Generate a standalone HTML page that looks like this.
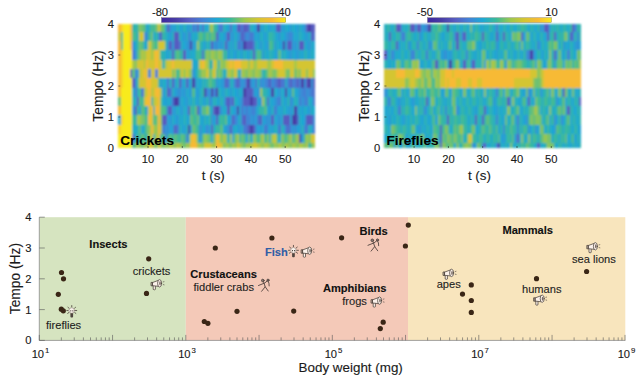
<!DOCTYPE html>
<html><head><meta charset="utf-8"><style>
html,body{margin:0;padding:0;background:#fff;width:640px;height:378px;overflow:hidden;}
svg{display:block;}
text{font-family:"Liberation Sans",sans-serif;}
</style></head><body>
<svg width="640" height="378" viewBox="0 0 640 378">
<defs><filter id="blur" x="-2%" y="-2%" width="104%" height="104%"><feGaussianBlur stdDeviation="0.8"/></filter></defs>
<rect width="640" height="378" fill="#ffffff"/>
<g shape-rendering="crispEdges" filter="url(#blur)">
<rect x="118.30" y="24.00" width="2.82" height="8.25" fill="#f7ba36"/>
<rect x="120.62" y="24.00" width="2.82" height="8.25" fill="#f8d22a"/>
<rect x="122.94" y="24.00" width="2.82" height="8.25" fill="#f8eb1e"/>
<rect x="125.25" y="24.00" width="2.82" height="8.25" fill="#f8eb1e"/>
<rect x="127.57" y="24.00" width="2.82" height="8.25" fill="#f8eb1e"/>
<rect x="129.89" y="24.00" width="2.82" height="8.25" fill="#f7ba36"/>
<rect x="132.21" y="24.00" width="2.82" height="8.25" fill="#36b6a4"/>
<rect x="134.52" y="24.00" width="2.82" height="8.25" fill="#2cb1b7"/>
<rect x="136.84" y="24.00" width="2.82" height="8.25" fill="#4bbc8d"/>
<rect x="139.16" y="24.00" width="2.82" height="8.25" fill="#8bc55c"/>
<rect x="141.48" y="24.00" width="2.82" height="8.25" fill="#6cc174"/>
<rect x="143.79" y="24.00" width="2.82" height="8.25" fill="#4dbc8b"/>
<rect x="146.11" y="24.00" width="2.82" height="8.25" fill="#23a3d4"/>
<rect x="148.43" y="24.00" width="2.82" height="8.25" fill="#2eb2b4"/>
<rect x="150.75" y="24.00" width="2.82" height="8.25" fill="#50bd89"/>
<rect x="153.06" y="24.00" width="2.82" height="8.25" fill="#38b89f"/>
<rect x="155.38" y="24.00" width="2.82" height="8.25" fill="#71c170"/>
<rect x="157.70" y="24.00" width="2.82" height="8.25" fill="#d4c532"/>
<rect x="160.02" y="24.00" width="2.82" height="8.25" fill="#7ec366"/>
<rect x="162.34" y="24.00" width="2.82" height="8.25" fill="#5fbf7e"/>
<rect x="164.65" y="24.00" width="2.82" height="8.25" fill="#1fa9d1"/>
<rect x="166.97" y="24.00" width="2.82" height="8.25" fill="#585cc0"/>
<rect x="169.29" y="24.00" width="2.82" height="8.25" fill="#3491d5"/>
<rect x="171.61" y="24.00" width="2.82" height="8.25" fill="#20a9d0"/>
<rect x="173.92" y="24.00" width="2.82" height="8.25" fill="#279ed5"/>
<rect x="176.24" y="24.00" width="2.82" height="8.25" fill="#2bb0bb"/>
<rect x="178.56" y="24.00" width="2.82" height="8.25" fill="#21aace"/>
<rect x="180.88" y="24.00" width="2.82" height="8.25" fill="#269fd4"/>
<rect x="183.19" y="24.00" width="2.82" height="8.25" fill="#2bb0b9"/>
<rect x="185.51" y="24.00" width="2.82" height="8.25" fill="#21a4d4"/>
<rect x="187.83" y="24.00" width="2.82" height="8.25" fill="#2d98d5"/>
<rect x="190.15" y="24.00" width="2.82" height="8.25" fill="#26adc5"/>
<rect x="192.46" y="24.00" width="2.82" height="8.25" fill="#447fd4"/>
<rect x="194.78" y="24.00" width="2.82" height="8.25" fill="#2c99d5"/>
<rect x="197.10" y="24.00" width="2.82" height="8.25" fill="#585cc0"/>
<rect x="199.42" y="24.00" width="2.82" height="8.25" fill="#20a6d4"/>
<rect x="201.74" y="24.00" width="2.82" height="8.25" fill="#4a74ce"/>
<rect x="204.05" y="24.00" width="2.82" height="8.25" fill="#27aec2"/>
<rect x="206.37" y="24.00" width="2.82" height="8.25" fill="#1fa7d4"/>
<rect x="208.69" y="24.00" width="2.82" height="8.25" fill="#7ac369"/>
<rect x="211.01" y="24.00" width="2.82" height="8.25" fill="#aec646"/>
<rect x="213.32" y="24.00" width="2.82" height="8.25" fill="#3dba97"/>
<rect x="215.64" y="24.00" width="2.82" height="8.25" fill="#2cb0b8"/>
<rect x="217.96" y="24.00" width="2.82" height="8.25" fill="#3d87d6"/>
<rect x="220.28" y="24.00" width="2.82" height="8.25" fill="#467bd2"/>
<rect x="222.59" y="24.00" width="2.82" height="8.25" fill="#2db1b6"/>
<rect x="224.91" y="24.00" width="2.82" height="8.25" fill="#23abca"/>
<rect x="227.23" y="24.00" width="2.82" height="8.25" fill="#24a2d4"/>
<rect x="229.55" y="24.00" width="2.82" height="8.25" fill="#4d70cb"/>
<rect x="231.86" y="24.00" width="2.82" height="8.25" fill="#24abc8"/>
<rect x="234.18" y="24.00" width="2.82" height="8.25" fill="#23a3d4"/>
<rect x="236.50" y="24.00" width="2.82" height="8.25" fill="#585cc0"/>
<rect x="238.82" y="24.00" width="2.82" height="8.25" fill="#585cc0"/>
<rect x="241.14" y="24.00" width="2.82" height="8.25" fill="#447ed4"/>
<rect x="243.45" y="24.00" width="2.82" height="8.25" fill="#585cc0"/>
<rect x="245.77" y="24.00" width="2.82" height="8.25" fill="#585cc0"/>
<rect x="248.09" y="24.00" width="2.82" height="8.25" fill="#4977cf"/>
<rect x="250.41" y="24.00" width="2.82" height="8.25" fill="#29afbd"/>
<rect x="252.72" y="24.00" width="2.82" height="8.25" fill="#20a9d1"/>
<rect x="255.04" y="24.00" width="2.82" height="8.25" fill="#289ed5"/>
<rect x="257.36" y="24.00" width="2.82" height="8.25" fill="#483ca5"/>
<rect x="259.68" y="24.00" width="2.82" height="8.25" fill="#20a9cf"/>
<rect x="261.99" y="24.00" width="2.82" height="8.25" fill="#279fd4"/>
<rect x="264.31" y="24.00" width="2.82" height="8.25" fill="#2bb0ba"/>
<rect x="266.63" y="24.00" width="2.82" height="8.25" fill="#21aace"/>
<rect x="268.95" y="24.00" width="2.82" height="8.25" fill="#26a0d4"/>
<rect x="271.26" y="24.00" width="2.82" height="8.25" fill="#25acc6"/>
<rect x="273.58" y="24.00" width="2.82" height="8.25" fill="#21a5d4"/>
<rect x="275.90" y="24.00" width="2.82" height="8.25" fill="#585cc0"/>
<rect x="278.22" y="24.00" width="2.82" height="8.25" fill="#585cc0"/>
<rect x="280.54" y="24.00" width="2.82" height="8.25" fill="#20a6d4"/>
<rect x="282.85" y="24.00" width="2.82" height="8.25" fill="#2c99d5"/>
<rect x="285.17" y="24.00" width="2.82" height="8.25" fill="#27adc2"/>
<rect x="287.49" y="24.00" width="2.82" height="8.25" fill="#1fa7d4"/>
<rect x="289.81" y="24.00" width="2.82" height="8.25" fill="#2b9ad5"/>
<rect x="292.12" y="24.00" width="2.82" height="8.25" fill="#28aec1"/>
<rect x="294.44" y="24.00" width="2.82" height="8.25" fill="#1ea8d4"/>
<rect x="296.76" y="24.00" width="2.82" height="8.25" fill="#2a9bd5"/>
<rect x="299.08" y="24.00" width="2.82" height="8.25" fill="#28aebf"/>
<rect x="301.39" y="24.00" width="2.82" height="8.25" fill="#25a1d4"/>
<rect x="303.71" y="24.00" width="2.82" height="8.25" fill="#3194d5"/>
<rect x="306.03" y="24.00" width="2.82" height="8.25" fill="#585cc0"/>
<rect x="308.35" y="24.00" width="2.82" height="8.25" fill="#483ca5"/>
<rect x="310.66" y="24.00" width="2.82" height="8.25" fill="#585cc0"/>
<rect x="312.98" y="24.00" width="2.32" height="8.25" fill="#585cc0"/>
<rect x="118.30" y="31.75" width="2.82" height="9.80" fill="#d4c532"/>
<rect x="120.62" y="31.75" width="2.82" height="9.80" fill="#3dba98"/>
<rect x="122.94" y="31.75" width="2.82" height="9.80" fill="#f8eb1e"/>
<rect x="125.25" y="31.75" width="2.82" height="9.80" fill="#f8eb1e"/>
<rect x="127.57" y="31.75" width="2.82" height="9.80" fill="#f8eb1e"/>
<rect x="129.89" y="31.75" width="2.82" height="9.80" fill="#f7ba36"/>
<rect x="132.21" y="31.75" width="2.82" height="9.80" fill="#4cbc8c"/>
<rect x="134.52" y="31.75" width="2.82" height="9.80" fill="#37b7a1"/>
<rect x="136.84" y="31.75" width="2.82" height="9.80" fill="#2eb1b5"/>
<rect x="139.16" y="31.75" width="2.82" height="9.80" fill="#d4c532"/>
<rect x="141.48" y="31.75" width="2.82" height="9.80" fill="#d4c532"/>
<rect x="143.79" y="31.75" width="2.82" height="9.80" fill="#2e97d5"/>
<rect x="146.11" y="31.75" width="2.82" height="9.80" fill="#3a8ad6"/>
<rect x="148.43" y="31.75" width="2.82" height="9.80" fill="#39b89e"/>
<rect x="150.75" y="31.75" width="2.82" height="9.80" fill="#72c16f"/>
<rect x="153.06" y="31.75" width="2.82" height="9.80" fill="#1fa9d2"/>
<rect x="155.38" y="31.75" width="2.82" height="9.80" fill="#33b5aa"/>
<rect x="157.70" y="31.75" width="2.82" height="9.80" fill="#3490d5"/>
<rect x="160.02" y="31.75" width="2.82" height="9.80" fill="#585cc0"/>
<rect x="162.34" y="31.75" width="2.82" height="9.80" fill="#34b5a8"/>
<rect x="164.65" y="31.75" width="2.82" height="9.80" fill="#2aafbc"/>
<rect x="166.97" y="31.75" width="2.82" height="9.80" fill="#20a9cf"/>
<rect x="169.29" y="31.75" width="2.82" height="9.80" fill="#279fd4"/>
<rect x="171.61" y="31.75" width="2.82" height="9.80" fill="#2bb0ba"/>
<rect x="173.92" y="31.75" width="2.82" height="9.80" fill="#585cc0"/>
<rect x="176.24" y="31.75" width="2.82" height="9.80" fill="#585cc0"/>
<rect x="178.56" y="31.75" width="2.82" height="9.80" fill="#2cb0b9"/>
<rect x="180.88" y="31.75" width="2.82" height="9.80" fill="#21a5d4"/>
<rect x="183.19" y="31.75" width="2.82" height="9.80" fill="#2d98d5"/>
<rect x="185.51" y="31.75" width="2.82" height="9.80" fill="#26adc4"/>
<rect x="187.83" y="31.75" width="2.82" height="9.80" fill="#4380d5"/>
<rect x="190.15" y="31.75" width="2.82" height="9.80" fill="#2c99d5"/>
<rect x="192.46" y="31.75" width="2.82" height="9.80" fill="#27adc2"/>
<rect x="194.78" y="31.75" width="2.82" height="9.80" fill="#1fa7d4"/>
<rect x="197.10" y="31.75" width="2.82" height="9.80" fill="#31b4ad"/>
<rect x="199.42" y="31.75" width="2.82" height="9.80" fill="#5abe81"/>
<rect x="201.74" y="31.75" width="2.82" height="9.80" fill="#3cba98"/>
<rect x="204.05" y="31.75" width="2.82" height="9.80" fill="#32b4ac"/>
<rect x="206.37" y="31.75" width="2.82" height="9.80" fill="#5dbe7f"/>
<rect x="208.69" y="31.75" width="2.82" height="9.80" fill="#36b6a4"/>
<rect x="211.01" y="31.75" width="2.82" height="9.80" fill="#69c076"/>
<rect x="213.32" y="31.75" width="2.82" height="9.80" fill="#4bbc8d"/>
<rect x="215.64" y="31.75" width="2.82" height="9.80" fill="#585cc0"/>
<rect x="217.96" y="31.75" width="2.82" height="9.80" fill="#3095d5"/>
<rect x="220.28" y="31.75" width="2.82" height="9.80" fill="#23abc9"/>
<rect x="222.59" y="31.75" width="2.82" height="9.80" fill="#23a2d4"/>
<rect x="224.91" y="31.75" width="2.82" height="9.80" fill="#2f96d5"/>
<rect x="227.23" y="31.75" width="2.82" height="9.80" fill="#585cc0"/>
<rect x="229.55" y="31.75" width="2.82" height="9.80" fill="#22a3d4"/>
<rect x="231.86" y="31.75" width="2.82" height="9.80" fill="#2e97d5"/>
<rect x="234.18" y="31.75" width="2.82" height="9.80" fill="#25acc6"/>
<rect x="236.50" y="31.75" width="2.82" height="9.80" fill="#299cd5"/>
<rect x="238.82" y="31.75" width="2.82" height="9.80" fill="#3590d5"/>
<rect x="241.14" y="31.75" width="2.82" height="9.80" fill="#585cc0"/>
<rect x="243.45" y="31.75" width="2.82" height="9.80" fill="#4877d0"/>
<rect x="245.77" y="31.75" width="2.82" height="9.80" fill="#3491d5"/>
<rect x="248.09" y="31.75" width="2.82" height="9.80" fill="#4085d6"/>
<rect x="250.41" y="31.75" width="2.82" height="9.80" fill="#4878d0"/>
<rect x="252.72" y="31.75" width="2.82" height="9.80" fill="#3392d5"/>
<rect x="255.04" y="31.75" width="2.82" height="9.80" fill="#21aace"/>
<rect x="257.36" y="31.75" width="2.82" height="9.80" fill="#269fd4"/>
<rect x="259.68" y="31.75" width="2.82" height="9.80" fill="#2bb0b9"/>
<rect x="261.99" y="31.75" width="2.82" height="9.80" fill="#22aacd"/>
<rect x="264.31" y="31.75" width="2.82" height="9.80" fill="#25a0d4"/>
<rect x="266.63" y="31.75" width="2.82" height="9.80" fill="#26adc5"/>
<rect x="268.95" y="31.75" width="2.82" height="9.80" fill="#3ab99c"/>
<rect x="271.26" y="31.75" width="2.82" height="9.80" fill="#30b3b0"/>
<rect x="273.58" y="31.75" width="2.82" height="9.80" fill="#26adc3"/>
<rect x="275.90" y="31.75" width="2.82" height="9.80" fill="#20a6d4"/>
<rect x="278.22" y="31.75" width="2.82" height="9.80" fill="#2b9ad5"/>
<rect x="280.54" y="31.75" width="2.82" height="9.80" fill="#27adc2"/>
<rect x="282.85" y="31.75" width="2.82" height="9.80" fill="#1fa7d4"/>
<rect x="285.17" y="31.75" width="2.82" height="9.80" fill="#2a9bd5"/>
<rect x="287.49" y="31.75" width="2.82" height="9.80" fill="#368fd5"/>
<rect x="289.81" y="31.75" width="2.82" height="9.80" fill="#4282d6"/>
<rect x="292.12" y="31.75" width="2.82" height="9.80" fill="#299cd5"/>
<rect x="294.44" y="31.75" width="2.82" height="9.80" fill="#22abcc"/>
<rect x="296.76" y="31.75" width="2.82" height="9.80" fill="#25a1d4"/>
<rect x="299.08" y="31.75" width="2.82" height="9.80" fill="#2db1b7"/>
<rect x="301.39" y="31.75" width="2.82" height="9.80" fill="#23abca"/>
<rect x="303.71" y="31.75" width="2.82" height="9.80" fill="#24a2d4"/>
<rect x="306.03" y="31.75" width="2.82" height="9.80" fill="#2f96d5"/>
<rect x="308.35" y="31.75" width="2.82" height="9.80" fill="#24abc8"/>
<rect x="310.66" y="31.75" width="2.82" height="9.80" fill="#585cc0"/>
<rect x="312.98" y="31.75" width="2.32" height="9.80" fill="#4c71cc"/>
<rect x="118.30" y="41.05" width="2.82" height="9.80" fill="#f7ba36"/>
<rect x="120.62" y="41.05" width="2.82" height="9.80" fill="#4abc8d"/>
<rect x="122.94" y="41.05" width="2.82" height="9.80" fill="#f8eb1e"/>
<rect x="125.25" y="41.05" width="2.82" height="9.80" fill="#f8eb1e"/>
<rect x="127.57" y="41.05" width="2.82" height="9.80" fill="#f8eb1e"/>
<rect x="129.89" y="41.05" width="2.82" height="9.80" fill="#f7ba36"/>
<rect x="132.21" y="41.05" width="2.82" height="9.80" fill="#2f96d5"/>
<rect x="134.52" y="41.05" width="2.82" height="9.80" fill="#24acc8"/>
<rect x="136.84" y="41.05" width="2.82" height="9.80" fill="#38b89f"/>
<rect x="139.16" y="41.05" width="2.82" height="9.80" fill="#71c170"/>
<rect x="141.48" y="41.05" width="2.82" height="9.80" fill="#52bd87"/>
<rect x="143.79" y="41.05" width="2.82" height="9.80" fill="#21a4d4"/>
<rect x="146.11" y="41.05" width="2.82" height="9.80" fill="#29afbe"/>
<rect x="148.43" y="41.05" width="2.82" height="9.80" fill="#d4c532"/>
<rect x="150.75" y="41.05" width="2.82" height="9.80" fill="#80c365"/>
<rect x="153.06" y="41.05" width="2.82" height="9.80" fill="#61bf7c"/>
<rect x="155.38" y="41.05" width="2.82" height="9.80" fill="#42bb93"/>
<rect x="157.70" y="41.05" width="2.82" height="9.80" fill="#d4c532"/>
<rect x="160.02" y="41.05" width="2.82" height="9.80" fill="#d4c532"/>
<rect x="162.34" y="41.05" width="2.82" height="9.80" fill="#d4c532"/>
<rect x="164.65" y="41.05" width="2.82" height="9.80" fill="#35b6a6"/>
<rect x="166.97" y="41.05" width="2.82" height="9.80" fill="#3293d5"/>
<rect x="169.29" y="41.05" width="2.82" height="9.80" fill="#585cc0"/>
<rect x="171.61" y="41.05" width="2.82" height="9.80" fill="#25a0d4"/>
<rect x="173.92" y="41.05" width="2.82" height="9.80" fill="#585cc0"/>
<rect x="176.24" y="41.05" width="2.82" height="9.80" fill="#585cc0"/>
<rect x="178.56" y="41.05" width="2.82" height="9.80" fill="#4b73cd"/>
<rect x="180.88" y="41.05" width="2.82" height="9.80" fill="#26adc3"/>
<rect x="183.19" y="41.05" width="2.82" height="9.80" fill="#20a6d4"/>
<rect x="185.51" y="41.05" width="2.82" height="9.80" fill="#2b9ad5"/>
<rect x="187.83" y="41.05" width="2.82" height="9.80" fill="#378ed5"/>
<rect x="190.15" y="41.05" width="2.82" height="9.80" fill="#483ca5"/>
<rect x="192.46" y="41.05" width="2.82" height="9.80" fill="#2a9bd5"/>
<rect x="194.78" y="41.05" width="2.82" height="9.80" fill="#28aec0"/>
<rect x="197.10" y="41.05" width="2.82" height="9.80" fill="#9bc750"/>
<rect x="199.42" y="41.05" width="2.82" height="9.80" fill="#32b4ab"/>
<rect x="201.74" y="41.05" width="2.82" height="9.80" fill="#22abcc"/>
<rect x="204.05" y="41.05" width="2.82" height="9.80" fill="#25a1d4"/>
<rect x="206.37" y="41.05" width="2.82" height="9.80" fill="#2db1b7"/>
<rect x="208.69" y="41.05" width="2.82" height="9.80" fill="#23abca"/>
<rect x="211.01" y="41.05" width="2.82" height="9.80" fill="#585cc0"/>
<rect x="213.32" y="41.05" width="2.82" height="9.80" fill="#2f96d5"/>
<rect x="215.64" y="41.05" width="2.82" height="9.80" fill="#3b89d6"/>
<rect x="217.96" y="41.05" width="2.82" height="9.80" fill="#23a3d4"/>
<rect x="220.28" y="41.05" width="2.82" height="9.80" fill="#2f97d5"/>
<rect x="222.59" y="41.05" width="2.82" height="9.80" fill="#25acc7"/>
<rect x="224.91" y="41.05" width="2.82" height="9.80" fill="#585cc0"/>
<rect x="227.23" y="41.05" width="2.82" height="9.80" fill="#2e98d5"/>
<rect x="229.55" y="41.05" width="2.82" height="9.80" fill="#25acc5"/>
<rect x="231.86" y="41.05" width="2.82" height="9.80" fill="#299dd5"/>
<rect x="234.18" y="41.05" width="2.82" height="9.80" fill="#29afbd"/>
<rect x="236.50" y="41.05" width="2.82" height="9.80" fill="#4084d6"/>
<rect x="238.82" y="41.05" width="2.82" height="9.80" fill="#4878d0"/>
<rect x="241.14" y="41.05" width="2.82" height="9.80" fill="#3391d5"/>
<rect x="243.45" y="41.05" width="2.82" height="9.80" fill="#483ca5"/>
<rect x="245.77" y="41.05" width="2.82" height="9.80" fill="#585cc0"/>
<rect x="248.09" y="41.05" width="2.82" height="9.80" fill="#585cc0"/>
<rect x="250.41" y="41.05" width="2.82" height="9.80" fill="#585cc0"/>
<rect x="252.72" y="41.05" width="2.82" height="9.80" fill="#477ad1"/>
<rect x="255.04" y="41.05" width="2.82" height="9.80" fill="#2cb0b9"/>
<rect x="257.36" y="41.05" width="2.82" height="9.80" fill="#22aacc"/>
<rect x="259.68" y="41.05" width="2.82" height="9.80" fill="#2d98d5"/>
<rect x="261.99" y="41.05" width="2.82" height="9.80" fill="#26adc4"/>
<rect x="264.31" y="41.05" width="2.82" height="9.80" fill="#20a6d4"/>
<rect x="266.63" y="41.05" width="2.82" height="9.80" fill="#2c99d5"/>
<rect x="268.95" y="41.05" width="2.82" height="9.80" fill="#58be83"/>
<rect x="271.26" y="41.05" width="2.82" height="9.80" fill="#3bb99a"/>
<rect x="273.58" y="41.05" width="2.82" height="9.80" fill="#2b9ad5"/>
<rect x="275.90" y="41.05" width="2.82" height="9.80" fill="#27aec1"/>
<rect x="278.22" y="41.05" width="2.82" height="9.80" fill="#1ea8d4"/>
<rect x="280.54" y="41.05" width="2.82" height="9.80" fill="#2a9bd5"/>
<rect x="282.85" y="41.05" width="2.82" height="9.80" fill="#483ca5"/>
<rect x="285.17" y="41.05" width="2.82" height="9.80" fill="#1fa8d3"/>
<rect x="287.49" y="41.05" width="2.82" height="9.80" fill="#585cc0"/>
<rect x="289.81" y="41.05" width="2.82" height="9.80" fill="#585cc0"/>
<rect x="292.12" y="41.05" width="2.82" height="9.80" fill="#24a1d4"/>
<rect x="294.44" y="41.05" width="2.82" height="9.80" fill="#3095d5"/>
<rect x="296.76" y="41.05" width="2.82" height="9.80" fill="#23abc9"/>
<rect x="299.08" y="41.05" width="2.82" height="9.80" fill="#585cc0"/>
<rect x="301.39" y="41.05" width="2.82" height="9.80" fill="#585cc0"/>
<rect x="303.71" y="41.05" width="2.82" height="9.80" fill="#24acc8"/>
<rect x="306.03" y="41.05" width="2.82" height="9.80" fill="#22a3d4"/>
<rect x="308.35" y="41.05" width="2.82" height="9.80" fill="#2e97d5"/>
<rect x="310.66" y="41.05" width="2.82" height="9.80" fill="#25acc6"/>
<rect x="312.98" y="41.05" width="2.32" height="9.80" fill="#21a4d4"/>
<rect x="118.30" y="50.35" width="2.82" height="9.80" fill="#f7ba36"/>
<rect x="120.62" y="50.35" width="2.82" height="9.80" fill="#f8d22a"/>
<rect x="122.94" y="50.35" width="2.82" height="9.80" fill="#f8eb1e"/>
<rect x="125.25" y="50.35" width="2.82" height="9.80" fill="#f8eb1e"/>
<rect x="127.57" y="50.35" width="2.82" height="9.80" fill="#f8eb1e"/>
<rect x="129.89" y="50.35" width="2.82" height="9.80" fill="#f8eb1e"/>
<rect x="132.21" y="50.35" width="2.82" height="9.80" fill="#447ed4"/>
<rect x="134.52" y="50.35" width="2.82" height="9.80" fill="#2e98d5"/>
<rect x="136.84" y="50.35" width="2.82" height="9.80" fill="#53bd87"/>
<rect x="139.16" y="50.35" width="2.82" height="9.80" fill="#7fc366"/>
<rect x="141.48" y="50.35" width="2.82" height="9.80" fill="#b0c645"/>
<rect x="143.79" y="50.35" width="2.82" height="9.80" fill="#9ec74e"/>
<rect x="146.11" y="50.35" width="2.82" height="9.80" fill="#d4c532"/>
<rect x="148.43" y="50.35" width="2.82" height="9.80" fill="#d4c532"/>
<rect x="150.75" y="50.35" width="2.82" height="9.80" fill="#9fc74e"/>
<rect x="153.06" y="50.35" width="2.82" height="9.80" fill="#d4c532"/>
<rect x="155.38" y="50.35" width="2.82" height="9.80" fill="#f7ba36"/>
<rect x="157.70" y="50.35" width="2.82" height="9.80" fill="#d4c532"/>
<rect x="160.02" y="50.35" width="2.82" height="9.80" fill="#35b6a5"/>
<rect x="162.34" y="50.35" width="2.82" height="9.80" fill="#2cb0b9"/>
<rect x="164.65" y="50.35" width="2.82" height="9.80" fill="#22aacc"/>
<rect x="166.97" y="50.35" width="2.82" height="9.80" fill="#25a1d4"/>
<rect x="169.29" y="50.35" width="2.82" height="9.80" fill="#26adc4"/>
<rect x="171.61" y="50.35" width="2.82" height="9.80" fill="#585cc0"/>
<rect x="173.92" y="50.35" width="2.82" height="9.80" fill="#30b3af"/>
<rect x="176.24" y="50.35" width="2.82" height="9.80" fill="#57be83"/>
<rect x="178.56" y="50.35" width="2.82" height="9.80" fill="#3bb99a"/>
<rect x="180.88" y="50.35" width="2.82" height="9.80" fill="#31b4ae"/>
<rect x="183.19" y="50.35" width="2.82" height="9.80" fill="#585cc0"/>
<rect x="185.51" y="50.35" width="2.82" height="9.80" fill="#1ea8d4"/>
<rect x="187.83" y="50.35" width="2.82" height="9.80" fill="#2a9bd5"/>
<rect x="190.15" y="50.35" width="2.82" height="9.80" fill="#28aec0"/>
<rect x="192.46" y="50.35" width="2.82" height="9.80" fill="#1ea8d3"/>
<rect x="194.78" y="50.35" width="2.82" height="9.80" fill="#33b4ab"/>
<rect x="197.10" y="50.35" width="2.82" height="9.80" fill="#4abc8d"/>
<rect x="199.42" y="50.35" width="2.82" height="9.80" fill="#37b7a2"/>
<rect x="201.74" y="50.35" width="2.82" height="9.80" fill="#4d6fcb"/>
<rect x="204.05" y="50.35" width="2.82" height="9.80" fill="#4dbc8b"/>
<rect x="206.37" y="50.35" width="2.82" height="9.80" fill="#8dc55b"/>
<rect x="208.69" y="50.35" width="2.82" height="9.80" fill="#6ec172"/>
<rect x="211.01" y="50.35" width="2.82" height="9.80" fill="#a7c74a"/>
<rect x="213.32" y="50.35" width="2.82" height="9.80" fill="#8fc559"/>
<rect x="215.64" y="50.35" width="2.82" height="9.80" fill="#71c170"/>
<rect x="217.96" y="50.35" width="2.82" height="9.80" fill="#a8c749"/>
<rect x="220.28" y="50.35" width="2.82" height="9.80" fill="#92c657"/>
<rect x="222.59" y="50.35" width="2.82" height="9.80" fill="#2fb2b1"/>
<rect x="224.91" y="50.35" width="2.82" height="9.80" fill="#40ba95"/>
<rect x="227.23" y="50.35" width="2.82" height="9.80" fill="#289dd5"/>
<rect x="229.55" y="50.35" width="2.82" height="9.80" fill="#2aafbd"/>
<rect x="231.86" y="50.35" width="2.82" height="9.80" fill="#20a9d0"/>
<rect x="234.18" y="50.35" width="2.82" height="9.80" fill="#279ed5"/>
<rect x="236.50" y="50.35" width="2.82" height="9.80" fill="#2aafbb"/>
<rect x="238.82" y="50.35" width="2.82" height="9.80" fill="#21aacf"/>
<rect x="241.14" y="50.35" width="2.82" height="9.80" fill="#269fd4"/>
<rect x="243.45" y="50.35" width="2.82" height="9.80" fill="#2bb0ba"/>
<rect x="245.77" y="50.35" width="2.82" height="9.80" fill="#21aacd"/>
<rect x="248.09" y="50.35" width="2.82" height="9.80" fill="#26a0d4"/>
<rect x="250.41" y="50.35" width="2.82" height="9.80" fill="#2cb0b8"/>
<rect x="252.72" y="50.35" width="2.82" height="9.80" fill="#585cc0"/>
<rect x="255.04" y="50.35" width="2.82" height="9.80" fill="#30b3b0"/>
<rect x="257.36" y="50.35" width="2.82" height="9.80" fill="#56be84"/>
<rect x="259.68" y="50.35" width="2.82" height="9.80" fill="#3bb99b"/>
<rect x="261.99" y="50.35" width="2.82" height="9.80" fill="#2b9ad5"/>
<rect x="264.31" y="50.35" width="2.82" height="9.80" fill="#27adc2"/>
<rect x="266.63" y="50.35" width="2.82" height="9.80" fill="#1fa7d4"/>
<rect x="268.95" y="50.35" width="2.82" height="9.80" fill="#32b4ad"/>
<rect x="271.26" y="50.35" width="2.82" height="9.80" fill="#28aec0"/>
<rect x="273.58" y="50.35" width="2.82" height="9.80" fill="#1ea8d4"/>
<rect x="275.90" y="50.35" width="2.82" height="9.80" fill="#2a9cd5"/>
<rect x="278.22" y="50.35" width="2.82" height="9.80" fill="#5ebf7f"/>
<rect x="280.54" y="50.35" width="2.82" height="9.80" fill="#1fa9d2"/>
<rect x="282.85" y="50.35" width="2.82" height="9.80" fill="#2db1b7"/>
<rect x="285.17" y="50.35" width="2.82" height="9.80" fill="#23abca"/>
<rect x="287.49" y="50.35" width="2.82" height="9.80" fill="#24a2d4"/>
<rect x="289.81" y="50.35" width="2.82" height="9.80" fill="#2f96d5"/>
<rect x="292.12" y="50.35" width="2.82" height="9.80" fill="#24abc9"/>
<rect x="294.44" y="50.35" width="2.82" height="9.80" fill="#23a3d4"/>
<rect x="296.76" y="50.35" width="2.82" height="9.80" fill="#2f97d5"/>
<rect x="299.08" y="50.35" width="2.82" height="9.80" fill="#24acc7"/>
<rect x="301.39" y="50.35" width="2.82" height="9.80" fill="#22a4d4"/>
<rect x="303.71" y="50.35" width="2.82" height="9.80" fill="#2fb2b2"/>
<rect x="306.03" y="50.35" width="2.82" height="9.80" fill="#25acc6"/>
<rect x="308.35" y="50.35" width="2.82" height="9.80" fill="#21a5d4"/>
<rect x="310.66" y="50.35" width="2.82" height="9.80" fill="#29afbd"/>
<rect x="312.98" y="50.35" width="2.32" height="9.80" fill="#20a9d1"/>
<rect x="118.30" y="59.65" width="2.82" height="9.80" fill="#f7ba36"/>
<rect x="120.62" y="59.65" width="2.82" height="9.80" fill="#f8d22a"/>
<rect x="122.94" y="59.65" width="2.82" height="9.80" fill="#f8eb1e"/>
<rect x="125.25" y="59.65" width="2.82" height="9.80" fill="#f8eb1e"/>
<rect x="127.57" y="59.65" width="2.82" height="9.80" fill="#f8eb1e"/>
<rect x="129.89" y="59.65" width="2.82" height="9.80" fill="#f8eb1e"/>
<rect x="132.21" y="59.65" width="2.82" height="9.80" fill="#a9c648"/>
<rect x="134.52" y="59.65" width="2.82" height="9.80" fill="#80c365"/>
<rect x="136.84" y="59.65" width="2.82" height="9.80" fill="#d4c532"/>
<rect x="139.16" y="59.65" width="2.82" height="9.80" fill="#d4c532"/>
<rect x="141.48" y="59.65" width="2.82" height="9.80" fill="#d4c532"/>
<rect x="143.79" y="59.65" width="2.82" height="9.80" fill="#b3c644"/>
<rect x="146.11" y="59.65" width="2.82" height="9.80" fill="#f7ba36"/>
<rect x="148.43" y="59.65" width="2.82" height="9.80" fill="#d4c532"/>
<rect x="150.75" y="59.65" width="2.82" height="9.80" fill="#d4c532"/>
<rect x="153.06" y="59.65" width="2.82" height="9.80" fill="#d4c532"/>
<rect x="155.38" y="59.65" width="2.82" height="9.80" fill="#f7ba36"/>
<rect x="157.70" y="59.65" width="2.82" height="9.80" fill="#d4c532"/>
<rect x="160.02" y="59.65" width="2.82" height="9.80" fill="#d4c532"/>
<rect x="162.34" y="59.65" width="2.82" height="9.80" fill="#30b3b0"/>
<rect x="164.65" y="59.65" width="2.82" height="9.80" fill="#abc648"/>
<rect x="166.97" y="59.65" width="2.82" height="9.80" fill="#d4c532"/>
<rect x="169.29" y="59.65" width="2.82" height="9.80" fill="#d4c532"/>
<rect x="171.61" y="59.65" width="2.82" height="9.80" fill="#f7ba36"/>
<rect x="173.92" y="59.65" width="2.82" height="9.80" fill="#d4c532"/>
<rect x="176.24" y="59.65" width="2.82" height="9.80" fill="#d4c532"/>
<rect x="178.56" y="59.65" width="2.82" height="9.80" fill="#d4c532"/>
<rect x="180.88" y="59.65" width="2.82" height="9.80" fill="#d4c532"/>
<rect x="183.19" y="59.65" width="2.82" height="9.80" fill="#d4c532"/>
<rect x="185.51" y="59.65" width="2.82" height="9.80" fill="#d4c532"/>
<rect x="187.83" y="59.65" width="2.82" height="9.80" fill="#d4c532"/>
<rect x="190.15" y="59.65" width="2.82" height="9.80" fill="#d4c532"/>
<rect x="192.46" y="59.65" width="2.82" height="9.80" fill="#23abca"/>
<rect x="194.78" y="59.65" width="2.82" height="9.80" fill="#24a2d4"/>
<rect x="197.10" y="59.65" width="2.82" height="9.80" fill="#2db1b5"/>
<rect x="199.42" y="59.65" width="2.82" height="9.80" fill="#d4c532"/>
<rect x="201.74" y="59.65" width="2.82" height="9.80" fill="#f7ba36"/>
<rect x="204.05" y="59.65" width="2.82" height="9.80" fill="#d4c532"/>
<rect x="206.37" y="59.65" width="2.82" height="9.80" fill="#a7c74a"/>
<rect x="208.69" y="59.65" width="2.82" height="9.80" fill="#39b89f"/>
<rect x="211.01" y="59.65" width="2.82" height="9.80" fill="#2fb2b2"/>
<rect x="213.32" y="59.65" width="2.82" height="9.80" fill="#d4c532"/>
<rect x="215.64" y="59.65" width="2.82" height="9.80" fill="#93c656"/>
<rect x="217.96" y="59.65" width="2.82" height="9.80" fill="#30b3b1"/>
<rect x="220.28" y="59.65" width="2.82" height="9.80" fill="#9ec74e"/>
<rect x="222.59" y="59.65" width="2.82" height="9.80" fill="#81c364"/>
<rect x="224.91" y="59.65" width="2.82" height="9.80" fill="#b2c644"/>
<rect x="227.23" y="59.65" width="2.82" height="9.80" fill="#d4c532"/>
<rect x="229.55" y="59.65" width="2.82" height="9.80" fill="#f7ba36"/>
<rect x="231.86" y="59.65" width="2.82" height="9.80" fill="#d4c532"/>
<rect x="234.18" y="59.65" width="2.82" height="9.80" fill="#f7ba36"/>
<rect x="236.50" y="59.65" width="2.82" height="9.80" fill="#f7ba36"/>
<rect x="238.82" y="59.65" width="2.82" height="9.80" fill="#f7ba36"/>
<rect x="241.14" y="59.65" width="2.82" height="9.80" fill="#d4c532"/>
<rect x="243.45" y="59.65" width="2.82" height="9.80" fill="#d4c532"/>
<rect x="245.77" y="59.65" width="2.82" height="9.80" fill="#d4c532"/>
<rect x="248.09" y="59.65" width="2.82" height="9.80" fill="#95c655"/>
<rect x="250.41" y="59.65" width="2.82" height="9.80" fill="#d4c532"/>
<rect x="252.72" y="59.65" width="2.82" height="9.80" fill="#abc647"/>
<rect x="255.04" y="59.65" width="2.82" height="9.80" fill="#97c753"/>
<rect x="257.36" y="59.65" width="2.82" height="9.80" fill="#d4c532"/>
<rect x="259.68" y="59.65" width="2.82" height="9.80" fill="#d4c532"/>
<rect x="261.99" y="59.65" width="2.82" height="9.80" fill="#d4c532"/>
<rect x="264.31" y="59.65" width="2.82" height="9.80" fill="#d4c532"/>
<rect x="266.63" y="59.65" width="2.82" height="9.80" fill="#aec646"/>
<rect x="268.95" y="59.65" width="2.82" height="9.80" fill="#9cc750"/>
<rect x="271.26" y="59.65" width="2.82" height="9.80" fill="#d4c532"/>
<rect x="273.58" y="59.65" width="2.82" height="9.80" fill="#f7ba36"/>
<rect x="275.90" y="59.65" width="2.82" height="9.80" fill="#f7ba36"/>
<rect x="278.22" y="59.65" width="2.82" height="9.80" fill="#f7ba36"/>
<rect x="280.54" y="59.65" width="2.82" height="9.80" fill="#f7ba36"/>
<rect x="282.85" y="59.65" width="2.82" height="9.80" fill="#d4c532"/>
<rect x="285.17" y="59.65" width="2.82" height="9.80" fill="#d4c532"/>
<rect x="287.49" y="59.65" width="2.82" height="9.80" fill="#d4c532"/>
<rect x="289.81" y="59.65" width="2.82" height="9.80" fill="#d4c532"/>
<rect x="292.12" y="59.65" width="2.82" height="9.80" fill="#d4c532"/>
<rect x="294.44" y="59.65" width="2.82" height="9.80" fill="#a8c749"/>
<rect x="296.76" y="59.65" width="2.82" height="9.80" fill="#d4c532"/>
<rect x="299.08" y="59.65" width="2.82" height="9.80" fill="#d4c532"/>
<rect x="301.39" y="59.65" width="2.82" height="9.80" fill="#d4c532"/>
<rect x="303.71" y="59.65" width="2.82" height="9.80" fill="#d4c532"/>
<rect x="306.03" y="59.65" width="2.82" height="9.80" fill="#d4c532"/>
<rect x="308.35" y="59.65" width="2.82" height="9.80" fill="#d4c532"/>
<rect x="310.66" y="59.65" width="2.82" height="9.80" fill="#d4c532"/>
<rect x="312.98" y="59.65" width="2.32" height="9.80" fill="#d4c532"/>
<rect x="118.30" y="68.95" width="2.82" height="9.80" fill="#f7ba36"/>
<rect x="120.62" y="68.95" width="2.82" height="9.80" fill="#f8d22a"/>
<rect x="122.94" y="68.95" width="2.82" height="9.80" fill="#f8eb1e"/>
<rect x="125.25" y="68.95" width="2.82" height="9.80" fill="#f8eb1e"/>
<rect x="127.57" y="68.95" width="2.82" height="9.80" fill="#f8eb1e"/>
<rect x="129.89" y="68.95" width="2.82" height="9.80" fill="#585cc0"/>
<rect x="132.21" y="68.95" width="2.82" height="9.80" fill="#62bf7b"/>
<rect x="134.52" y="68.95" width="2.82" height="9.80" fill="#3f85d6"/>
<rect x="136.84" y="68.95" width="2.82" height="9.80" fill="#279ed4"/>
<rect x="139.16" y="68.95" width="2.82" height="9.80" fill="#b3c643"/>
<rect x="141.48" y="68.95" width="2.82" height="9.80" fill="#d4c532"/>
<rect x="143.79" y="68.95" width="2.82" height="9.80" fill="#f7ba36"/>
<rect x="146.11" y="68.95" width="2.82" height="9.80" fill="#d4c532"/>
<rect x="148.43" y="68.95" width="2.82" height="9.80" fill="#3d87d6"/>
<rect x="150.75" y="68.95" width="2.82" height="9.80" fill="#d4c532"/>
<rect x="153.06" y="68.95" width="2.82" height="9.80" fill="#d4c532"/>
<rect x="155.38" y="68.95" width="2.82" height="9.80" fill="#4380d5"/>
<rect x="157.70" y="68.95" width="2.82" height="9.80" fill="#d4c532"/>
<rect x="160.02" y="68.95" width="2.82" height="9.80" fill="#d4c532"/>
<rect x="162.34" y="68.95" width="2.82" height="9.80" fill="#d4c532"/>
<rect x="164.65" y="68.95" width="2.82" height="9.80" fill="#d4c532"/>
<rect x="166.97" y="68.95" width="2.82" height="9.80" fill="#d4c532"/>
<rect x="169.29" y="68.95" width="2.82" height="9.80" fill="#d4c532"/>
<rect x="171.61" y="68.95" width="2.82" height="9.80" fill="#7bc368"/>
<rect x="173.92" y="68.95" width="2.82" height="9.80" fill="#aec646"/>
<rect x="176.24" y="68.95" width="2.82" height="9.80" fill="#3dba97"/>
<rect x="178.56" y="68.95" width="2.82" height="9.80" fill="#7dc366"/>
<rect x="180.88" y="68.95" width="2.82" height="9.80" fill="#d4c532"/>
<rect x="183.19" y="68.95" width="2.82" height="9.80" fill="#9dc74f"/>
<rect x="185.51" y="68.95" width="2.82" height="9.80" fill="#d4c532"/>
<rect x="187.83" y="68.95" width="2.82" height="9.80" fill="#a5c74b"/>
<rect x="190.15" y="68.95" width="2.82" height="9.80" fill="#8dc55b"/>
<rect x="192.46" y="68.95" width="2.82" height="9.80" fill="#2f96d5"/>
<rect x="194.78" y="68.95" width="2.82" height="9.80" fill="#24acc8"/>
<rect x="197.10" y="68.95" width="2.82" height="9.80" fill="#38b8a0"/>
<rect x="199.42" y="68.95" width="2.82" height="9.80" fill="#70c170"/>
<rect x="201.74" y="68.95" width="2.82" height="9.80" fill="#a8c749"/>
<rect x="204.05" y="68.95" width="2.82" height="9.80" fill="#92c657"/>
<rect x="206.37" y="68.95" width="2.82" height="9.80" fill="#d4c532"/>
<rect x="208.69" y="68.95" width="2.82" height="9.80" fill="#54bd86"/>
<rect x="211.01" y="68.95" width="2.82" height="9.80" fill="#94c655"/>
<rect x="213.32" y="68.95" width="2.82" height="9.80" fill="#d4c532"/>
<rect x="215.64" y="68.95" width="2.82" height="9.80" fill="#42bb94"/>
<rect x="217.96" y="68.95" width="2.82" height="9.80" fill="#82c463"/>
<rect x="220.28" y="68.95" width="2.82" height="9.80" fill="#63bf7a"/>
<rect x="222.59" y="68.95" width="2.82" height="9.80" fill="#21aacf"/>
<rect x="224.91" y="68.95" width="2.82" height="9.80" fill="#35b6a6"/>
<rect x="227.23" y="68.95" width="2.82" height="9.80" fill="#b4c643"/>
<rect x="229.55" y="68.95" width="2.82" height="9.80" fill="#a1c74d"/>
<rect x="231.86" y="68.95" width="2.82" height="9.80" fill="#87c45f"/>
<rect x="234.18" y="68.95" width="2.82" height="9.80" fill="#d4c532"/>
<rect x="236.50" y="68.95" width="2.82" height="9.80" fill="#49bc8e"/>
<rect x="238.82" y="68.95" width="2.82" height="9.80" fill="#25a1d4"/>
<rect x="241.14" y="68.95" width="2.82" height="9.80" fill="#abc648"/>
<rect x="243.45" y="68.95" width="2.82" height="9.80" fill="#96c654"/>
<rect x="245.77" y="68.95" width="2.82" height="9.80" fill="#77c26b"/>
<rect x="248.09" y="68.95" width="2.82" height="9.80" fill="#acc647"/>
<rect x="250.41" y="68.95" width="2.82" height="9.80" fill="#99c752"/>
<rect x="252.72" y="68.95" width="2.82" height="9.80" fill="#7ac269"/>
<rect x="255.04" y="68.95" width="2.82" height="9.80" fill="#aec646"/>
<rect x="257.36" y="68.95" width="2.82" height="9.80" fill="#9bc750"/>
<rect x="259.68" y="68.95" width="2.82" height="9.80" fill="#7cc367"/>
<rect x="261.99" y="68.95" width="2.82" height="9.80" fill="#29aebf"/>
<rect x="264.31" y="68.95" width="2.82" height="9.80" fill="#3eba96"/>
<rect x="266.63" y="68.95" width="2.82" height="9.80" fill="#7fc365"/>
<rect x="268.95" y="68.95" width="2.82" height="9.80" fill="#b0c645"/>
<rect x="271.26" y="68.95" width="2.82" height="9.80" fill="#8bc55c"/>
<rect x="273.58" y="68.95" width="2.82" height="9.80" fill="#6dc173"/>
<rect x="275.90" y="68.95" width="2.82" height="9.80" fill="#a6c74a"/>
<rect x="278.22" y="68.95" width="2.82" height="9.80" fill="#d4c532"/>
<rect x="280.54" y="68.95" width="2.82" height="9.80" fill="#d4c532"/>
<rect x="282.85" y="68.95" width="2.82" height="9.80" fill="#d4c532"/>
<rect x="285.17" y="68.95" width="2.82" height="9.80" fill="#90c658"/>
<rect x="287.49" y="68.95" width="2.82" height="9.80" fill="#71c16f"/>
<rect x="289.81" y="68.95" width="2.82" height="9.80" fill="#d4c532"/>
<rect x="292.12" y="68.95" width="2.82" height="9.80" fill="#d4c532"/>
<rect x="294.44" y="68.95" width="2.82" height="9.80" fill="#74c26e"/>
<rect x="296.76" y="68.95" width="2.82" height="9.80" fill="#aac648"/>
<rect x="299.08" y="68.95" width="2.82" height="9.80" fill="#81c364"/>
<rect x="301.39" y="68.95" width="2.82" height="9.80" fill="#d4c532"/>
<rect x="303.71" y="68.95" width="2.82" height="9.80" fill="#d4c532"/>
<rect x="306.03" y="68.95" width="2.82" height="9.80" fill="#83c462"/>
<rect x="308.35" y="68.95" width="2.82" height="9.80" fill="#d4c532"/>
<rect x="310.66" y="68.95" width="2.82" height="9.80" fill="#d4c532"/>
<rect x="312.98" y="68.95" width="2.32" height="9.80" fill="#86c460"/>
<rect x="118.30" y="78.25" width="2.82" height="9.80" fill="#f7ba36"/>
<rect x="120.62" y="78.25" width="2.82" height="9.80" fill="#f8d22a"/>
<rect x="122.94" y="78.25" width="2.82" height="9.80" fill="#f8eb1e"/>
<rect x="125.25" y="78.25" width="2.82" height="9.80" fill="#f8eb1e"/>
<rect x="127.57" y="78.25" width="2.82" height="9.80" fill="#f8eb1e"/>
<rect x="129.89" y="78.25" width="2.82" height="9.80" fill="#f8eb1e"/>
<rect x="132.21" y="78.25" width="2.82" height="9.80" fill="#585cc0"/>
<rect x="134.52" y="78.25" width="2.82" height="9.80" fill="#3293d5"/>
<rect x="136.84" y="78.25" width="2.82" height="9.80" fill="#47bb90"/>
<rect x="139.16" y="78.25" width="2.82" height="9.80" fill="#d4c532"/>
<rect x="141.48" y="78.25" width="2.82" height="9.80" fill="#d4c532"/>
<rect x="143.79" y="78.25" width="2.82" height="9.80" fill="#d4c532"/>
<rect x="146.11" y="78.25" width="2.82" height="9.80" fill="#f7ba36"/>
<rect x="148.43" y="78.25" width="2.82" height="9.80" fill="#f7ba36"/>
<rect x="150.75" y="78.25" width="2.82" height="9.80" fill="#d4c532"/>
<rect x="153.06" y="78.25" width="2.82" height="9.80" fill="#d4c532"/>
<rect x="155.38" y="78.25" width="2.82" height="9.80" fill="#d4c532"/>
<rect x="157.70" y="78.25" width="2.82" height="9.80" fill="#3bba9a"/>
<rect x="160.02" y="78.25" width="2.82" height="9.80" fill="#2b9bd5"/>
<rect x="162.34" y="78.25" width="2.82" height="9.80" fill="#28aec1"/>
<rect x="164.65" y="78.25" width="2.82" height="9.80" fill="#1ea8d4"/>
<rect x="166.97" y="78.25" width="2.82" height="9.80" fill="#4976cf"/>
<rect x="169.29" y="78.25" width="2.82" height="9.80" fill="#28aebf"/>
<rect x="171.61" y="78.25" width="2.82" height="9.80" fill="#585cc0"/>
<rect x="173.92" y="78.25" width="2.82" height="9.80" fill="#299dd5"/>
<rect x="176.24" y="78.25" width="2.82" height="9.80" fill="#29afbd"/>
<rect x="178.56" y="78.25" width="2.82" height="9.80" fill="#585cc0"/>
<rect x="180.88" y="78.25" width="2.82" height="9.80" fill="#3095d5"/>
<rect x="183.19" y="78.25" width="2.82" height="9.80" fill="#24abc9"/>
<rect x="185.51" y="78.25" width="2.82" height="9.80" fill="#585cc0"/>
<rect x="187.83" y="78.25" width="2.82" height="9.80" fill="#2f96d5"/>
<rect x="190.15" y="78.25" width="2.82" height="9.80" fill="#24acc7"/>
<rect x="192.46" y="78.25" width="2.82" height="9.80" fill="#483ca5"/>
<rect x="194.78" y="78.25" width="2.82" height="9.80" fill="#2e97d5"/>
<rect x="197.10" y="78.25" width="2.82" height="9.80" fill="#25acc6"/>
<rect x="199.42" y="78.25" width="2.82" height="9.80" fill="#21a5d4"/>
<rect x="201.74" y="78.25" width="2.82" height="9.80" fill="#30b3b1"/>
<rect x="204.05" y="78.25" width="2.82" height="9.80" fill="#26adc4"/>
<rect x="206.37" y="78.25" width="2.82" height="9.80" fill="#34b5a9"/>
<rect x="208.69" y="78.25" width="2.82" height="9.80" fill="#62bf7b"/>
<rect x="211.01" y="78.25" width="2.82" height="9.80" fill="#43bb93"/>
<rect x="213.32" y="78.25" width="2.82" height="9.80" fill="#34b5a7"/>
<rect x="215.64" y="78.25" width="2.82" height="9.80" fill="#3392d5"/>
<rect x="217.96" y="78.25" width="2.82" height="9.80" fill="#21aace"/>
<rect x="220.28" y="78.25" width="2.82" height="9.80" fill="#269fd4"/>
<rect x="222.59" y="78.25" width="2.82" height="9.80" fill="#3293d5"/>
<rect x="224.91" y="78.25" width="2.82" height="9.80" fill="#585cc0"/>
<rect x="227.23" y="78.25" width="2.82" height="9.80" fill="#467ad2"/>
<rect x="229.55" y="78.25" width="2.82" height="9.80" fill="#2cb1b8"/>
<rect x="231.86" y="78.25" width="2.82" height="9.80" fill="#23abcb"/>
<rect x="234.18" y="78.25" width="2.82" height="9.80" fill="#467bd2"/>
<rect x="236.50" y="78.25" width="2.82" height="9.80" fill="#585cc0"/>
<rect x="238.82" y="78.25" width="2.82" height="9.80" fill="#4381d5"/>
<rect x="241.14" y="78.25" width="2.82" height="9.80" fill="#2b9ad5"/>
<rect x="243.45" y="78.25" width="2.82" height="9.80" fill="#378ed5"/>
<rect x="245.77" y="78.25" width="2.82" height="9.80" fill="#585cc0"/>
<rect x="248.09" y="78.25" width="2.82" height="9.80" fill="#483ca5"/>
<rect x="250.41" y="78.25" width="2.82" height="9.80" fill="#368fd5"/>
<rect x="252.72" y="78.25" width="2.82" height="9.80" fill="#1ea8d3"/>
<rect x="255.04" y="78.25" width="2.82" height="9.80" fill="#4976cf"/>
<rect x="257.36" y="78.25" width="2.82" height="9.80" fill="#29afbe"/>
<rect x="259.68" y="78.25" width="2.82" height="9.80" fill="#4183d6"/>
<rect x="261.99" y="78.25" width="2.82" height="9.80" fill="#289dd5"/>
<rect x="264.31" y="78.25" width="2.82" height="9.80" fill="#3c89d6"/>
<rect x="266.63" y="78.25" width="2.82" height="9.80" fill="#457cd3"/>
<rect x="268.95" y="78.25" width="2.82" height="9.80" fill="#585cc0"/>
<rect x="271.26" y="78.25" width="2.82" height="9.80" fill="#3b8ad6"/>
<rect x="273.58" y="78.25" width="2.82" height="9.80" fill="#457dd3"/>
<rect x="275.90" y="78.25" width="2.82" height="9.80" fill="#4c71cc"/>
<rect x="278.22" y="78.25" width="2.82" height="9.80" fill="#585cc0"/>
<rect x="280.54" y="78.25" width="2.82" height="9.80" fill="#447ed4"/>
<rect x="282.85" y="78.25" width="2.82" height="9.80" fill="#4b72cd"/>
<rect x="285.17" y="78.25" width="2.82" height="9.80" fill="#26acc5"/>
<rect x="287.49" y="78.25" width="2.82" height="9.80" fill="#447fd4"/>
<rect x="289.81" y="78.25" width="2.82" height="9.80" fill="#585cc0"/>
<rect x="292.12" y="78.25" width="2.82" height="9.80" fill="#4084d6"/>
<rect x="294.44" y="78.25" width="2.82" height="9.80" fill="#4878d0"/>
<rect x="296.76" y="78.25" width="2.82" height="9.80" fill="#585cc0"/>
<rect x="299.08" y="78.25" width="2.82" height="9.80" fill="#3f85d6"/>
<rect x="301.39" y="78.25" width="2.82" height="9.80" fill="#483ca5"/>
<rect x="303.71" y="78.25" width="2.82" height="9.80" fill="#3293d5"/>
<rect x="306.03" y="78.25" width="2.82" height="9.80" fill="#585cc0"/>
<rect x="308.35" y="78.25" width="2.82" height="9.80" fill="#483ca5"/>
<rect x="310.66" y="78.25" width="2.82" height="9.80" fill="#3194d5"/>
<rect x="312.98" y="78.25" width="2.32" height="9.80" fill="#585cc0"/>
<rect x="118.30" y="87.55" width="2.82" height="9.80" fill="#f7ba36"/>
<rect x="120.62" y="87.55" width="2.82" height="9.80" fill="#f8eb1e"/>
<rect x="122.94" y="87.55" width="2.82" height="9.80" fill="#f8eb1e"/>
<rect x="125.25" y="87.55" width="2.82" height="9.80" fill="#f8eb1e"/>
<rect x="127.57" y="87.55" width="2.82" height="9.80" fill="#f8eb1e"/>
<rect x="129.89" y="87.55" width="2.82" height="9.80" fill="#f8eb1e"/>
<rect x="132.21" y="87.55" width="2.82" height="9.80" fill="#22aacd"/>
<rect x="134.52" y="87.55" width="2.82" height="9.80" fill="#467ad2"/>
<rect x="136.84" y="87.55" width="2.82" height="9.80" fill="#2cb1b8"/>
<rect x="139.16" y="87.55" width="2.82" height="9.80" fill="#4abc8d"/>
<rect x="141.48" y="87.55" width="2.82" height="9.80" fill="#467bd2"/>
<rect x="143.79" y="87.55" width="2.82" height="9.80" fill="#abc647"/>
<rect x="146.11" y="87.55" width="2.82" height="9.80" fill="#d4c532"/>
<rect x="148.43" y="87.55" width="2.82" height="9.80" fill="#f7ba36"/>
<rect x="150.75" y="87.55" width="2.82" height="9.80" fill="#adc647"/>
<rect x="153.06" y="87.55" width="2.82" height="9.80" fill="#d4c532"/>
<rect x="155.38" y="87.55" width="2.82" height="9.80" fill="#f7ba36"/>
<rect x="157.70" y="87.55" width="2.82" height="9.80" fill="#f7ba36"/>
<rect x="160.02" y="87.55" width="2.82" height="9.80" fill="#9cc750"/>
<rect x="162.34" y="87.55" width="2.82" height="9.80" fill="#299cd5"/>
<rect x="164.65" y="87.55" width="2.82" height="9.80" fill="#29afbe"/>
<rect x="166.97" y="87.55" width="2.82" height="9.80" fill="#585cc0"/>
<rect x="169.29" y="87.55" width="2.82" height="9.80" fill="#4877d0"/>
<rect x="171.61" y="87.55" width="2.82" height="9.80" fill="#2aafbd"/>
<rect x="173.92" y="87.55" width="2.82" height="9.80" fill="#24a2d4"/>
<rect x="176.24" y="87.55" width="2.82" height="9.80" fill="#2f96d5"/>
<rect x="178.56" y="87.55" width="2.82" height="9.80" fill="#3b89d6"/>
<rect x="180.88" y="87.55" width="2.82" height="9.80" fill="#23a3d4"/>
<rect x="183.19" y="87.55" width="2.82" height="9.80" fill="#2e97d5"/>
<rect x="185.51" y="87.55" width="2.82" height="9.80" fill="#25acc7"/>
<rect x="187.83" y="87.55" width="2.82" height="9.80" fill="#22a4d4"/>
<rect x="190.15" y="87.55" width="2.82" height="9.80" fill="#2d98d5"/>
<rect x="192.46" y="87.55" width="2.82" height="9.80" fill="#54bd86"/>
<rect x="194.78" y="87.55" width="2.82" height="9.80" fill="#21a5d4"/>
<rect x="197.10" y="87.55" width="2.82" height="9.80" fill="#2c99d5"/>
<rect x="199.42" y="87.55" width="2.82" height="9.80" fill="#26adc4"/>
<rect x="201.74" y="87.55" width="2.82" height="9.80" fill="#34b5a8"/>
<rect x="204.05" y="87.55" width="2.82" height="9.80" fill="#483ca5"/>
<rect x="206.37" y="87.55" width="2.82" height="9.80" fill="#3f85d6"/>
<rect x="208.69" y="87.55" width="2.82" height="9.80" fill="#279fd4"/>
<rect x="211.01" y="87.55" width="2.82" height="9.80" fill="#483ca5"/>
<rect x="213.32" y="87.55" width="2.82" height="9.80" fill="#3e86d6"/>
<rect x="215.64" y="87.55" width="2.82" height="9.80" fill="#483ca5"/>
<rect x="217.96" y="87.55" width="2.82" height="9.80" fill="#2cb0b8"/>
<rect x="220.28" y="87.55" width="2.82" height="9.80" fill="#22aacc"/>
<rect x="222.59" y="87.55" width="2.82" height="9.80" fill="#25a1d4"/>
<rect x="224.91" y="87.55" width="2.82" height="9.80" fill="#2db1b7"/>
<rect x="227.23" y="87.55" width="2.82" height="9.80" fill="#23abca"/>
<rect x="229.55" y="87.55" width="2.82" height="9.80" fill="#2c9ad5"/>
<rect x="231.86" y="87.55" width="2.82" height="9.80" fill="#27adc2"/>
<rect x="234.18" y="87.55" width="2.82" height="9.80" fill="#1fa7d4"/>
<rect x="236.50" y="87.55" width="2.82" height="9.80" fill="#2b9bd5"/>
<rect x="238.82" y="87.55" width="2.82" height="9.80" fill="#28aec1"/>
<rect x="241.14" y="87.55" width="2.82" height="9.80" fill="#1ea8d4"/>
<rect x="243.45" y="87.55" width="2.82" height="9.80" fill="#483ca5"/>
<rect x="245.77" y="87.55" width="2.82" height="9.80" fill="#585cc0"/>
<rect x="248.09" y="87.55" width="2.82" height="9.80" fill="#585cc0"/>
<rect x="250.41" y="87.55" width="2.82" height="9.80" fill="#585cc0"/>
<rect x="252.72" y="87.55" width="2.82" height="9.80" fill="#3490d5"/>
<rect x="255.04" y="87.55" width="2.82" height="9.80" fill="#1fa9d1"/>
<rect x="257.36" y="87.55" width="2.82" height="9.80" fill="#3095d5"/>
<rect x="259.68" y="87.55" width="2.82" height="9.80" fill="#a5c74a"/>
<rect x="261.99" y="87.55" width="2.82" height="9.80" fill="#38b7a0"/>
<rect x="264.31" y="87.55" width="2.82" height="9.80" fill="#2eb2b4"/>
<rect x="266.63" y="87.55" width="2.82" height="9.80" fill="#24acc7"/>
<rect x="268.95" y="87.55" width="2.82" height="9.80" fill="#22a4d4"/>
<rect x="271.26" y="87.55" width="2.82" height="9.80" fill="#483ca5"/>
<rect x="273.58" y="87.55" width="2.82" height="9.80" fill="#25acc6"/>
<rect x="275.90" y="87.55" width="2.82" height="9.80" fill="#21a5d4"/>
<rect x="278.22" y="87.55" width="2.82" height="9.80" fill="#2d98d5"/>
<rect x="280.54" y="87.55" width="2.82" height="9.80" fill="#26adc4"/>
<rect x="282.85" y="87.55" width="2.82" height="9.80" fill="#20a6d4"/>
<rect x="285.17" y="87.55" width="2.82" height="9.80" fill="#483ca5"/>
<rect x="287.49" y="87.55" width="2.82" height="9.80" fill="#20a9d0"/>
<rect x="289.81" y="87.55" width="2.82" height="9.80" fill="#279ed5"/>
<rect x="292.12" y="87.55" width="2.82" height="9.80" fill="#64bf7a"/>
<rect x="294.44" y="87.55" width="2.82" height="9.80" fill="#21aace"/>
<rect x="296.76" y="87.55" width="2.82" height="9.80" fill="#269fd4"/>
<rect x="299.08" y="87.55" width="2.82" height="9.80" fill="#3293d5"/>
<rect x="301.39" y="87.55" width="2.82" height="9.80" fill="#3e87d6"/>
<rect x="303.71" y="87.55" width="2.82" height="9.80" fill="#467ad2"/>
<rect x="306.03" y="87.55" width="2.82" height="9.80" fill="#3194d5"/>
<rect x="308.35" y="87.55" width="2.82" height="9.80" fill="#3d88d6"/>
<rect x="310.66" y="87.55" width="2.82" height="9.80" fill="#467bd2"/>
<rect x="312.98" y="87.55" width="2.32" height="9.80" fill="#4d6fcb"/>
<rect x="118.30" y="96.85" width="2.82" height="9.80" fill="#65c079"/>
<rect x="120.62" y="96.85" width="2.82" height="9.80" fill="#f8eb1e"/>
<rect x="122.94" y="96.85" width="2.82" height="9.80" fill="#f8eb1e"/>
<rect x="125.25" y="96.85" width="2.82" height="9.80" fill="#f8eb1e"/>
<rect x="127.57" y="96.85" width="2.82" height="9.80" fill="#f8eb1e"/>
<rect x="129.89" y="96.85" width="2.82" height="9.80" fill="#f8eb1e"/>
<rect x="132.21" y="96.85" width="2.82" height="9.80" fill="#2db1b7"/>
<rect x="134.52" y="96.85" width="2.82" height="9.80" fill="#23abca"/>
<rect x="136.84" y="96.85" width="2.82" height="9.80" fill="#585cc0"/>
<rect x="139.16" y="96.85" width="2.82" height="9.80" fill="#58be83"/>
<rect x="141.48" y="96.85" width="2.82" height="9.80" fill="#3bb99a"/>
<rect x="143.79" y="96.85" width="2.82" height="9.80" fill="#d4c532"/>
<rect x="146.11" y="96.85" width="2.82" height="9.80" fill="#f7ba36"/>
<rect x="148.43" y="96.85" width="2.82" height="9.80" fill="#f7ba36"/>
<rect x="150.75" y="96.85" width="2.82" height="9.80" fill="#32b4ac"/>
<rect x="153.06" y="96.85" width="2.82" height="9.80" fill="#afc646"/>
<rect x="155.38" y="96.85" width="2.82" height="9.80" fill="#d4c532"/>
<rect x="157.70" y="96.85" width="2.82" height="9.80" fill="#f7ba36"/>
<rect x="160.02" y="96.85" width="2.82" height="9.80" fill="#5fbf7d"/>
<rect x="162.34" y="96.85" width="2.82" height="9.80" fill="#1fa9d1"/>
<rect x="164.65" y="96.85" width="2.82" height="9.80" fill="#289ed5"/>
<rect x="166.97" y="96.85" width="2.82" height="9.80" fill="#23abc9"/>
<rect x="169.29" y="96.85" width="2.82" height="9.80" fill="#23a3d4"/>
<rect x="171.61" y="96.85" width="2.82" height="9.80" fill="#4c70cc"/>
<rect x="173.92" y="96.85" width="2.82" height="9.80" fill="#483ca5"/>
<rect x="176.24" y="96.85" width="2.82" height="9.80" fill="#483ca5"/>
<rect x="178.56" y="96.85" width="2.82" height="9.80" fill="#2e97d5"/>
<rect x="180.88" y="96.85" width="2.82" height="9.80" fill="#25acc6"/>
<rect x="183.19" y="96.85" width="2.82" height="9.80" fill="#21a5d4"/>
<rect x="185.51" y="96.85" width="2.82" height="9.80" fill="#2d98d5"/>
<rect x="187.83" y="96.85" width="2.82" height="9.80" fill="#26adc4"/>
<rect x="190.15" y="96.85" width="2.82" height="9.80" fill="#20a6d4"/>
<rect x="192.46" y="96.85" width="2.82" height="9.80" fill="#30b3af"/>
<rect x="194.78" y="96.85" width="2.82" height="9.80" fill="#20a9d0"/>
<rect x="197.10" y="96.85" width="2.82" height="9.80" fill="#279ed5"/>
<rect x="199.42" y="96.85" width="2.82" height="9.80" fill="#2bb0bb"/>
<rect x="201.74" y="96.85" width="2.82" height="9.80" fill="#21aace"/>
<rect x="204.05" y="96.85" width="2.82" height="9.80" fill="#269fd4"/>
<rect x="206.37" y="96.85" width="2.82" height="9.80" fill="#2bb0b9"/>
<rect x="208.69" y="96.85" width="2.82" height="9.80" fill="#3e87d6"/>
<rect x="211.01" y="96.85" width="2.82" height="9.80" fill="#25a0d4"/>
<rect x="213.32" y="96.85" width="2.82" height="9.80" fill="#2cb1b8"/>
<rect x="215.64" y="96.85" width="2.82" height="9.80" fill="#22abcb"/>
<rect x="217.96" y="96.85" width="2.82" height="9.80" fill="#24a1d4"/>
<rect x="220.28" y="96.85" width="2.82" height="9.80" fill="#2db1b6"/>
<rect x="222.59" y="96.85" width="2.82" height="9.80" fill="#20a6d4"/>
<rect x="224.91" y="96.85" width="2.82" height="9.80" fill="#4a74ce"/>
<rect x="227.23" y="96.85" width="2.82" height="9.80" fill="#585cc0"/>
<rect x="229.55" y="96.85" width="2.82" height="9.80" fill="#4281d6"/>
<rect x="231.86" y="96.85" width="2.82" height="9.80" fill="#585cc0"/>
<rect x="234.18" y="96.85" width="2.82" height="9.80" fill="#28aec0"/>
<rect x="236.50" y="96.85" width="2.82" height="9.80" fill="#1ea8d3"/>
<rect x="238.82" y="96.85" width="2.82" height="9.80" fill="#299cd5"/>
<rect x="241.14" y="96.85" width="2.82" height="9.80" fill="#3590d5"/>
<rect x="243.45" y="96.85" width="2.82" height="9.80" fill="#585cc0"/>
<rect x="245.77" y="96.85" width="2.82" height="9.80" fill="#585cc0"/>
<rect x="248.09" y="96.85" width="2.82" height="9.80" fill="#585cc0"/>
<rect x="250.41" y="96.85" width="2.82" height="9.80" fill="#483ca5"/>
<rect x="252.72" y="96.85" width="2.82" height="9.80" fill="#585cc0"/>
<rect x="255.04" y="96.85" width="2.82" height="9.80" fill="#585cc0"/>
<rect x="257.36" y="96.85" width="2.82" height="9.80" fill="#23a3d4"/>
<rect x="259.68" y="96.85" width="2.82" height="9.80" fill="#2e97d5"/>
<rect x="261.99" y="96.85" width="2.82" height="9.80" fill="#a8c749"/>
<rect x="264.31" y="96.85" width="2.82" height="9.80" fill="#39b89e"/>
<rect x="266.63" y="96.85" width="2.82" height="9.80" fill="#4b72cd"/>
<rect x="268.95" y="96.85" width="2.82" height="9.80" fill="#25acc5"/>
<rect x="271.26" y="96.85" width="2.82" height="9.80" fill="#21a5d4"/>
<rect x="273.58" y="96.85" width="2.82" height="9.80" fill="#2c99d5"/>
<rect x="275.90" y="96.85" width="2.82" height="9.80" fill="#388cd5"/>
<rect x="278.22" y="96.85" width="2.82" height="9.80" fill="#4380d5"/>
<rect x="280.54" y="96.85" width="2.82" height="9.80" fill="#2aafbc"/>
<rect x="282.85" y="96.85" width="2.82" height="9.80" fill="#20a9cf"/>
<rect x="285.17" y="96.85" width="2.82" height="9.80" fill="#279fd4"/>
<rect x="287.49" y="96.85" width="2.82" height="9.80" fill="#2bb0ba"/>
<rect x="289.81" y="96.85" width="2.82" height="9.80" fill="#3e86d6"/>
<rect x="292.12" y="96.85" width="2.82" height="9.80" fill="#26a0d4"/>
<rect x="294.44" y="96.85" width="2.82" height="9.80" fill="#2cb0b8"/>
<rect x="296.76" y="96.85" width="2.82" height="9.80" fill="#22aacc"/>
<rect x="299.08" y="96.85" width="2.82" height="9.80" fill="#467bd2"/>
<rect x="301.39" y="96.85" width="2.82" height="9.80" fill="#3194d5"/>
<rect x="303.71" y="96.85" width="2.82" height="9.80" fill="#3c88d6"/>
<rect x="306.03" y="96.85" width="2.82" height="9.80" fill="#467cd2"/>
<rect x="308.35" y="96.85" width="2.82" height="9.80" fill="#27adc2"/>
<rect x="310.66" y="96.85" width="2.82" height="9.80" fill="#1fa7d4"/>
<rect x="312.98" y="96.85" width="2.32" height="9.80" fill="#4a75ce"/>
<rect x="118.30" y="106.15" width="2.82" height="9.80" fill="#f7ba36"/>
<rect x="120.62" y="106.15" width="2.82" height="9.80" fill="#f8eb1e"/>
<rect x="122.94" y="106.15" width="2.82" height="9.80" fill="#f8eb1e"/>
<rect x="125.25" y="106.15" width="2.82" height="9.80" fill="#f8eb1e"/>
<rect x="127.57" y="106.15" width="2.82" height="9.80" fill="#f8eb1e"/>
<rect x="129.89" y="106.15" width="2.82" height="9.80" fill="#f8eb1e"/>
<rect x="132.21" y="106.15" width="2.82" height="9.80" fill="#2b9ad5"/>
<rect x="134.52" y="106.15" width="2.82" height="9.80" fill="#585cc0"/>
<rect x="136.84" y="106.15" width="2.82" height="9.80" fill="#3bba99"/>
<rect x="139.16" y="106.15" width="2.82" height="9.80" fill="#2a9bd5"/>
<rect x="141.48" y="106.15" width="2.82" height="9.80" fill="#5cbe80"/>
<rect x="143.79" y="106.15" width="2.82" height="9.80" fill="#3dba97"/>
<rect x="146.11" y="106.15" width="2.82" height="9.80" fill="#299cd5"/>
<rect x="148.43" y="106.15" width="2.82" height="9.80" fill="#d4c532"/>
<rect x="150.75" y="106.15" width="2.82" height="9.80" fill="#f7ba36"/>
<rect x="153.06" y="106.15" width="2.82" height="9.80" fill="#33b5a9"/>
<rect x="155.38" y="106.15" width="2.82" height="9.80" fill="#f7ba36"/>
<rect x="157.70" y="106.15" width="2.82" height="9.80" fill="#f7ba36"/>
<rect x="160.02" y="106.15" width="2.82" height="9.80" fill="#6dc173"/>
<rect x="162.34" y="106.15" width="2.82" height="9.80" fill="#4fbd8a"/>
<rect x="164.65" y="106.15" width="2.82" height="9.80" fill="#38b8a0"/>
<rect x="166.97" y="106.15" width="2.82" height="9.80" fill="#4c71cc"/>
<rect x="169.29" y="106.15" width="2.82" height="9.80" fill="#585cc0"/>
<rect x="171.61" y="106.15" width="2.82" height="9.80" fill="#22a4d4"/>
<rect x="173.92" y="106.15" width="2.82" height="9.80" fill="#2d98d5"/>
<rect x="176.24" y="106.15" width="2.82" height="9.80" fill="#25acc5"/>
<rect x="178.56" y="106.15" width="2.82" height="9.80" fill="#21a5d4"/>
<rect x="180.88" y="106.15" width="2.82" height="9.80" fill="#2d99d5"/>
<rect x="183.19" y="106.15" width="2.82" height="9.80" fill="#26adc4"/>
<rect x="185.51" y="106.15" width="2.82" height="9.80" fill="#20a6d4"/>
<rect x="187.83" y="106.15" width="2.82" height="9.80" fill="#585cc0"/>
<rect x="190.15" y="106.15" width="2.82" height="9.80" fill="#44bb92"/>
<rect x="192.46" y="106.15" width="2.82" height="9.80" fill="#35b6a7"/>
<rect x="194.78" y="106.15" width="2.82" height="9.80" fill="#65c079"/>
<rect x="197.10" y="106.15" width="2.82" height="9.80" fill="#585cc0"/>
<rect x="199.42" y="106.15" width="2.82" height="9.80" fill="#26a0d4"/>
<rect x="201.74" y="106.15" width="2.82" height="9.80" fill="#68c077"/>
<rect x="204.05" y="106.15" width="2.82" height="9.80" fill="#49bc8e"/>
<rect x="206.37" y="106.15" width="2.82" height="9.80" fill="#89c55e"/>
<rect x="208.69" y="106.15" width="2.82" height="9.80" fill="#2db1b7"/>
<rect x="211.01" y="106.15" width="2.82" height="9.80" fill="#23abca"/>
<rect x="213.32" y="106.15" width="2.82" height="9.80" fill="#585cc0"/>
<rect x="215.64" y="106.15" width="2.82" height="9.80" fill="#483ca5"/>
<rect x="217.96" y="106.15" width="2.82" height="9.80" fill="#585cc0"/>
<rect x="220.28" y="106.15" width="2.82" height="9.80" fill="#2b9bd5"/>
<rect x="222.59" y="106.15" width="2.82" height="9.80" fill="#28aec1"/>
<rect x="224.91" y="106.15" width="2.82" height="9.80" fill="#1ea8d4"/>
<rect x="227.23" y="106.15" width="2.82" height="9.80" fill="#585cc0"/>
<rect x="229.55" y="106.15" width="2.82" height="9.80" fill="#28aebf"/>
<rect x="231.86" y="106.15" width="2.82" height="9.80" fill="#1fa8d3"/>
<rect x="234.18" y="106.15" width="2.82" height="9.80" fill="#299cd5"/>
<rect x="236.50" y="106.15" width="2.82" height="9.80" fill="#483ca5"/>
<rect x="238.82" y="106.15" width="2.82" height="9.80" fill="#1fa9d1"/>
<rect x="241.14" y="106.15" width="2.82" height="9.80" fill="#4877d0"/>
<rect x="243.45" y="106.15" width="2.82" height="9.80" fill="#3491d5"/>
<rect x="245.77" y="106.15" width="2.82" height="9.80" fill="#457dd3"/>
<rect x="248.09" y="106.15" width="2.82" height="9.80" fill="#2f96d5"/>
<rect x="250.41" y="106.15" width="2.82" height="9.80" fill="#3b8ad6"/>
<rect x="252.72" y="106.15" width="2.82" height="9.80" fill="#457ed3"/>
<rect x="255.04" y="106.15" width="2.82" height="9.80" fill="#2e97d5"/>
<rect x="257.36" y="106.15" width="2.82" height="9.80" fill="#25acc6"/>
<rect x="259.68" y="106.15" width="2.82" height="9.80" fill="#39b89d"/>
<rect x="261.99" y="106.15" width="2.82" height="9.80" fill="#30b3b1"/>
<rect x="264.31" y="106.15" width="2.82" height="9.80" fill="#55bd85"/>
<rect x="266.63" y="106.15" width="2.82" height="9.80" fill="#20a6d4"/>
<rect x="268.95" y="106.15" width="2.82" height="9.80" fill="#2c99d5"/>
<rect x="271.26" y="106.15" width="2.82" height="9.80" fill="#27adc3"/>
<rect x="273.58" y="106.15" width="2.82" height="9.80" fill="#4878d0"/>
<rect x="275.90" y="106.15" width="2.82" height="9.80" fill="#3392d5"/>
<rect x="278.22" y="106.15" width="2.82" height="9.80" fill="#21aace"/>
<rect x="280.54" y="106.15" width="2.82" height="9.80" fill="#269fd4"/>
<rect x="282.85" y="106.15" width="2.82" height="9.80" fill="#2bb0b9"/>
<rect x="285.17" y="106.15" width="2.82" height="9.80" fill="#22aacd"/>
<rect x="287.49" y="106.15" width="2.82" height="9.80" fill="#25a0d4"/>
<rect x="289.81" y="106.15" width="2.82" height="9.80" fill="#3194d5"/>
<rect x="292.12" y="106.15" width="2.82" height="9.80" fill="#22abcb"/>
<rect x="294.44" y="106.15" width="2.82" height="9.80" fill="#483ca5"/>
<rect x="296.76" y="106.15" width="2.82" height="9.80" fill="#3095d5"/>
<rect x="299.08" y="106.15" width="2.82" height="9.80" fill="#23abca"/>
<rect x="301.39" y="106.15" width="2.82" height="9.80" fill="#23a2d4"/>
<rect x="303.71" y="106.15" width="2.82" height="9.80" fill="#27aec2"/>
<rect x="306.03" y="106.15" width="2.82" height="9.80" fill="#1fa7d4"/>
<rect x="308.35" y="106.15" width="2.82" height="9.80" fill="#2a9bd5"/>
<rect x="310.66" y="106.15" width="2.82" height="9.80" fill="#28aec0"/>
<rect x="312.98" y="106.15" width="2.32" height="9.80" fill="#1ea8d4"/>
<rect x="118.30" y="115.45" width="2.82" height="9.80" fill="#23abca"/>
<rect x="120.62" y="115.45" width="2.82" height="9.80" fill="#f8d22a"/>
<rect x="122.94" y="115.45" width="2.82" height="9.80" fill="#f8eb1e"/>
<rect x="125.25" y="115.45" width="2.82" height="9.80" fill="#f8eb1e"/>
<rect x="127.57" y="115.45" width="2.82" height="9.80" fill="#f8eb1e"/>
<rect x="129.89" y="115.45" width="2.82" height="9.80" fill="#f8eb1e"/>
<rect x="132.21" y="115.45" width="2.82" height="9.80" fill="#3cba98"/>
<rect x="134.52" y="115.45" width="2.82" height="9.80" fill="#32b4ac"/>
<rect x="136.84" y="115.45" width="2.82" height="9.80" fill="#afc646"/>
<rect x="139.16" y="115.45" width="2.82" height="9.80" fill="#9cc74f"/>
<rect x="141.48" y="115.45" width="2.82" height="9.80" fill="#7ec366"/>
<rect x="143.79" y="115.45" width="2.82" height="9.80" fill="#5fbf7d"/>
<rect x="146.11" y="115.45" width="2.82" height="9.80" fill="#40bb95"/>
<rect x="148.43" y="115.45" width="2.82" height="9.80" fill="#f7ba36"/>
<rect x="150.75" y="115.45" width="2.82" height="9.80" fill="#d4c532"/>
<rect x="153.06" y="115.45" width="2.82" height="9.80" fill="#43bb93"/>
<rect x="155.38" y="115.45" width="2.82" height="9.80" fill="#6ec172"/>
<rect x="157.70" y="115.45" width="2.82" height="9.80" fill="#f7ba36"/>
<rect x="160.02" y="115.45" width="2.82" height="9.80" fill="#90c558"/>
<rect x="162.34" y="115.45" width="2.82" height="9.80" fill="#585cc0"/>
<rect x="164.65" y="115.45" width="2.82" height="9.80" fill="#585cc0"/>
<rect x="166.97" y="115.45" width="2.82" height="9.80" fill="#21a5d4"/>
<rect x="169.29" y="115.45" width="2.82" height="9.80" fill="#2d98d5"/>
<rect x="171.61" y="115.45" width="2.82" height="9.80" fill="#26adc5"/>
<rect x="173.92" y="115.45" width="2.82" height="9.80" fill="#20a5d4"/>
<rect x="176.24" y="115.45" width="2.82" height="9.80" fill="#2c99d5"/>
<rect x="178.56" y="115.45" width="2.82" height="9.80" fill="#27adc3"/>
<rect x="180.88" y="115.45" width="2.82" height="9.80" fill="#1fa6d4"/>
<rect x="183.19" y="115.45" width="2.82" height="9.80" fill="#2bb0bb"/>
<rect x="185.51" y="115.45" width="2.82" height="9.80" fill="#21aace"/>
<rect x="187.83" y="115.45" width="2.82" height="9.80" fill="#269fd4"/>
<rect x="190.15" y="115.45" width="2.82" height="9.80" fill="#66c078"/>
<rect x="192.46" y="115.45" width="2.82" height="9.80" fill="#47bc8f"/>
<rect x="194.78" y="115.45" width="2.82" height="9.80" fill="#36b6a4"/>
<rect x="197.10" y="115.45" width="2.82" height="9.80" fill="#69c076"/>
<rect x="199.42" y="115.45" width="2.82" height="9.80" fill="#22abcb"/>
<rect x="201.74" y="115.45" width="2.82" height="9.80" fill="#24a1d4"/>
<rect x="204.05" y="115.45" width="2.82" height="9.80" fill="#2db1b6"/>
<rect x="206.37" y="115.45" width="2.82" height="9.80" fill="#23abca"/>
<rect x="208.69" y="115.45" width="2.82" height="9.80" fill="#37b7a1"/>
<rect x="211.01" y="115.45" width="2.82" height="9.80" fill="#378ed5"/>
<rect x="213.32" y="115.45" width="2.82" height="9.80" fill="#1fa7d4"/>
<rect x="215.64" y="115.45" width="2.82" height="9.80" fill="#585cc0"/>
<rect x="217.96" y="115.45" width="2.82" height="9.80" fill="#28aec0"/>
<rect x="220.28" y="115.45" width="2.82" height="9.80" fill="#3dba97"/>
<rect x="222.59" y="115.45" width="2.82" height="9.80" fill="#32b4ab"/>
<rect x="224.91" y="115.45" width="2.82" height="9.80" fill="#5ebf7e"/>
<rect x="227.23" y="115.45" width="2.82" height="9.80" fill="#1fa9d2"/>
<rect x="229.55" y="115.45" width="2.82" height="9.80" fill="#299dd5"/>
<rect x="231.86" y="115.45" width="2.82" height="9.80" fill="#585cc0"/>
<rect x="234.18" y="115.45" width="2.82" height="9.80" fill="#4084d6"/>
<rect x="236.50" y="115.45" width="2.82" height="9.80" fill="#289ed5"/>
<rect x="238.82" y="115.45" width="2.82" height="9.80" fill="#2aafbb"/>
<rect x="241.14" y="115.45" width="2.82" height="9.80" fill="#457dd3"/>
<rect x="243.45" y="115.45" width="2.82" height="9.80" fill="#585cc0"/>
<rect x="245.77" y="115.45" width="2.82" height="9.80" fill="#3a8ad6"/>
<rect x="248.09" y="115.45" width="2.82" height="9.80" fill="#447ed4"/>
<rect x="250.41" y="115.45" width="2.82" height="9.80" fill="#2d98d5"/>
<rect x="252.72" y="115.45" width="2.82" height="9.80" fill="#398bd6"/>
<rect x="255.04" y="115.45" width="2.82" height="9.80" fill="#21a5d4"/>
<rect x="257.36" y="115.45" width="2.82" height="9.80" fill="#4b73cd"/>
<rect x="259.68" y="115.45" width="2.82" height="9.80" fill="#585cc0"/>
<rect x="261.99" y="115.45" width="2.82" height="9.80" fill="#20a6d4"/>
<rect x="264.31" y="115.45" width="2.82" height="9.80" fill="#2c9ad5"/>
<rect x="266.63" y="115.45" width="2.82" height="9.80" fill="#378dd5"/>
<rect x="268.95" y="115.45" width="2.82" height="9.80" fill="#279fd4"/>
<rect x="271.26" y="115.45" width="2.82" height="9.80" fill="#585cc0"/>
<rect x="273.58" y="115.45" width="2.82" height="9.80" fill="#21aace"/>
<rect x="275.90" y="115.45" width="2.82" height="9.80" fill="#26a0d4"/>
<rect x="278.22" y="115.45" width="2.82" height="9.80" fill="#3293d5"/>
<rect x="280.54" y="115.45" width="2.82" height="9.80" fill="#22aacc"/>
<rect x="282.85" y="115.45" width="2.82" height="9.80" fill="#585cc0"/>
<rect x="285.17" y="115.45" width="2.82" height="9.80" fill="#585cc0"/>
<rect x="287.49" y="115.45" width="2.82" height="9.80" fill="#585cc0"/>
<rect x="289.81" y="115.45" width="2.82" height="9.80" fill="#24a2d4"/>
<rect x="292.12" y="115.45" width="2.82" height="9.80" fill="#483ca5"/>
<rect x="294.44" y="115.45" width="2.82" height="9.80" fill="#483ca5"/>
<rect x="296.76" y="115.45" width="2.82" height="9.80" fill="#4a74ce"/>
<rect x="299.08" y="115.45" width="2.82" height="9.80" fill="#28aec1"/>
<rect x="301.39" y="115.45" width="2.82" height="9.80" fill="#1ea8d4"/>
<rect x="303.71" y="115.45" width="2.82" height="9.80" fill="#2a9bd5"/>
<rect x="306.03" y="115.45" width="2.82" height="9.80" fill="#585cc0"/>
<rect x="308.35" y="115.45" width="2.82" height="9.80" fill="#585cc0"/>
<rect x="310.66" y="115.45" width="2.82" height="9.80" fill="#585cc0"/>
<rect x="312.98" y="115.45" width="2.32" height="9.80" fill="#3590d5"/>
<rect x="118.30" y="124.75" width="2.82" height="9.80" fill="#f8d22a"/>
<rect x="120.62" y="124.75" width="2.82" height="9.80" fill="#f8eb1e"/>
<rect x="122.94" y="124.75" width="2.82" height="9.80" fill="#f8eb1e"/>
<rect x="125.25" y="124.75" width="2.82" height="9.80" fill="#f8eb1e"/>
<rect x="127.57" y="124.75" width="2.82" height="9.80" fill="#f8eb1e"/>
<rect x="129.89" y="124.75" width="2.82" height="9.80" fill="#f8eb1e"/>
<rect x="132.21" y="124.75" width="2.82" height="9.80" fill="#29aebf"/>
<rect x="134.52" y="124.75" width="2.82" height="9.80" fill="#1fa9d2"/>
<rect x="136.84" y="124.75" width="2.82" height="9.80" fill="#33b5aa"/>
<rect x="139.16" y="124.75" width="2.82" height="9.80" fill="#60bf7c"/>
<rect x="141.48" y="124.75" width="2.82" height="9.80" fill="#20a9d1"/>
<rect x="143.79" y="124.75" width="2.82" height="9.80" fill="#34b5a8"/>
<rect x="146.11" y="124.75" width="2.82" height="9.80" fill="#63bf7b"/>
<rect x="148.43" y="124.75" width="2.82" height="9.80" fill="#8ec55a"/>
<rect x="150.75" y="124.75" width="2.82" height="9.80" fill="#f7ba36"/>
<rect x="153.06" y="124.75" width="2.82" height="9.80" fill="#a7c749"/>
<rect x="155.38" y="124.75" width="2.82" height="9.80" fill="#91c658"/>
<rect x="157.70" y="124.75" width="2.82" height="9.80" fill="#f7ba36"/>
<rect x="160.02" y="124.75" width="2.82" height="9.80" fill="#a9c749"/>
<rect x="162.34" y="124.75" width="2.82" height="9.80" fill="#447fd4"/>
<rect x="164.65" y="124.75" width="2.82" height="9.80" fill="#2d99d5"/>
<rect x="166.97" y="124.75" width="2.82" height="9.80" fill="#388cd5"/>
<rect x="169.29" y="124.75" width="2.82" height="9.80" fill="#20a6d4"/>
<rect x="171.61" y="124.75" width="2.82" height="9.80" fill="#2c9ad5"/>
<rect x="173.92" y="124.75" width="2.82" height="9.80" fill="#585cc0"/>
<rect x="176.24" y="124.75" width="2.82" height="9.80" fill="#4779d1"/>
<rect x="178.56" y="124.75" width="2.82" height="9.80" fill="#2bb0ba"/>
<rect x="180.88" y="124.75" width="2.82" height="9.80" fill="#21aace"/>
<rect x="183.19" y="124.75" width="2.82" height="9.80" fill="#26a0d4"/>
<rect x="185.51" y="124.75" width="2.82" height="9.80" fill="#2cb0b9"/>
<rect x="187.83" y="124.75" width="2.82" height="9.80" fill="#483ca5"/>
<rect x="190.15" y="124.75" width="2.82" height="9.80" fill="#25a1d4"/>
<rect x="192.46" y="124.75" width="2.82" height="9.80" fill="#6ac075"/>
<rect x="194.78" y="124.75" width="2.82" height="9.80" fill="#4bbc8d"/>
<rect x="197.10" y="124.75" width="2.82" height="9.80" fill="#37b7a2"/>
<rect x="199.42" y="124.75" width="2.82" height="9.80" fill="#3095d5"/>
<rect x="201.74" y="124.75" width="2.82" height="9.80" fill="#23abc9"/>
<rect x="204.05" y="124.75" width="2.82" height="9.80" fill="#23a3d4"/>
<rect x="206.37" y="124.75" width="2.82" height="9.80" fill="#378ed5"/>
<rect x="208.69" y="124.75" width="2.82" height="9.80" fill="#1ea8d4"/>
<rect x="211.01" y="124.75" width="2.82" height="9.80" fill="#585cc0"/>
<rect x="213.32" y="124.75" width="2.82" height="9.80" fill="#28aebf"/>
<rect x="215.64" y="124.75" width="2.82" height="9.80" fill="#3eba97"/>
<rect x="217.96" y="124.75" width="2.82" height="9.80" fill="#33b4aa"/>
<rect x="220.28" y="124.75" width="2.82" height="9.80" fill="#5fbf7d"/>
<rect x="222.59" y="124.75" width="2.82" height="9.80" fill="#1fa9d1"/>
<rect x="224.91" y="124.75" width="2.82" height="9.80" fill="#289dd5"/>
<rect x="227.23" y="124.75" width="2.82" height="9.80" fill="#3491d5"/>
<rect x="229.55" y="124.75" width="2.82" height="9.80" fill="#585cc0"/>
<rect x="231.86" y="124.75" width="2.82" height="9.80" fill="#279ed5"/>
<rect x="234.18" y="124.75" width="2.82" height="9.80" fill="#24acc8"/>
<rect x="236.50" y="124.75" width="2.82" height="9.80" fill="#22a3d4"/>
<rect x="238.82" y="124.75" width="2.82" height="9.80" fill="#2e97d5"/>
<rect x="241.14" y="124.75" width="2.82" height="9.80" fill="#25acc6"/>
<rect x="243.45" y="124.75" width="2.82" height="9.80" fill="#447ed4"/>
<rect x="245.77" y="124.75" width="2.82" height="9.80" fill="#4b72cd"/>
<rect x="248.09" y="124.75" width="2.82" height="9.80" fill="#585cc0"/>
<rect x="250.41" y="124.75" width="2.82" height="9.80" fill="#483ca5"/>
<rect x="252.72" y="124.75" width="2.82" height="9.80" fill="#585cc0"/>
<rect x="255.04" y="124.75" width="2.82" height="9.80" fill="#388dd5"/>
<rect x="257.36" y="124.75" width="2.82" height="9.80" fill="#20a6d4"/>
<rect x="259.68" y="124.75" width="2.82" height="9.80" fill="#2b9ad5"/>
<rect x="261.99" y="124.75" width="2.82" height="9.80" fill="#21aace"/>
<rect x="264.31" y="124.75" width="2.82" height="9.80" fill="#4779d1"/>
<rect x="266.63" y="124.75" width="2.82" height="9.80" fill="#3293d5"/>
<rect x="268.95" y="124.75" width="2.82" height="9.80" fill="#22aacd"/>
<rect x="271.26" y="124.75" width="2.82" height="9.80" fill="#25a0d4"/>
<rect x="273.58" y="124.75" width="2.82" height="9.80" fill="#2cb0b8"/>
<rect x="275.90" y="124.75" width="2.82" height="9.80" fill="#22abcb"/>
<rect x="278.22" y="124.75" width="2.82" height="9.80" fill="#467bd2"/>
<rect x="280.54" y="124.75" width="2.82" height="9.80" fill="#2db1b6"/>
<rect x="282.85" y="124.75" width="2.82" height="9.80" fill="#23abca"/>
<rect x="285.17" y="124.75" width="2.82" height="9.80" fill="#457cd3"/>
<rect x="287.49" y="124.75" width="2.82" height="9.80" fill="#4d70cb"/>
<rect x="289.81" y="124.75" width="2.82" height="9.80" fill="#3b89d6"/>
<rect x="292.12" y="124.75" width="2.82" height="9.80" fill="#2a9bd5"/>
<rect x="294.44" y="124.75" width="2.82" height="9.80" fill="#368fd5"/>
<rect x="296.76" y="124.75" width="2.82" height="9.80" fill="#1ea8d4"/>
<rect x="299.08" y="124.75" width="2.82" height="9.80" fill="#299cd5"/>
<rect x="301.39" y="124.75" width="2.82" height="9.80" fill="#29aebf"/>
<rect x="303.71" y="124.75" width="2.82" height="9.80" fill="#4183d6"/>
<rect x="306.03" y="124.75" width="2.82" height="9.80" fill="#4877d0"/>
<rect x="308.35" y="124.75" width="2.82" height="9.80" fill="#29afbd"/>
<rect x="310.66" y="124.75" width="2.82" height="9.80" fill="#20a9d1"/>
<rect x="312.98" y="124.75" width="2.32" height="9.80" fill="#4878d0"/>
<rect x="118.30" y="134.05" width="2.82" height="9.80" fill="#f8eb1e"/>
<rect x="120.62" y="134.05" width="2.82" height="9.80" fill="#f8eb1e"/>
<rect x="122.94" y="134.05" width="2.82" height="9.80" fill="#f8eb1e"/>
<rect x="125.25" y="134.05" width="2.82" height="9.80" fill="#f8eb1e"/>
<rect x="127.57" y="134.05" width="2.82" height="9.80" fill="#f8eb1e"/>
<rect x="129.89" y="134.05" width="2.82" height="9.80" fill="#f8eb1e"/>
<rect x="132.21" y="134.05" width="2.82" height="9.80" fill="#4877d0"/>
<rect x="134.52" y="134.05" width="2.82" height="9.80" fill="#2aafbc"/>
<rect x="136.84" y="134.05" width="2.82" height="9.80" fill="#43bb93"/>
<rect x="139.16" y="134.05" width="2.82" height="9.80" fill="#34b5a7"/>
<rect x="141.48" y="134.05" width="2.82" height="9.80" fill="#64bf7a"/>
<rect x="143.79" y="134.05" width="2.82" height="9.80" fill="#38b89f"/>
<rect x="146.11" y="134.05" width="2.82" height="9.80" fill="#2fb2b3"/>
<rect x="148.43" y="134.05" width="2.82" height="9.80" fill="#a8c749"/>
<rect x="150.75" y="134.05" width="2.82" height="9.80" fill="#d4c532"/>
<rect x="153.06" y="134.05" width="2.82" height="9.80" fill="#2fb2b1"/>
<rect x="155.38" y="134.05" width="2.82" height="9.80" fill="#aac648"/>
<rect x="157.70" y="134.05" width="2.82" height="9.80" fill="#d4c532"/>
<rect x="160.02" y="134.05" width="2.82" height="9.80" fill="#30b3b0"/>
<rect x="162.34" y="134.05" width="2.82" height="9.80" fill="#57be84"/>
<rect x="164.65" y="134.05" width="2.82" height="9.80" fill="#4380d5"/>
<rect x="166.97" y="134.05" width="2.82" height="9.80" fill="#31b3ae"/>
<rect x="169.29" y="134.05" width="2.82" height="9.80" fill="#59be82"/>
<rect x="171.61" y="134.05" width="2.82" height="9.80" fill="#35b6a6"/>
<rect x="173.92" y="134.05" width="2.82" height="9.80" fill="#66c078"/>
<rect x="176.24" y="134.05" width="2.82" height="9.80" fill="#47bc90"/>
<rect x="178.56" y="134.05" width="2.82" height="9.80" fill="#36b6a4"/>
<rect x="180.88" y="134.05" width="2.82" height="9.80" fill="#68c076"/>
<rect x="183.19" y="134.05" width="2.82" height="9.80" fill="#4abc8e"/>
<rect x="185.51" y="134.05" width="2.82" height="9.80" fill="#467bd2"/>
<rect x="187.83" y="134.05" width="2.82" height="9.80" fill="#2db1b6"/>
<rect x="190.15" y="134.05" width="2.82" height="9.80" fill="#d4c532"/>
<rect x="192.46" y="134.05" width="2.82" height="9.80" fill="#f7ba36"/>
<rect x="194.78" y="134.05" width="2.82" height="9.80" fill="#d4c532"/>
<rect x="197.10" y="134.05" width="2.82" height="9.80" fill="#4fbd8a"/>
<rect x="199.42" y="134.05" width="2.82" height="9.80" fill="#2a9bd5"/>
<rect x="201.74" y="134.05" width="2.82" height="9.80" fill="#5bbe80"/>
<rect x="204.05" y="134.05" width="2.82" height="9.80" fill="#9bc750"/>
<rect x="206.37" y="134.05" width="2.82" height="9.80" fill="#7dc367"/>
<rect x="208.69" y="134.05" width="2.82" height="9.80" fill="#5ebf7e"/>
<rect x="211.01" y="134.05" width="2.82" height="9.80" fill="#1fa9d2"/>
<rect x="213.32" y="134.05" width="2.82" height="9.80" fill="#7fc365"/>
<rect x="215.64" y="134.05" width="2.82" height="9.80" fill="#f7ba36"/>
<rect x="217.96" y="134.05" width="2.82" height="9.80" fill="#d4c532"/>
<rect x="220.28" y="134.05" width="2.82" height="9.80" fill="#82c463"/>
<rect x="222.59" y="134.05" width="2.82" height="9.80" fill="#b2c644"/>
<rect x="224.91" y="134.05" width="2.82" height="9.80" fill="#a0c74e"/>
<rect x="227.23" y="134.05" width="2.82" height="9.80" fill="#2eb2b3"/>
<rect x="229.55" y="134.05" width="2.82" height="9.80" fill="#a7c749"/>
<rect x="231.86" y="134.05" width="2.82" height="9.80" fill="#22a4d4"/>
<rect x="234.18" y="134.05" width="2.82" height="9.80" fill="#72c16f"/>
<rect x="236.50" y="134.05" width="2.82" height="9.80" fill="#a9c749"/>
<rect x="238.82" y="134.05" width="2.82" height="9.80" fill="#3ab99d"/>
<rect x="241.14" y="134.05" width="2.82" height="9.80" fill="#74c26d"/>
<rect x="243.45" y="134.05" width="2.82" height="9.80" fill="#56bd85"/>
<rect x="245.77" y="134.05" width="2.82" height="9.80" fill="#20a6d4"/>
<rect x="248.09" y="134.05" width="2.82" height="9.80" fill="#77c26b"/>
<rect x="250.41" y="134.05" width="2.82" height="9.80" fill="#27adc2"/>
<rect x="252.72" y="134.05" width="2.82" height="9.80" fill="#98c752"/>
<rect x="255.04" y="134.05" width="2.82" height="9.80" fill="#79c26a"/>
<rect x="257.36" y="134.05" width="2.82" height="9.80" fill="#46bb91"/>
<rect x="259.68" y="134.05" width="2.82" height="9.80" fill="#86c460"/>
<rect x="261.99" y="134.05" width="2.82" height="9.80" fill="#b5c642"/>
<rect x="264.31" y="134.05" width="2.82" height="9.80" fill="#48bc8f"/>
<rect x="266.63" y="134.05" width="2.82" height="9.80" fill="#88c45e"/>
<rect x="268.95" y="134.05" width="2.82" height="9.80" fill="#2cb1b7"/>
<rect x="271.26" y="134.05" width="2.82" height="9.80" fill="#a4c74b"/>
<rect x="273.58" y="134.05" width="2.82" height="9.80" fill="#d4c532"/>
<rect x="275.90" y="134.05" width="2.82" height="9.80" fill="#6cc173"/>
<rect x="278.22" y="134.05" width="2.82" height="9.80" fill="#23abc9"/>
<rect x="280.54" y="134.05" width="2.82" height="9.80" fill="#8dc55a"/>
<rect x="282.85" y="134.05" width="2.82" height="9.80" fill="#6fc172"/>
<rect x="285.17" y="134.05" width="2.82" height="9.80" fill="#3cba98"/>
<rect x="287.49" y="134.05" width="2.82" height="9.80" fill="#7bc368"/>
<rect x="289.81" y="134.05" width="2.82" height="9.80" fill="#aec646"/>
<rect x="292.12" y="134.05" width="2.82" height="9.80" fill="#3eba97"/>
<rect x="294.44" y="134.05" width="2.82" height="9.80" fill="#7ec366"/>
<rect x="296.76" y="134.05" width="2.82" height="9.80" fill="#b0c645"/>
<rect x="299.08" y="134.05" width="2.82" height="9.80" fill="#483ca5"/>
<rect x="301.39" y="134.05" width="2.82" height="9.80" fill="#289dd5"/>
<rect x="303.71" y="134.05" width="2.82" height="9.80" fill="#61bf7c"/>
<rect x="306.03" y="134.05" width="2.82" height="9.80" fill="#9fc74e"/>
<rect x="308.35" y="134.05" width="2.82" height="9.80" fill="#83c462"/>
<rect x="310.66" y="134.05" width="2.82" height="9.80" fill="#d4c532"/>
<rect x="312.98" y="134.05" width="2.32" height="9.80" fill="#d4c532"/>
<rect x="118.30" y="143.35" width="2.82" height="4.65" fill="#f8eb1e"/>
<rect x="120.62" y="143.35" width="2.82" height="4.65" fill="#f8eb1e"/>
<rect x="122.94" y="143.35" width="2.82" height="4.65" fill="#f8eb1e"/>
<rect x="125.25" y="143.35" width="2.82" height="4.65" fill="#f8eb1e"/>
<rect x="127.57" y="143.35" width="2.82" height="4.65" fill="#f8eb1e"/>
<rect x="129.89" y="143.35" width="2.82" height="4.65" fill="#f8eb1e"/>
<rect x="132.21" y="143.35" width="2.82" height="4.65" fill="#44bb92"/>
<rect x="134.52" y="143.35" width="2.82" height="4.65" fill="#84c462"/>
<rect x="136.84" y="143.35" width="2.82" height="4.65" fill="#a7c74a"/>
<rect x="139.16" y="143.35" width="2.82" height="4.65" fill="#91c658"/>
<rect x="141.48" y="143.35" width="2.82" height="4.65" fill="#72c16f"/>
<rect x="143.79" y="143.35" width="2.82" height="4.65" fill="#a9c749"/>
<rect x="146.11" y="143.35" width="2.82" height="4.65" fill="#93c656"/>
<rect x="148.43" y="143.35" width="2.82" height="4.65" fill="#d4c532"/>
<rect x="150.75" y="143.35" width="2.82" height="4.65" fill="#d4c532"/>
<rect x="153.06" y="143.35" width="2.82" height="4.65" fill="#96c654"/>
<rect x="155.38" y="143.35" width="2.82" height="4.65" fill="#77c26c"/>
<rect x="157.70" y="143.35" width="2.82" height="4.65" fill="#d4c532"/>
<rect x="160.02" y="143.35" width="2.82" height="4.65" fill="#98c752"/>
<rect x="162.34" y="143.35" width="2.82" height="4.65" fill="#79c26a"/>
<rect x="164.65" y="143.35" width="2.82" height="4.65" fill="#a1c74d"/>
<rect x="166.97" y="143.35" width="2.82" height="4.65" fill="#86c460"/>
<rect x="169.29" y="143.35" width="2.82" height="4.65" fill="#b5c642"/>
<rect x="171.61" y="143.35" width="2.82" height="4.65" fill="#a2c74c"/>
<rect x="173.92" y="143.35" width="2.82" height="4.65" fill="#88c45e"/>
<rect x="176.24" y="143.35" width="2.82" height="4.65" fill="#b6c642"/>
<rect x="178.56" y="143.35" width="2.82" height="4.65" fill="#a4c74b"/>
<rect x="180.88" y="143.35" width="2.82" height="4.65" fill="#8bc55c"/>
<rect x="183.19" y="143.35" width="2.82" height="4.65" fill="#6cc174"/>
<rect x="185.51" y="143.35" width="2.82" height="4.65" fill="#a5c74b"/>
<rect x="187.83" y="143.35" width="2.82" height="4.65" fill="#8dc55a"/>
<rect x="190.15" y="143.35" width="2.82" height="4.65" fill="#f7ba36"/>
<rect x="192.46" y="143.35" width="2.82" height="4.65" fill="#f7ba36"/>
<rect x="194.78" y="143.35" width="2.82" height="4.65" fill="#f7ba36"/>
<rect x="197.10" y="143.35" width="2.82" height="4.65" fill="#aec646"/>
<rect x="199.42" y="143.35" width="2.82" height="4.65" fill="#9cc750"/>
<rect x="201.74" y="143.35" width="2.82" height="4.65" fill="#7ec366"/>
<rect x="204.05" y="143.35" width="2.82" height="4.65" fill="#d4c532"/>
<rect x="206.37" y="143.35" width="2.82" height="4.65" fill="#d4c532"/>
<rect x="208.69" y="143.35" width="2.82" height="4.65" fill="#d4c532"/>
<rect x="211.01" y="143.35" width="2.82" height="4.65" fill="#b1c644"/>
<rect x="213.32" y="143.35" width="2.82" height="4.65" fill="#9fc74e"/>
<rect x="215.64" y="143.35" width="2.82" height="4.65" fill="#f7ba36"/>
<rect x="217.96" y="143.35" width="2.82" height="4.65" fill="#f7ba36"/>
<rect x="220.28" y="143.35" width="2.82" height="4.65" fill="#d4c532"/>
<rect x="222.59" y="143.35" width="2.82" height="4.65" fill="#71c170"/>
<rect x="224.91" y="143.35" width="2.82" height="4.65" fill="#a8c749"/>
<rect x="227.23" y="143.35" width="2.82" height="4.65" fill="#92c657"/>
<rect x="229.55" y="143.35" width="2.82" height="4.65" fill="#73c26e"/>
<rect x="231.86" y="143.35" width="2.82" height="4.65" fill="#a9c648"/>
<rect x="234.18" y="143.35" width="2.82" height="4.65" fill="#94c655"/>
<rect x="236.50" y="143.35" width="2.82" height="4.65" fill="#d4c532"/>
<rect x="238.82" y="143.35" width="2.82" height="4.65" fill="#abc648"/>
<rect x="241.14" y="143.35" width="2.82" height="4.65" fill="#97c653"/>
<rect x="243.45" y="143.35" width="2.82" height="4.65" fill="#78c26b"/>
<rect x="245.77" y="143.35" width="2.82" height="4.65" fill="#acc647"/>
<rect x="248.09" y="143.35" width="2.82" height="4.65" fill="#99c751"/>
<rect x="250.41" y="143.35" width="2.82" height="4.65" fill="#b4c643"/>
<rect x="252.72" y="143.35" width="2.82" height="4.65" fill="#d4c532"/>
<rect x="255.04" y="143.35" width="2.82" height="4.65" fill="#d4c532"/>
<rect x="257.36" y="143.35" width="2.82" height="4.65" fill="#b6c642"/>
<rect x="259.68" y="143.35" width="2.82" height="4.65" fill="#a3c74c"/>
<rect x="261.99" y="143.35" width="2.82" height="4.65" fill="#8ac55d"/>
<rect x="264.31" y="143.35" width="2.82" height="4.65" fill="#b7c641"/>
<rect x="266.63" y="143.35" width="2.82" height="4.65" fill="#a5c74b"/>
<rect x="268.95" y="143.35" width="2.82" height="4.65" fill="#8cc55b"/>
<rect x="271.26" y="143.35" width="2.82" height="4.65" fill="#6dc173"/>
<rect x="273.58" y="143.35" width="2.82" height="4.65" fill="#a6c74a"/>
<rect x="275.90" y="143.35" width="2.82" height="4.65" fill="#8fc559"/>
<rect x="278.22" y="143.35" width="2.82" height="4.65" fill="#aec646"/>
<rect x="280.54" y="143.35" width="2.82" height="4.65" fill="#9bc750"/>
<rect x="282.85" y="143.35" width="2.82" height="4.65" fill="#7dc367"/>
<rect x="285.17" y="143.35" width="2.82" height="4.65" fill="#afc645"/>
<rect x="287.49" y="143.35" width="2.82" height="4.65" fill="#9dc74f"/>
<rect x="289.81" y="143.35" width="2.82" height="4.65" fill="#7fc365"/>
<rect x="292.12" y="143.35" width="2.82" height="4.65" fill="#b1c645"/>
<rect x="294.44" y="143.35" width="2.82" height="4.65" fill="#9ec74e"/>
<rect x="296.76" y="143.35" width="2.82" height="4.65" fill="#81c363"/>
<rect x="299.08" y="143.35" width="2.82" height="4.65" fill="#b2c644"/>
<rect x="301.39" y="143.35" width="2.82" height="4.65" fill="#a0c74e"/>
<rect x="303.71" y="143.35" width="2.82" height="4.65" fill="#84c462"/>
<rect x="306.03" y="143.35" width="2.82" height="4.65" fill="#b4c643"/>
<rect x="308.35" y="143.35" width="2.82" height="4.65" fill="#39b89f"/>
<rect x="310.66" y="143.35" width="2.82" height="4.65" fill="#72c16f"/>
<rect x="312.98" y="143.35" width="2.32" height="4.65" fill="#a9c749"/>
</g>
<text x="114.10" y="151.80" font-family="Liberation Sans, sans-serif" font-size="11.2" fill="#1a1a1a" stroke="#1a1a1a" stroke-width="0.12" text-anchor="end">0</text>
<line x1="118.30" y1="117.00" x2="120.30" y2="117.00" stroke="#333" stroke-width="0.6"/>
<text x="114.10" y="120.80" font-family="Liberation Sans, sans-serif" font-size="11.2" fill="#1a1a1a" stroke="#1a1a1a" stroke-width="0.12" text-anchor="end">1</text>
<line x1="118.30" y1="86.00" x2="120.30" y2="86.00" stroke="#333" stroke-width="0.6"/>
<text x="114.10" y="89.80" font-family="Liberation Sans, sans-serif" font-size="11.2" fill="#1a1a1a" stroke="#1a1a1a" stroke-width="0.12" text-anchor="end">2</text>
<line x1="118.30" y1="55.00" x2="120.30" y2="55.00" stroke="#333" stroke-width="0.6"/>
<text x="114.10" y="58.80" font-family="Liberation Sans, sans-serif" font-size="11.2" fill="#1a1a1a" stroke="#1a1a1a" stroke-width="0.12" text-anchor="end">3</text>
<text x="114.10" y="27.80" font-family="Liberation Sans, sans-serif" font-size="11.2" fill="#1a1a1a" stroke="#1a1a1a" stroke-width="0.12" text-anchor="end">4</text>
<line x1="148.00" y1="148.00" x2="148.00" y2="146.00" stroke="#222" stroke-width="0.6"/>
<text x="148.00" y="163.00" font-family="Liberation Sans, sans-serif" font-size="11.2" fill="#1a1a1a" stroke="#1a1a1a" stroke-width="0.12" text-anchor="middle">10</text>
<line x1="182.30" y1="148.00" x2="182.30" y2="146.00" stroke="#222" stroke-width="0.6"/>
<text x="182.30" y="163.00" font-family="Liberation Sans, sans-serif" font-size="11.2" fill="#1a1a1a" stroke="#1a1a1a" stroke-width="0.12" text-anchor="middle">20</text>
<line x1="216.60" y1="148.00" x2="216.60" y2="146.00" stroke="#222" stroke-width="0.6"/>
<text x="216.60" y="163.00" font-family="Liberation Sans, sans-serif" font-size="11.2" fill="#1a1a1a" stroke="#1a1a1a" stroke-width="0.12" text-anchor="middle">30</text>
<line x1="250.90" y1="148.00" x2="250.90" y2="146.00" stroke="#222" stroke-width="0.6"/>
<text x="250.90" y="163.00" font-family="Liberation Sans, sans-serif" font-size="11.2" fill="#1a1a1a" stroke="#1a1a1a" stroke-width="0.12" text-anchor="middle">40</text>
<line x1="285.20" y1="148.00" x2="285.20" y2="146.00" stroke="#222" stroke-width="0.6"/>
<text x="285.20" y="163.00" font-family="Liberation Sans, sans-serif" font-size="11.2" fill="#1a1a1a" stroke="#1a1a1a" stroke-width="0.12" text-anchor="middle">50</text>
<text x="213.30" y="179.50" font-family="Liberation Sans, sans-serif" font-size="13.3" fill="#1a1a1a" stroke="#1a1a1a" stroke-width="0.12" text-anchor="middle">t (s)</text>
<text transform="translate(102.70,86.00) rotate(-90)" font-family="Liberation Sans, sans-serif" font-size="13.8" fill="#1a1a1a" stroke="#1a1a1a" stroke-width="0.12" text-anchor="middle">Tempo (Hz)</text>
<text x="120.30" y="145.00" font-family="Liberation Sans, sans-serif" font-size="13.6" font-weight="bold" fill="#000" stroke="#000" stroke-width="0.12">Crickets</text>
<defs><linearGradient id="cbCrickets" x1="0" x2="1" y1="0" y2="0"><stop offset="0.000" stop-color="#3e26a0"/><stop offset="0.111" stop-color="#483ca5"/><stop offset="0.222" stop-color="#585cc0"/><stop offset="0.333" stop-color="#4282d6"/><stop offset="0.444" stop-color="#1ea8d4"/><stop offset="0.556" stop-color="#3cba98"/><stop offset="0.667" stop-color="#9bc750"/><stop offset="0.778" stop-color="#d4c532"/><stop offset="0.889" stop-color="#f7ba36"/><stop offset="1.000" stop-color="#f8eb1e"/></linearGradient></defs><rect x="161.50" y="17.70" width="124.30" height="4.80" fill="url(#cbCrickets)" stroke="#555" stroke-width="0.3"/>
<text x="160.00" y="15.50" font-family="Liberation Sans, sans-serif" font-size="11.2" fill="#1a1a1a" stroke="#1a1a1a" stroke-width="0.12" text-anchor="middle">-80</text>
<text x="282.70" y="15.50" font-family="Liberation Sans, sans-serif" font-size="11.2" fill="#1a1a1a" stroke="#1a1a1a" stroke-width="0.12" text-anchor="middle">-40</text>
<g shape-rendering="crispEdges" filter="url(#blur)">
<rect x="384.40" y="24.00" width="2.82" height="8.25" fill="#27aec2"/>
<rect x="386.72" y="24.00" width="2.82" height="8.25" fill="#35b6a6"/>
<rect x="389.04" y="24.00" width="2.82" height="8.25" fill="#2bb0ba"/>
<rect x="391.35" y="24.00" width="2.82" height="8.25" fill="#21aacd"/>
<rect x="393.67" y="24.00" width="2.82" height="8.25" fill="#36b6a5"/>
<rect x="395.99" y="24.00" width="2.82" height="8.25" fill="#585cc0"/>
<rect x="398.31" y="24.00" width="2.82" height="8.25" fill="#585cc0"/>
<rect x="400.62" y="24.00" width="2.82" height="8.25" fill="#25a1d4"/>
<rect x="402.94" y="24.00" width="2.82" height="8.25" fill="#2db1b6"/>
<rect x="405.26" y="24.00" width="2.82" height="8.25" fill="#23abca"/>
<rect x="407.58" y="24.00" width="2.82" height="8.25" fill="#37b7a1"/>
<rect x="409.89" y="24.00" width="2.82" height="8.25" fill="#585cc0"/>
<rect x="412.21" y="24.00" width="2.82" height="8.25" fill="#585cc0"/>
<rect x="414.53" y="24.00" width="2.82" height="8.25" fill="#2a9bd5"/>
<rect x="416.85" y="24.00" width="2.82" height="8.25" fill="#585cc0"/>
<rect x="419.16" y="24.00" width="2.82" height="8.25" fill="#585cc0"/>
<rect x="421.48" y="24.00" width="2.82" height="8.25" fill="#2a9cd5"/>
<rect x="423.80" y="24.00" width="2.82" height="8.25" fill="#358fd5"/>
<rect x="426.12" y="24.00" width="2.82" height="8.25" fill="#4183d6"/>
<rect x="428.44" y="24.00" width="2.82" height="8.25" fill="#483ca5"/>
<rect x="430.75" y="24.00" width="2.82" height="8.25" fill="#29afbd"/>
<rect x="433.07" y="24.00" width="2.82" height="8.25" fill="#41bb94"/>
<rect x="435.39" y="24.00" width="2.82" height="8.25" fill="#34b5a8"/>
<rect x="437.71" y="24.00" width="2.82" height="8.25" fill="#62bf7b"/>
<rect x="440.02" y="24.00" width="2.82" height="8.25" fill="#44bb92"/>
<rect x="442.34" y="24.00" width="2.82" height="8.25" fill="#2eb2b4"/>
<rect x="444.66" y="24.00" width="2.82" height="8.25" fill="#24acc7"/>
<rect x="446.98" y="24.00" width="2.82" height="8.25" fill="#483ca5"/>
<rect x="449.29" y="24.00" width="2.82" height="8.25" fill="#2fb2b2"/>
<rect x="451.61" y="24.00" width="2.82" height="8.25" fill="#25acc6"/>
<rect x="453.93" y="24.00" width="2.82" height="8.25" fill="#21a5d4"/>
<rect x="456.25" y="24.00" width="2.82" height="8.25" fill="#30b3b0"/>
<rect x="458.56" y="24.00" width="2.82" height="8.25" fill="#26adc4"/>
<rect x="460.88" y="24.00" width="2.82" height="8.25" fill="#20a6d4"/>
<rect x="463.20" y="24.00" width="2.82" height="8.25" fill="#31b3af"/>
<rect x="465.52" y="24.00" width="2.82" height="8.25" fill="#27adc2"/>
<rect x="467.84" y="24.00" width="2.82" height="8.25" fill="#1fa7d4"/>
<rect x="470.15" y="24.00" width="2.82" height="8.25" fill="#79c26a"/>
<rect x="472.47" y="24.00" width="2.82" height="8.25" fill="#21aace"/>
<rect x="474.79" y="24.00" width="2.82" height="8.25" fill="#35b6a5"/>
<rect x="477.11" y="24.00" width="2.82" height="8.25" fill="#2cb0b9"/>
<rect x="479.42" y="24.00" width="2.82" height="8.25" fill="#22aacc"/>
<rect x="481.74" y="24.00" width="2.82" height="8.25" fill="#25a1d4"/>
<rect x="484.06" y="24.00" width="2.82" height="8.25" fill="#2cb1b7"/>
<rect x="486.38" y="24.00" width="2.82" height="8.25" fill="#23abcb"/>
<rect x="488.69" y="24.00" width="2.82" height="8.25" fill="#37b7a2"/>
<rect x="491.01" y="24.00" width="2.82" height="8.25" fill="#2db1b6"/>
<rect x="493.33" y="24.00" width="2.82" height="8.25" fill="#23abc9"/>
<rect x="495.65" y="24.00" width="2.82" height="8.25" fill="#457dd3"/>
<rect x="497.96" y="24.00" width="2.82" height="8.25" fill="#2eb2b4"/>
<rect x="500.28" y="24.00" width="2.82" height="8.25" fill="#1ea8d4"/>
<rect x="502.60" y="24.00" width="2.82" height="8.25" fill="#32b4ac"/>
<rect x="504.92" y="24.00" width="2.82" height="8.25" fill="#28aec0"/>
<rect x="507.24" y="24.00" width="2.82" height="8.25" fill="#1ea8d3"/>
<rect x="509.55" y="24.00" width="2.82" height="8.25" fill="#33b4ab"/>
<rect x="511.87" y="24.00" width="2.82" height="8.25" fill="#29afbe"/>
<rect x="514.19" y="24.00" width="2.82" height="8.25" fill="#1fa9d1"/>
<rect x="516.51" y="24.00" width="2.82" height="8.25" fill="#34b5a9"/>
<rect x="518.82" y="24.00" width="2.82" height="8.25" fill="#2aafbc"/>
<rect x="521.14" y="24.00" width="2.82" height="8.25" fill="#42bb93"/>
<rect x="523.46" y="24.00" width="2.82" height="8.25" fill="#34b5a7"/>
<rect x="525.78" y="24.00" width="2.82" height="8.25" fill="#2bb0bb"/>
<rect x="528.09" y="24.00" width="2.82" height="8.25" fill="#22a3d4"/>
<rect x="530.41" y="24.00" width="2.82" height="8.25" fill="#2fb2b3"/>
<rect x="532.73" y="24.00" width="2.82" height="8.25" fill="#25acc6"/>
<rect x="535.05" y="24.00" width="2.82" height="8.25" fill="#21a4d4"/>
<rect x="537.36" y="24.00" width="2.82" height="8.25" fill="#2fb2b1"/>
<rect x="539.68" y="24.00" width="2.82" height="8.25" fill="#398cd5"/>
<rect x="542.00" y="24.00" width="2.82" height="8.25" fill="#21a5d4"/>
<rect x="544.32" y="24.00" width="2.82" height="8.25" fill="#585cc0"/>
<rect x="546.64" y="24.00" width="2.82" height="8.25" fill="#585cc0"/>
<rect x="548.95" y="24.00" width="2.82" height="8.25" fill="#20a6d4"/>
<rect x="551.27" y="24.00" width="2.82" height="8.25" fill="#31b3ae"/>
<rect x="553.59" y="24.00" width="2.82" height="8.25" fill="#27aec2"/>
<rect x="555.91" y="24.00" width="2.82" height="8.25" fill="#35b6a6"/>
<rect x="558.22" y="24.00" width="2.82" height="8.25" fill="#2bb0ba"/>
<rect x="560.54" y="24.00" width="2.82" height="8.25" fill="#21aacd"/>
<rect x="562.86" y="24.00" width="2.82" height="8.25" fill="#36b6a5"/>
<rect x="565.18" y="24.00" width="2.82" height="8.25" fill="#2cb0b8"/>
<rect x="567.49" y="24.00" width="2.82" height="8.25" fill="#22abcc"/>
<rect x="569.81" y="24.00" width="2.82" height="8.25" fill="#37b7a3"/>
<rect x="572.13" y="24.00" width="2.82" height="8.25" fill="#585cc0"/>
<rect x="574.45" y="24.00" width="2.82" height="8.25" fill="#3c88d6"/>
<rect x="576.76" y="24.00" width="2.82" height="8.25" fill="#37b7a1"/>
<rect x="579.08" y="24.00" width="2.32" height="8.25" fill="#2eb1b5"/>
<rect x="384.40" y="31.75" width="2.82" height="9.80" fill="#2cb0b9"/>
<rect x="386.72" y="31.75" width="2.82" height="9.80" fill="#22aacc"/>
<rect x="389.04" y="31.75" width="2.82" height="9.80" fill="#585cc0"/>
<rect x="391.35" y="31.75" width="2.82" height="9.80" fill="#2cb1b7"/>
<rect x="393.67" y="31.75" width="2.82" height="9.80" fill="#23abcb"/>
<rect x="395.99" y="31.75" width="2.82" height="9.80" fill="#37b7a2"/>
<rect x="398.31" y="31.75" width="2.82" height="9.80" fill="#2db1b6"/>
<rect x="400.62" y="31.75" width="2.82" height="9.80" fill="#3c89d6"/>
<rect x="402.94" y="31.75" width="2.82" height="9.80" fill="#457cd3"/>
<rect x="405.26" y="31.75" width="2.82" height="9.80" fill="#2eb2b4"/>
<rect x="407.58" y="31.75" width="2.82" height="9.80" fill="#3cba99"/>
<rect x="409.89" y="31.75" width="2.82" height="9.80" fill="#32b4ac"/>
<rect x="412.21" y="31.75" width="2.82" height="9.80" fill="#28aec0"/>
<rect x="414.53" y="31.75" width="2.82" height="9.80" fill="#1ea8d3"/>
<rect x="416.85" y="31.75" width="2.82" height="9.80" fill="#33b4ab"/>
<rect x="419.16" y="31.75" width="2.82" height="9.80" fill="#3590d5"/>
<rect x="421.48" y="31.75" width="2.82" height="9.80" fill="#1fa9d2"/>
<rect x="423.80" y="31.75" width="2.82" height="9.80" fill="#33b5a9"/>
<rect x="426.12" y="31.75" width="2.82" height="9.80" fill="#2aafbd"/>
<rect x="428.44" y="31.75" width="2.82" height="9.80" fill="#20a9d0"/>
<rect x="430.75" y="31.75" width="2.82" height="9.80" fill="#34b5a7"/>
<rect x="433.07" y="31.75" width="2.82" height="9.80" fill="#2bb0bb"/>
<rect x="435.39" y="31.75" width="2.82" height="9.80" fill="#45bb91"/>
<rect x="437.71" y="31.75" width="2.82" height="9.80" fill="#2fb2b3"/>
<rect x="440.02" y="31.75" width="2.82" height="9.80" fill="#25acc6"/>
<rect x="442.34" y="31.75" width="2.82" height="9.80" fill="#22a4d4"/>
<rect x="444.66" y="31.75" width="2.82" height="9.80" fill="#2fb2b1"/>
<rect x="446.98" y="31.75" width="2.82" height="9.80" fill="#26adc5"/>
<rect x="449.29" y="31.75" width="2.82" height="9.80" fill="#3ab99c"/>
<rect x="451.61" y="31.75" width="2.82" height="9.80" fill="#30b3b0"/>
<rect x="453.93" y="31.75" width="2.82" height="9.80" fill="#388dd5"/>
<rect x="456.25" y="31.75" width="2.82" height="9.80" fill="#585cc0"/>
<rect x="458.56" y="31.75" width="2.82" height="9.80" fill="#31b3ae"/>
<rect x="460.88" y="31.75" width="2.82" height="9.80" fill="#378ed5"/>
<rect x="463.20" y="31.75" width="2.82" height="9.80" fill="#585cc0"/>
<rect x="465.52" y="31.75" width="2.82" height="9.80" fill="#2bb0ba"/>
<rect x="467.84" y="31.75" width="2.82" height="9.80" fill="#21aacd"/>
<rect x="470.15" y="31.75" width="2.82" height="9.80" fill="#36b6a5"/>
<rect x="472.47" y="31.75" width="2.82" height="9.80" fill="#2cb0b8"/>
<rect x="474.79" y="31.75" width="2.82" height="9.80" fill="#49bc8e"/>
<rect x="477.11" y="31.75" width="2.82" height="9.80" fill="#36b7a3"/>
<rect x="479.42" y="31.75" width="2.82" height="9.80" fill="#2db1b7"/>
<rect x="481.74" y="31.75" width="2.82" height="9.80" fill="#585cc0"/>
<rect x="484.06" y="31.75" width="2.82" height="9.80" fill="#37b7a2"/>
<rect x="486.38" y="31.75" width="2.82" height="9.80" fill="#2eb1b5"/>
<rect x="488.69" y="31.75" width="2.82" height="9.80" fill="#24abc8"/>
<rect x="491.01" y="31.75" width="2.82" height="9.80" fill="#23a3d4"/>
<rect x="493.33" y="31.75" width="2.82" height="9.80" fill="#28aec0"/>
<rect x="495.65" y="31.75" width="2.82" height="9.80" fill="#585cc0"/>
<rect x="497.96" y="31.75" width="2.82" height="9.80" fill="#2a9cd5"/>
<rect x="500.28" y="31.75" width="2.82" height="9.80" fill="#29aebf"/>
<rect x="502.60" y="31.75" width="2.82" height="9.80" fill="#585cc0"/>
<rect x="504.92" y="31.75" width="2.82" height="9.80" fill="#33b5aa"/>
<rect x="507.24" y="31.75" width="2.82" height="9.80" fill="#29afbd"/>
<rect x="509.55" y="31.75" width="2.82" height="9.80" fill="#20a9d1"/>
<rect x="511.87" y="31.75" width="2.82" height="9.80" fill="#81c364"/>
<rect x="514.19" y="31.75" width="2.82" height="9.80" fill="#62bf7b"/>
<rect x="516.51" y="31.75" width="2.82" height="9.80" fill="#81c364"/>
<rect x="518.82" y="31.75" width="2.82" height="9.80" fill="#84c462"/>
<rect x="521.14" y="31.75" width="2.82" height="9.80" fill="#585cc0"/>
<rect x="523.46" y="31.75" width="2.82" height="9.80" fill="#22a4d4"/>
<rect x="525.78" y="31.75" width="2.82" height="9.80" fill="#72c16f"/>
<rect x="528.09" y="31.75" width="2.82" height="9.80" fill="#53bd87"/>
<rect x="530.41" y="31.75" width="2.82" height="9.80" fill="#21a5d4"/>
<rect x="532.73" y="31.75" width="2.82" height="9.80" fill="#30b3b1"/>
<rect x="535.05" y="31.75" width="2.82" height="9.80" fill="#26adc4"/>
<rect x="537.36" y="31.75" width="2.82" height="9.80" fill="#20a6d4"/>
<rect x="539.68" y="31.75" width="2.82" height="9.80" fill="#30b3af"/>
<rect x="542.00" y="31.75" width="2.82" height="9.80" fill="#27adc2"/>
<rect x="544.32" y="31.75" width="2.82" height="9.80" fill="#1fa7d4"/>
<rect x="546.64" y="31.75" width="2.82" height="9.80" fill="#585cc0"/>
<rect x="548.95" y="31.75" width="2.82" height="9.80" fill="#28aec1"/>
<rect x="551.27" y="31.75" width="2.82" height="9.80" fill="#35b6a5"/>
<rect x="553.59" y="31.75" width="2.82" height="9.80" fill="#585cc0"/>
<rect x="555.91" y="31.75" width="2.82" height="9.80" fill="#22aacc"/>
<rect x="558.22" y="31.75" width="2.82" height="9.80" fill="#36b6a4"/>
<rect x="560.54" y="31.75" width="2.82" height="9.80" fill="#2cb1b7"/>
<rect x="562.86" y="31.75" width="2.82" height="9.80" fill="#4bbc8d"/>
<rect x="565.18" y="31.75" width="2.82" height="9.80" fill="#8bc55c"/>
<rect x="567.49" y="31.75" width="2.82" height="9.80" fill="#2db1b6"/>
<rect x="569.81" y="31.75" width="2.82" height="9.80" fill="#585cc0"/>
<rect x="572.13" y="31.75" width="2.82" height="9.80" fill="#457cd3"/>
<rect x="574.45" y="31.75" width="2.82" height="9.80" fill="#2eb2b4"/>
<rect x="576.76" y="31.75" width="2.82" height="9.80" fill="#3b8ad6"/>
<rect x="579.08" y="31.75" width="2.32" height="9.80" fill="#32b4ac"/>
<rect x="384.40" y="41.05" width="2.82" height="9.80" fill="#36b7a3"/>
<rect x="386.72" y="41.05" width="2.82" height="9.80" fill="#2db1b7"/>
<rect x="389.04" y="41.05" width="2.82" height="9.80" fill="#23abca"/>
<rect x="391.35" y="41.05" width="2.82" height="9.80" fill="#37b7a2"/>
<rect x="393.67" y="41.05" width="2.82" height="9.80" fill="#2db1b5"/>
<rect x="395.99" y="41.05" width="2.82" height="9.80" fill="#585cc0"/>
<rect x="398.31" y="41.05" width="2.82" height="9.80" fill="#23a3d4"/>
<rect x="400.62" y="41.05" width="2.82" height="9.80" fill="#2eb2b4"/>
<rect x="402.94" y="41.05" width="2.82" height="9.80" fill="#1ea8d4"/>
<rect x="405.26" y="41.05" width="2.82" height="9.80" fill="#32b4ab"/>
<rect x="407.58" y="41.05" width="2.82" height="9.80" fill="#358fd5"/>
<rect x="409.89" y="41.05" width="2.82" height="9.80" fill="#1fa8d2"/>
<rect x="412.21" y="41.05" width="2.82" height="9.80" fill="#33b5aa"/>
<rect x="414.53" y="41.05" width="2.82" height="9.80" fill="#29afbd"/>
<rect x="416.85" y="41.05" width="2.82" height="9.80" fill="#4084d6"/>
<rect x="419.16" y="41.05" width="2.82" height="9.80" fill="#34b5a8"/>
<rect x="421.48" y="41.05" width="2.82" height="9.80" fill="#2aafbc"/>
<rect x="423.80" y="41.05" width="2.82" height="9.80" fill="#20a9cf"/>
<rect x="426.12" y="41.05" width="2.82" height="9.80" fill="#35b6a7"/>
<rect x="428.44" y="41.05" width="2.82" height="9.80" fill="#3392d5"/>
<rect x="430.75" y="41.05" width="2.82" height="9.80" fill="#22a4d4"/>
<rect x="433.07" y="41.05" width="2.82" height="9.80" fill="#71c16f"/>
<rect x="435.39" y="41.05" width="2.82" height="9.80" fill="#53bd87"/>
<rect x="437.71" y="41.05" width="2.82" height="9.80" fill="#21a5d4"/>
<rect x="440.02" y="41.05" width="2.82" height="9.80" fill="#30b3b1"/>
<rect x="442.34" y="41.05" width="2.82" height="9.80" fill="#26adc4"/>
<rect x="444.66" y="41.05" width="2.82" height="9.80" fill="#20a6d4"/>
<rect x="446.98" y="41.05" width="2.82" height="9.80" fill="#30b3af"/>
<rect x="449.29" y="41.05" width="2.82" height="9.80" fill="#58be83"/>
<rect x="451.61" y="41.05" width="2.82" height="9.80" fill="#1fa7d4"/>
<rect x="453.93" y="41.05" width="2.82" height="9.80" fill="#31b4ae"/>
<rect x="456.25" y="41.05" width="2.82" height="9.80" fill="#585cc0"/>
<rect x="458.56" y="41.05" width="2.82" height="9.80" fill="#35b6a6"/>
<rect x="460.88" y="41.05" width="2.82" height="9.80" fill="#2cb0b9"/>
<rect x="463.20" y="41.05" width="2.82" height="9.80" fill="#22aacc"/>
<rect x="465.52" y="41.05" width="2.82" height="9.80" fill="#36b6a4"/>
<rect x="467.84" y="41.05" width="2.82" height="9.80" fill="#69c076"/>
<rect x="470.15" y="41.05" width="2.82" height="9.80" fill="#4abc8d"/>
<rect x="472.47" y="41.05" width="2.82" height="9.80" fill="#8bc55c"/>
<rect x="474.79" y="41.05" width="2.82" height="9.80" fill="#2db1b6"/>
<rect x="477.11" y="41.05" width="2.82" height="9.80" fill="#23abc9"/>
<rect x="479.42" y="41.05" width="2.82" height="9.80" fill="#23a2d4"/>
<rect x="481.74" y="41.05" width="2.82" height="9.80" fill="#2eb2b4"/>
<rect x="484.06" y="41.05" width="2.82" height="9.80" fill="#24acc8"/>
<rect x="486.38" y="41.05" width="2.82" height="9.80" fill="#38b89f"/>
<rect x="488.69" y="41.05" width="2.82" height="9.80" fill="#28aec0"/>
<rect x="491.01" y="41.05" width="2.82" height="9.80" fill="#3dba97"/>
<rect x="493.33" y="41.05" width="2.82" height="9.80" fill="#33b4ab"/>
<rect x="495.65" y="41.05" width="2.82" height="9.80" fill="#3590d5"/>
<rect x="497.96" y="41.05" width="2.82" height="9.80" fill="#1fa9d2"/>
<rect x="500.28" y="41.05" width="2.82" height="9.80" fill="#33b5a9"/>
<rect x="502.60" y="41.05" width="2.82" height="9.80" fill="#2aafbd"/>
<rect x="504.92" y="41.05" width="2.82" height="9.80" fill="#20a9d0"/>
<rect x="507.24" y="41.05" width="2.82" height="9.80" fill="#34b5a8"/>
<rect x="509.55" y="41.05" width="2.82" height="9.80" fill="#2aafbb"/>
<rect x="511.87" y="41.05" width="2.82" height="9.80" fill="#21aacf"/>
<rect x="514.19" y="41.05" width="2.82" height="9.80" fill="#35b6a6"/>
<rect x="516.51" y="41.05" width="2.82" height="9.80" fill="#51bd88"/>
<rect x="518.82" y="41.05" width="2.82" height="9.80" fill="#22a4d4"/>
<rect x="521.14" y="41.05" width="2.82" height="9.80" fill="#73c16f"/>
<rect x="523.46" y="41.05" width="2.82" height="9.80" fill="#26adc5"/>
<rect x="525.78" y="41.05" width="2.82" height="9.80" fill="#3ab99c"/>
<rect x="528.09" y="41.05" width="2.82" height="9.80" fill="#30b3b0"/>
<rect x="530.41" y="41.05" width="2.82" height="9.80" fill="#26adc3"/>
<rect x="532.73" y="41.05" width="2.82" height="9.80" fill="#20a6d4"/>
<rect x="535.05" y="41.05" width="2.82" height="9.80" fill="#31b3ae"/>
<rect x="537.36" y="41.05" width="2.82" height="9.80" fill="#378ed5"/>
<rect x="539.68" y="41.05" width="2.82" height="9.80" fill="#1fa7d4"/>
<rect x="542.00" y="41.05" width="2.82" height="9.80" fill="#32b4ad"/>
<rect x="544.32" y="41.05" width="2.82" height="9.80" fill="#21aacd"/>
<rect x="546.64" y="41.05" width="2.82" height="9.80" fill="#36b6a5"/>
<rect x="548.95" y="41.05" width="2.82" height="9.80" fill="#68c077"/>
<rect x="551.27" y="41.05" width="2.82" height="9.80" fill="#49bc8e"/>
<rect x="553.59" y="41.05" width="2.82" height="9.80" fill="#89c55d"/>
<rect x="555.91" y="41.05" width="2.82" height="9.80" fill="#6ac075"/>
<rect x="558.22" y="41.05" width="2.82" height="9.80" fill="#23abca"/>
<rect x="560.54" y="41.05" width="2.82" height="9.80" fill="#37b7a2"/>
<rect x="562.86" y="41.05" width="2.82" height="9.80" fill="#2f96d5"/>
<rect x="565.18" y="41.05" width="2.82" height="9.80" fill="#24abc9"/>
<rect x="567.49" y="41.05" width="2.82" height="9.80" fill="#23a3d4"/>
<rect x="569.81" y="41.05" width="2.82" height="9.80" fill="#2eb2b4"/>
<rect x="572.13" y="41.05" width="2.82" height="9.80" fill="#24acc7"/>
<rect x="574.45" y="41.05" width="2.82" height="9.80" fill="#2a9cd5"/>
<rect x="576.76" y="41.05" width="2.82" height="9.80" fill="#358fd5"/>
<rect x="579.08" y="41.05" width="2.32" height="9.80" fill="#1fa8d2"/>
<rect x="384.40" y="50.35" width="2.82" height="9.80" fill="#585cc0"/>
<rect x="386.72" y="50.35" width="2.82" height="9.80" fill="#23a2d4"/>
<rect x="389.04" y="50.35" width="2.82" height="9.80" fill="#2eb1b4"/>
<rect x="391.35" y="50.35" width="2.82" height="9.80" fill="#3b8ad6"/>
<rect x="393.67" y="50.35" width="2.82" height="9.80" fill="#22a3d4"/>
<rect x="395.99" y="50.35" width="2.82" height="9.80" fill="#28aec0"/>
<rect x="398.31" y="50.35" width="2.82" height="9.80" fill="#1ea8d3"/>
<rect x="400.62" y="50.35" width="2.82" height="9.80" fill="#33b4ab"/>
<rect x="402.94" y="50.35" width="2.82" height="9.80" fill="#29afbe"/>
<rect x="405.26" y="50.35" width="2.82" height="9.80" fill="#1fa9d2"/>
<rect x="407.58" y="50.35" width="2.82" height="9.80" fill="#33b5a9"/>
<rect x="409.89" y="50.35" width="2.82" height="9.80" fill="#3491d5"/>
<rect x="412.21" y="50.35" width="2.82" height="9.80" fill="#4084d6"/>
<rect x="414.53" y="50.35" width="2.82" height="9.80" fill="#34b5a8"/>
<rect x="416.85" y="50.35" width="2.82" height="9.80" fill="#2aafbb"/>
<rect x="419.16" y="50.35" width="2.82" height="9.80" fill="#21aacf"/>
<rect x="421.48" y="50.35" width="2.82" height="9.80" fill="#35b6a6"/>
<rect x="423.80" y="50.35" width="2.82" height="9.80" fill="#2bb0ba"/>
<rect x="426.12" y="50.35" width="2.82" height="9.80" fill="#447ed4"/>
<rect x="428.44" y="50.35" width="2.82" height="9.80" fill="#2fb2b2"/>
<rect x="430.75" y="50.35" width="2.82" height="9.80" fill="#26acc5"/>
<rect x="433.07" y="50.35" width="2.82" height="9.80" fill="#21a5d4"/>
<rect x="435.39" y="50.35" width="2.82" height="9.80" fill="#30b3b0"/>
<rect x="437.71" y="50.35" width="2.82" height="9.80" fill="#56be84"/>
<rect x="440.02" y="50.35" width="2.82" height="9.80" fill="#20a6d4"/>
<rect x="442.34" y="50.35" width="2.82" height="9.80" fill="#2b9ad5"/>
<rect x="444.66" y="50.35" width="2.82" height="9.80" fill="#378dd5"/>
<rect x="446.98" y="50.35" width="2.82" height="9.80" fill="#1fa7d4"/>
<rect x="449.29" y="50.35" width="2.82" height="9.80" fill="#2a9bd5"/>
<rect x="451.61" y="50.35" width="2.82" height="9.80" fill="#28aec0"/>
<rect x="453.93" y="50.35" width="2.82" height="9.80" fill="#36b6a5"/>
<rect x="456.25" y="50.35" width="2.82" height="9.80" fill="#2cb0b8"/>
<rect x="458.56" y="50.35" width="2.82" height="9.80" fill="#22aacc"/>
<rect x="460.88" y="50.35" width="2.82" height="9.80" fill="#36b7a3"/>
<rect x="463.20" y="50.35" width="2.82" height="9.80" fill="#2db1b7"/>
<rect x="465.52" y="50.35" width="2.82" height="9.80" fill="#3c88d6"/>
<rect x="467.84" y="50.35" width="2.82" height="9.80" fill="#37b7a2"/>
<rect x="470.15" y="50.35" width="2.82" height="9.80" fill="#2db1b5"/>
<rect x="472.47" y="50.35" width="2.82" height="9.80" fill="#24abc9"/>
<rect x="474.79" y="50.35" width="2.82" height="9.80" fill="#23a3d4"/>
<rect x="477.11" y="50.35" width="2.82" height="9.80" fill="#2eb2b4"/>
<rect x="479.42" y="50.35" width="2.82" height="9.80" fill="#24acc7"/>
<rect x="481.74" y="50.35" width="2.82" height="9.80" fill="#7cc367"/>
<rect x="484.06" y="50.35" width="2.82" height="9.80" fill="#5dbf7f"/>
<rect x="486.38" y="50.35" width="2.82" height="9.80" fill="#1fa8d3"/>
<rect x="488.69" y="50.35" width="2.82" height="9.80" fill="#33b5aa"/>
<rect x="491.01" y="50.35" width="2.82" height="9.80" fill="#29afbd"/>
<rect x="493.33" y="50.35" width="2.82" height="9.80" fill="#20a9d1"/>
<rect x="495.65" y="50.35" width="2.82" height="9.80" fill="#289ed5"/>
<rect x="497.96" y="50.35" width="2.82" height="9.80" fill="#2aafbc"/>
<rect x="500.28" y="50.35" width="2.82" height="9.80" fill="#20a9cf"/>
<rect x="502.60" y="50.35" width="2.82" height="9.80" fill="#35b6a7"/>
<rect x="504.92" y="50.35" width="2.82" height="9.80" fill="#65c079"/>
<rect x="507.24" y="50.35" width="2.82" height="9.80" fill="#21aace"/>
<rect x="509.55" y="50.35" width="2.82" height="9.80" fill="#2fb2b2"/>
<rect x="511.87" y="50.35" width="2.82" height="9.80" fill="#25acc6"/>
<rect x="514.19" y="50.35" width="2.82" height="9.80" fill="#21a5d4"/>
<rect x="516.51" y="50.35" width="2.82" height="9.80" fill="#30b3b1"/>
<rect x="518.82" y="50.35" width="2.82" height="9.80" fill="#26adc4"/>
<rect x="521.14" y="50.35" width="2.82" height="9.80" fill="#20a6d4"/>
<rect x="523.46" y="50.35" width="2.82" height="9.80" fill="#30b3af"/>
<rect x="525.78" y="50.35" width="2.82" height="9.80" fill="#388dd5"/>
<rect x="528.09" y="50.35" width="2.82" height="9.80" fill="#4381d5"/>
<rect x="530.41" y="50.35" width="2.82" height="9.80" fill="#483ca5"/>
<rect x="532.73" y="50.35" width="2.82" height="9.80" fill="#378ed5"/>
<rect x="535.05" y="50.35" width="2.82" height="9.80" fill="#1ea8d4"/>
<rect x="537.36" y="50.35" width="2.82" height="9.80" fill="#32b4ac"/>
<rect x="539.68" y="50.35" width="2.82" height="9.80" fill="#22aacc"/>
<rect x="542.00" y="50.35" width="2.82" height="9.80" fill="#25a0d4"/>
<rect x="544.32" y="50.35" width="2.82" height="9.80" fill="#2cb1b8"/>
<rect x="546.64" y="50.35" width="2.82" height="9.80" fill="#23abcb"/>
<rect x="548.95" y="50.35" width="2.82" height="9.80" fill="#8ac55d"/>
<rect x="551.27" y="50.35" width="2.82" height="9.80" fill="#2db1b6"/>
<rect x="553.59" y="50.35" width="2.82" height="9.80" fill="#585cc0"/>
<rect x="555.91" y="50.35" width="2.82" height="9.80" fill="#23a2d4"/>
<rect x="558.22" y="50.35" width="2.82" height="9.80" fill="#6ec172"/>
<rect x="560.54" y="50.35" width="2.82" height="9.80" fill="#24acc8"/>
<rect x="562.86" y="50.35" width="2.82" height="9.80" fill="#22a3d4"/>
<rect x="565.18" y="50.35" width="2.82" height="9.80" fill="#2fb2b3"/>
<rect x="567.49" y="50.35" width="2.82" height="9.80" fill="#4282d6"/>
<rect x="569.81" y="50.35" width="2.82" height="9.80" fill="#33b4ab"/>
<rect x="572.13" y="50.35" width="2.82" height="9.80" fill="#29afbe"/>
<rect x="574.45" y="50.35" width="2.82" height="9.80" fill="#1fa9d2"/>
<rect x="576.76" y="50.35" width="2.82" height="9.80" fill="#80c365"/>
<rect x="579.08" y="50.35" width="2.32" height="9.80" fill="#61bf7c"/>
<rect x="384.40" y="59.65" width="2.82" height="9.80" fill="#2eb2b4"/>
<rect x="386.72" y="59.65" width="2.82" height="9.80" fill="#24acc7"/>
<rect x="389.04" y="59.65" width="2.82" height="9.80" fill="#22a4d4"/>
<rect x="391.35" y="59.65" width="2.82" height="9.80" fill="#28aebf"/>
<rect x="393.67" y="59.65" width="2.82" height="9.80" fill="#1fa8d3"/>
<rect x="395.99" y="59.65" width="2.82" height="9.80" fill="#7ec366"/>
<rect x="398.31" y="59.65" width="2.82" height="9.80" fill="#60bf7d"/>
<rect x="400.62" y="59.65" width="2.82" height="9.80" fill="#1fa9d1"/>
<rect x="402.94" y="59.65" width="2.82" height="9.80" fill="#34b5a9"/>
<rect x="405.26" y="59.65" width="2.82" height="9.80" fill="#62bf7b"/>
<rect x="407.58" y="59.65" width="2.82" height="9.80" fill="#43bb93"/>
<rect x="409.89" y="59.65" width="2.82" height="9.80" fill="#35b6a7"/>
<rect x="412.21" y="59.65" width="2.82" height="9.80" fill="#9fc74e"/>
<rect x="414.53" y="59.65" width="2.82" height="9.80" fill="#83c462"/>
<rect x="416.85" y="59.65" width="2.82" height="9.80" fill="#b3c643"/>
<rect x="419.16" y="59.65" width="2.82" height="9.80" fill="#25acc6"/>
<rect x="421.48" y="59.65" width="2.82" height="9.80" fill="#21a5d4"/>
<rect x="423.80" y="59.65" width="2.82" height="9.80" fill="#30b3b1"/>
<rect x="426.12" y="59.65" width="2.82" height="9.80" fill="#26adc4"/>
<rect x="428.44" y="59.65" width="2.82" height="9.80" fill="#20a6d4"/>
<rect x="430.75" y="59.65" width="2.82" height="9.80" fill="#30b3af"/>
<rect x="433.07" y="59.65" width="2.82" height="9.80" fill="#57be83"/>
<rect x="435.39" y="59.65" width="2.82" height="9.80" fill="#585cc0"/>
<rect x="437.71" y="59.65" width="2.82" height="9.80" fill="#31b3ae"/>
<rect x="440.02" y="59.65" width="2.82" height="9.80" fill="#5abe81"/>
<rect x="442.34" y="59.65" width="2.82" height="9.80" fill="#3cba99"/>
<rect x="444.66" y="59.65" width="2.82" height="9.80" fill="#7bc368"/>
<rect x="446.98" y="59.65" width="2.82" height="9.80" fill="#22aacd"/>
<rect x="449.29" y="59.65" width="2.82" height="9.80" fill="#483ca5"/>
<rect x="451.61" y="59.65" width="2.82" height="9.80" fill="#2cb1b8"/>
<rect x="453.93" y="59.65" width="2.82" height="9.80" fill="#4abc8d"/>
<rect x="456.25" y="59.65" width="2.82" height="9.80" fill="#8ac55d"/>
<rect x="458.56" y="59.65" width="2.82" height="9.80" fill="#2db1b6"/>
<rect x="460.88" y="59.65" width="2.82" height="9.80" fill="#23abca"/>
<rect x="463.20" y="59.65" width="2.82" height="9.80" fill="#585cc0"/>
<rect x="465.52" y="59.65" width="2.82" height="9.80" fill="#2eb1b4"/>
<rect x="467.84" y="59.65" width="2.82" height="9.80" fill="#4fbd8a"/>
<rect x="470.15" y="59.65" width="2.82" height="9.80" fill="#22a3d4"/>
<rect x="472.47" y="59.65" width="2.82" height="9.80" fill="#585cc0"/>
<rect x="474.79" y="59.65" width="2.82" height="9.80" fill="#25acc6"/>
<rect x="477.11" y="59.65" width="2.82" height="9.80" fill="#33b4ab"/>
<rect x="479.42" y="59.65" width="2.82" height="9.80" fill="#29afbe"/>
<rect x="481.74" y="59.65" width="2.82" height="9.80" fill="#7dc367"/>
<rect x="484.06" y="59.65" width="2.82" height="9.80" fill="#289dd5"/>
<rect x="486.38" y="59.65" width="2.82" height="9.80" fill="#9dc74f"/>
<rect x="488.69" y="59.65" width="2.82" height="9.80" fill="#42bb93"/>
<rect x="491.01" y="59.65" width="2.82" height="9.80" fill="#b1c644"/>
<rect x="493.33" y="59.65" width="2.82" height="9.80" fill="#9fc74e"/>
<rect x="495.65" y="59.65" width="2.82" height="9.80" fill="#44bb92"/>
<rect x="497.96" y="59.65" width="2.82" height="9.80" fill="#35b6a6"/>
<rect x="500.28" y="59.65" width="2.82" height="9.80" fill="#a0c74d"/>
<rect x="502.60" y="59.65" width="2.82" height="9.80" fill="#47bb90"/>
<rect x="504.92" y="59.65" width="2.82" height="9.80" fill="#2d98d5"/>
<rect x="507.24" y="59.65" width="2.82" height="9.80" fill="#91c657"/>
<rect x="509.55" y="59.65" width="2.82" height="9.80" fill="#73c16f"/>
<rect x="511.87" y="59.65" width="2.82" height="9.80" fill="#30b3b0"/>
<rect x="514.19" y="59.65" width="2.82" height="9.80" fill="#56be84"/>
<rect x="516.51" y="59.65" width="2.82" height="9.80" fill="#75c26d"/>
<rect x="518.82" y="59.65" width="2.82" height="9.80" fill="#77c26b"/>
<rect x="521.14" y="59.65" width="2.82" height="9.80" fill="#59be82"/>
<rect x="523.46" y="59.65" width="2.82" height="9.80" fill="#3bba99"/>
<rect x="525.78" y="59.65" width="2.82" height="9.80" fill="#32b4ad"/>
<rect x="528.09" y="59.65" width="2.82" height="9.80" fill="#28aec0"/>
<rect x="530.41" y="59.65" width="2.82" height="9.80" fill="#3cba98"/>
<rect x="532.73" y="59.65" width="2.82" height="9.80" fill="#68c077"/>
<rect x="535.05" y="59.65" width="2.82" height="9.80" fill="#22aacc"/>
<rect x="537.36" y="59.65" width="2.82" height="9.80" fill="#89c55e"/>
<rect x="539.68" y="59.65" width="2.82" height="9.80" fill="#6ac075"/>
<rect x="542.00" y="59.65" width="2.82" height="9.80" fill="#23abca"/>
<rect x="544.32" y="59.65" width="2.82" height="9.80" fill="#24a2d4"/>
<rect x="546.64" y="59.65" width="2.82" height="9.80" fill="#6dc173"/>
<rect x="548.95" y="59.65" width="2.82" height="9.80" fill="#8cc55c"/>
<rect x="551.27" y="59.65" width="2.82" height="9.80" fill="#38b8a0"/>
<rect x="553.59" y="59.65" width="2.82" height="9.80" fill="#2f96d5"/>
<rect x="555.91" y="59.65" width="2.82" height="9.80" fill="#50bd89"/>
<rect x="558.22" y="59.65" width="2.82" height="9.80" fill="#6fc171"/>
<rect x="560.54" y="59.65" width="2.82" height="9.80" fill="#5dbf7f"/>
<rect x="562.86" y="59.65" width="2.82" height="9.80" fill="#1fa8d3"/>
<rect x="565.18" y="59.65" width="2.82" height="9.80" fill="#7ec366"/>
<rect x="567.49" y="59.65" width="2.82" height="9.80" fill="#60bf7d"/>
<rect x="569.81" y="59.65" width="2.82" height="9.80" fill="#7fc366"/>
<rect x="572.13" y="59.65" width="2.82" height="9.80" fill="#34b5a9"/>
<rect x="574.45" y="59.65" width="2.82" height="9.80" fill="#62bf7b"/>
<rect x="576.76" y="59.65" width="2.82" height="9.80" fill="#43bb93"/>
<rect x="579.08" y="59.65" width="2.32" height="9.80" fill="#b2c644"/>
<rect x="384.40" y="68.95" width="2.82" height="9.80" fill="#d4c532"/>
<rect x="386.72" y="68.95" width="2.82" height="9.80" fill="#d4c532"/>
<rect x="389.04" y="68.95" width="2.82" height="9.80" fill="#d4c532"/>
<rect x="391.35" y="68.95" width="2.82" height="9.80" fill="#d4c532"/>
<rect x="393.67" y="68.95" width="2.82" height="9.80" fill="#d4c532"/>
<rect x="395.99" y="68.95" width="2.82" height="9.80" fill="#f7ba36"/>
<rect x="398.31" y="68.95" width="2.82" height="9.80" fill="#f7ba36"/>
<rect x="400.62" y="68.95" width="2.82" height="9.80" fill="#f7ba36"/>
<rect x="402.94" y="68.95" width="2.82" height="9.80" fill="#f7ba36"/>
<rect x="405.26" y="68.95" width="2.82" height="9.80" fill="#d4c532"/>
<rect x="407.58" y="68.95" width="2.82" height="9.80" fill="#d4c532"/>
<rect x="409.89" y="68.95" width="2.82" height="9.80" fill="#d4c532"/>
<rect x="412.21" y="68.95" width="2.82" height="9.80" fill="#d4c532"/>
<rect x="414.53" y="68.95" width="2.82" height="9.80" fill="#f7ba36"/>
<rect x="416.85" y="68.95" width="2.82" height="9.80" fill="#f7ba36"/>
<rect x="419.16" y="68.95" width="2.82" height="9.80" fill="#d4c532"/>
<rect x="421.48" y="68.95" width="2.82" height="9.80" fill="#94c655"/>
<rect x="423.80" y="68.95" width="2.82" height="9.80" fill="#75c26d"/>
<rect x="426.12" y="68.95" width="2.82" height="9.80" fill="#abc648"/>
<rect x="428.44" y="68.95" width="2.82" height="9.80" fill="#96c654"/>
<rect x="430.75" y="68.95" width="2.82" height="9.80" fill="#3bba9a"/>
<rect x="433.07" y="68.95" width="2.82" height="9.80" fill="#acc647"/>
<rect x="435.39" y="68.95" width="2.82" height="9.80" fill="#99c752"/>
<rect x="437.71" y="68.95" width="2.82" height="9.80" fill="#7ac269"/>
<rect x="440.02" y="68.95" width="2.82" height="9.80" fill="#d4c532"/>
<rect x="442.34" y="68.95" width="2.82" height="9.80" fill="#d4c532"/>
<rect x="444.66" y="68.95" width="2.82" height="9.80" fill="#f7ba36"/>
<rect x="446.98" y="68.95" width="2.82" height="9.80" fill="#f7ba36"/>
<rect x="449.29" y="68.95" width="2.82" height="9.80" fill="#f7ba36"/>
<rect x="451.61" y="68.95" width="2.82" height="9.80" fill="#d4c532"/>
<rect x="453.93" y="68.95" width="2.82" height="9.80" fill="#f7ba36"/>
<rect x="456.25" y="68.95" width="2.82" height="9.80" fill="#f7ba36"/>
<rect x="458.56" y="68.95" width="2.82" height="9.80" fill="#f7ba36"/>
<rect x="460.88" y="68.95" width="2.82" height="9.80" fill="#f7ba36"/>
<rect x="463.20" y="68.95" width="2.82" height="9.80" fill="#f7ba36"/>
<rect x="465.52" y="68.95" width="2.82" height="9.80" fill="#f7ba36"/>
<rect x="467.84" y="68.95" width="2.82" height="9.80" fill="#f7ba36"/>
<rect x="470.15" y="68.95" width="2.82" height="9.80" fill="#f7ba36"/>
<rect x="472.47" y="68.95" width="2.82" height="9.80" fill="#f7ba36"/>
<rect x="474.79" y="68.95" width="2.82" height="9.80" fill="#f7ba36"/>
<rect x="477.11" y="68.95" width="2.82" height="9.80" fill="#f7ba36"/>
<rect x="479.42" y="68.95" width="2.82" height="9.80" fill="#f7ba36"/>
<rect x="481.74" y="68.95" width="2.82" height="9.80" fill="#f7ba36"/>
<rect x="484.06" y="68.95" width="2.82" height="9.80" fill="#f7ba36"/>
<rect x="486.38" y="68.95" width="2.82" height="9.80" fill="#f7ba36"/>
<rect x="488.69" y="68.95" width="2.82" height="9.80" fill="#f7ba36"/>
<rect x="491.01" y="68.95" width="2.82" height="9.80" fill="#f7ba36"/>
<rect x="493.33" y="68.95" width="2.82" height="9.80" fill="#f7ba36"/>
<rect x="495.65" y="68.95" width="2.82" height="9.80" fill="#f7ba36"/>
<rect x="497.96" y="68.95" width="2.82" height="9.80" fill="#f7ba36"/>
<rect x="500.28" y="68.95" width="2.82" height="9.80" fill="#f7ba36"/>
<rect x="502.60" y="68.95" width="2.82" height="9.80" fill="#f7ba36"/>
<rect x="504.92" y="68.95" width="2.82" height="9.80" fill="#f7ba36"/>
<rect x="507.24" y="68.95" width="2.82" height="9.80" fill="#f7ba36"/>
<rect x="509.55" y="68.95" width="2.82" height="9.80" fill="#f7ba36"/>
<rect x="511.87" y="68.95" width="2.82" height="9.80" fill="#f7ba36"/>
<rect x="514.19" y="68.95" width="2.82" height="9.80" fill="#f7ba36"/>
<rect x="516.51" y="68.95" width="2.82" height="9.80" fill="#f7ba36"/>
<rect x="518.82" y="68.95" width="2.82" height="9.80" fill="#f7ba36"/>
<rect x="521.14" y="68.95" width="2.82" height="9.80" fill="#f7ba36"/>
<rect x="523.46" y="68.95" width="2.82" height="9.80" fill="#f7ba36"/>
<rect x="525.78" y="68.95" width="2.82" height="9.80" fill="#f7ba36"/>
<rect x="528.09" y="68.95" width="2.82" height="9.80" fill="#f7ba36"/>
<rect x="530.41" y="68.95" width="2.82" height="9.80" fill="#d4c532"/>
<rect x="532.73" y="68.95" width="2.82" height="9.80" fill="#d4c532"/>
<rect x="535.05" y="68.95" width="2.82" height="9.80" fill="#d4c532"/>
<rect x="537.36" y="68.95" width="2.82" height="9.80" fill="#8ac55d"/>
<rect x="539.68" y="68.95" width="2.82" height="9.80" fill="#b7c641"/>
<rect x="542.00" y="68.95" width="2.82" height="9.80" fill="#d4c532"/>
<rect x="544.32" y="68.95" width="2.82" height="9.80" fill="#f7ba36"/>
<rect x="546.64" y="68.95" width="2.82" height="9.80" fill="#f7ba36"/>
<rect x="548.95" y="68.95" width="2.82" height="9.80" fill="#f7ba36"/>
<rect x="551.27" y="68.95" width="2.82" height="9.80" fill="#f7ba36"/>
<rect x="553.59" y="68.95" width="2.82" height="9.80" fill="#f7ba36"/>
<rect x="555.91" y="68.95" width="2.82" height="9.80" fill="#f7ba36"/>
<rect x="558.22" y="68.95" width="2.82" height="9.80" fill="#f7ba36"/>
<rect x="560.54" y="68.95" width="2.82" height="9.80" fill="#f7ba36"/>
<rect x="562.86" y="68.95" width="2.82" height="9.80" fill="#f7ba36"/>
<rect x="565.18" y="68.95" width="2.82" height="9.80" fill="#f7ba36"/>
<rect x="567.49" y="68.95" width="2.82" height="9.80" fill="#f7ba36"/>
<rect x="569.81" y="68.95" width="2.82" height="9.80" fill="#f7ba36"/>
<rect x="572.13" y="68.95" width="2.82" height="9.80" fill="#f7ba36"/>
<rect x="574.45" y="68.95" width="2.82" height="9.80" fill="#f7ba36"/>
<rect x="576.76" y="68.95" width="2.82" height="9.80" fill="#f7ba36"/>
<rect x="579.08" y="68.95" width="2.32" height="9.80" fill="#f7ba36"/>
<rect x="384.40" y="78.25" width="2.82" height="9.80" fill="#d4c532"/>
<rect x="386.72" y="78.25" width="2.82" height="9.80" fill="#d4c532"/>
<rect x="389.04" y="78.25" width="2.82" height="9.80" fill="#d4c532"/>
<rect x="391.35" y="78.25" width="2.82" height="9.80" fill="#d4c532"/>
<rect x="393.67" y="78.25" width="2.82" height="9.80" fill="#d4c532"/>
<rect x="395.99" y="78.25" width="2.82" height="9.80" fill="#d4c532"/>
<rect x="398.31" y="78.25" width="2.82" height="9.80" fill="#d4c532"/>
<rect x="400.62" y="78.25" width="2.82" height="9.80" fill="#d4c532"/>
<rect x="402.94" y="78.25" width="2.82" height="9.80" fill="#d4c532"/>
<rect x="405.26" y="78.25" width="2.82" height="9.80" fill="#86c460"/>
<rect x="407.58" y="78.25" width="2.82" height="9.80" fill="#a8c749"/>
<rect x="409.89" y="78.25" width="2.82" height="9.80" fill="#d4c532"/>
<rect x="412.21" y="78.25" width="2.82" height="9.80" fill="#d4c532"/>
<rect x="414.53" y="78.25" width="2.82" height="9.80" fill="#aac648"/>
<rect x="416.85" y="78.25" width="2.82" height="9.80" fill="#95c655"/>
<rect x="419.16" y="78.25" width="2.82" height="9.80" fill="#76c26c"/>
<rect x="421.48" y="78.25" width="2.82" height="9.80" fill="#abc647"/>
<rect x="423.80" y="78.25" width="2.82" height="9.80" fill="#5abe82"/>
<rect x="426.12" y="78.25" width="2.82" height="9.80" fill="#78c26a"/>
<rect x="428.44" y="78.25" width="2.82" height="9.80" fill="#adc647"/>
<rect x="430.75" y="78.25" width="2.82" height="9.80" fill="#5cbe80"/>
<rect x="433.07" y="78.25" width="2.82" height="9.80" fill="#3dba97"/>
<rect x="435.39" y="78.25" width="2.82" height="9.80" fill="#a2c74c"/>
<rect x="437.71" y="78.25" width="2.82" height="9.80" fill="#88c45f"/>
<rect x="440.02" y="78.25" width="2.82" height="9.80" fill="#d4c532"/>
<rect x="442.34" y="78.25" width="2.82" height="9.80" fill="#d4c532"/>
<rect x="444.66" y="78.25" width="2.82" height="9.80" fill="#f7ba36"/>
<rect x="446.98" y="78.25" width="2.82" height="9.80" fill="#d4c532"/>
<rect x="449.29" y="78.25" width="2.82" height="9.80" fill="#f7ba36"/>
<rect x="451.61" y="78.25" width="2.82" height="9.80" fill="#f7ba36"/>
<rect x="453.93" y="78.25" width="2.82" height="9.80" fill="#f7ba36"/>
<rect x="456.25" y="78.25" width="2.82" height="9.80" fill="#d4c532"/>
<rect x="458.56" y="78.25" width="2.82" height="9.80" fill="#d4c532"/>
<rect x="460.88" y="78.25" width="2.82" height="9.80" fill="#f7ba36"/>
<rect x="463.20" y="78.25" width="2.82" height="9.80" fill="#f7ba36"/>
<rect x="465.52" y="78.25" width="2.82" height="9.80" fill="#f7ba36"/>
<rect x="467.84" y="78.25" width="2.82" height="9.80" fill="#d4c532"/>
<rect x="470.15" y="78.25" width="2.82" height="9.80" fill="#d4c532"/>
<rect x="472.47" y="78.25" width="2.82" height="9.80" fill="#f7ba36"/>
<rect x="474.79" y="78.25" width="2.82" height="9.80" fill="#f7ba36"/>
<rect x="477.11" y="78.25" width="2.82" height="9.80" fill="#d4c532"/>
<rect x="479.42" y="78.25" width="2.82" height="9.80" fill="#d4c532"/>
<rect x="481.74" y="78.25" width="2.82" height="9.80" fill="#f7ba36"/>
<rect x="484.06" y="78.25" width="2.82" height="9.80" fill="#f7ba36"/>
<rect x="486.38" y="78.25" width="2.82" height="9.80" fill="#f7ba36"/>
<rect x="488.69" y="78.25" width="2.82" height="9.80" fill="#f7ba36"/>
<rect x="491.01" y="78.25" width="2.82" height="9.80" fill="#f7ba36"/>
<rect x="493.33" y="78.25" width="2.82" height="9.80" fill="#f7ba36"/>
<rect x="495.65" y="78.25" width="2.82" height="9.80" fill="#f7ba36"/>
<rect x="497.96" y="78.25" width="2.82" height="9.80" fill="#f7ba36"/>
<rect x="500.28" y="78.25" width="2.82" height="9.80" fill="#f7ba36"/>
<rect x="502.60" y="78.25" width="2.82" height="9.80" fill="#f7ba36"/>
<rect x="504.92" y="78.25" width="2.82" height="9.80" fill="#f7ba36"/>
<rect x="507.24" y="78.25" width="2.82" height="9.80" fill="#f7ba36"/>
<rect x="509.55" y="78.25" width="2.82" height="9.80" fill="#f7ba36"/>
<rect x="511.87" y="78.25" width="2.82" height="9.80" fill="#f7ba36"/>
<rect x="514.19" y="78.25" width="2.82" height="9.80" fill="#d4c532"/>
<rect x="516.51" y="78.25" width="2.82" height="9.80" fill="#d4c532"/>
<rect x="518.82" y="78.25" width="2.82" height="9.80" fill="#d4c532"/>
<rect x="521.14" y="78.25" width="2.82" height="9.80" fill="#d4c532"/>
<rect x="523.46" y="78.25" width="2.82" height="9.80" fill="#d4c532"/>
<rect x="525.78" y="78.25" width="2.82" height="9.80" fill="#d4c532"/>
<rect x="528.09" y="78.25" width="2.82" height="9.80" fill="#d4c532"/>
<rect x="530.41" y="78.25" width="2.82" height="9.80" fill="#d4c532"/>
<rect x="532.73" y="78.25" width="2.82" height="9.80" fill="#8bc55c"/>
<rect x="535.05" y="78.25" width="2.82" height="9.80" fill="#6dc173"/>
<rect x="537.36" y="78.25" width="2.82" height="9.80" fill="#6fc171"/>
<rect x="539.68" y="78.25" width="2.82" height="9.80" fill="#8ec55a"/>
<rect x="542.00" y="78.25" width="2.82" height="9.80" fill="#d4c532"/>
<rect x="544.32" y="78.25" width="2.82" height="9.80" fill="#f7ba36"/>
<rect x="546.64" y="78.25" width="2.82" height="9.80" fill="#f7ba36"/>
<rect x="548.95" y="78.25" width="2.82" height="9.80" fill="#f7ba36"/>
<rect x="551.27" y="78.25" width="2.82" height="9.80" fill="#f7ba36"/>
<rect x="553.59" y="78.25" width="2.82" height="9.80" fill="#f7ba36"/>
<rect x="555.91" y="78.25" width="2.82" height="9.80" fill="#f7ba36"/>
<rect x="558.22" y="78.25" width="2.82" height="9.80" fill="#f7ba36"/>
<rect x="560.54" y="78.25" width="2.82" height="9.80" fill="#f7ba36"/>
<rect x="562.86" y="78.25" width="2.82" height="9.80" fill="#f7ba36"/>
<rect x="565.18" y="78.25" width="2.82" height="9.80" fill="#f7ba36"/>
<rect x="567.49" y="78.25" width="2.82" height="9.80" fill="#f7ba36"/>
<rect x="569.81" y="78.25" width="2.82" height="9.80" fill="#f7ba36"/>
<rect x="572.13" y="78.25" width="2.82" height="9.80" fill="#f7ba36"/>
<rect x="574.45" y="78.25" width="2.82" height="9.80" fill="#f7ba36"/>
<rect x="576.76" y="78.25" width="2.82" height="9.80" fill="#f7ba36"/>
<rect x="579.08" y="78.25" width="2.32" height="9.80" fill="#f7ba36"/>
<rect x="384.40" y="87.55" width="2.82" height="9.80" fill="#3392d5"/>
<rect x="386.72" y="87.55" width="2.82" height="9.80" fill="#21aacf"/>
<rect x="389.04" y="87.55" width="2.82" height="9.80" fill="#35b6a6"/>
<rect x="391.35" y="87.55" width="2.82" height="9.80" fill="#2bb0ba"/>
<rect x="393.67" y="87.55" width="2.82" height="9.80" fill="#21aacd"/>
<rect x="395.99" y="87.55" width="2.82" height="9.80" fill="#36b6a5"/>
<rect x="398.31" y="87.55" width="2.82" height="9.80" fill="#68c077"/>
<rect x="400.62" y="87.55" width="2.82" height="9.80" fill="#21a5d4"/>
<rect x="402.94" y="87.55" width="2.82" height="9.80" fill="#30b3b0"/>
<rect x="405.26" y="87.55" width="2.82" height="9.80" fill="#26adc4"/>
<rect x="407.58" y="87.55" width="2.82" height="9.80" fill="#20a6d4"/>
<rect x="409.89" y="87.55" width="2.82" height="9.80" fill="#77c26b"/>
<rect x="412.21" y="87.55" width="2.82" height="9.80" fill="#58be83"/>
<rect x="414.53" y="87.55" width="2.82" height="9.80" fill="#1fa7d4"/>
<rect x="416.85" y="87.55" width="2.82" height="9.80" fill="#31b4ad"/>
<rect x="419.16" y="87.55" width="2.82" height="9.80" fill="#5bbe81"/>
<rect x="421.48" y="87.55" width="2.82" height="9.80" fill="#3cba98"/>
<rect x="423.80" y="87.55" width="2.82" height="9.80" fill="#7cc368"/>
<rect x="426.12" y="87.55" width="2.82" height="9.80" fill="#28aebf"/>
<rect x="428.44" y="87.55" width="2.82" height="9.80" fill="#36b7a4"/>
<rect x="430.75" y="87.55" width="2.82" height="9.80" fill="#6ac075"/>
<rect x="433.07" y="87.55" width="2.82" height="9.80" fill="#4bbc8d"/>
<rect x="435.39" y="87.55" width="2.82" height="9.80" fill="#37b7a2"/>
<rect x="437.71" y="87.55" width="2.82" height="9.80" fill="#6cc173"/>
<rect x="440.02" y="87.55" width="2.82" height="9.80" fill="#24abc9"/>
<rect x="442.34" y="87.55" width="2.82" height="9.80" fill="#23a3d4"/>
<rect x="444.66" y="87.55" width="2.82" height="9.80" fill="#6fc171"/>
<rect x="446.98" y="87.55" width="2.82" height="9.80" fill="#50bd89"/>
<rect x="449.29" y="87.55" width="2.82" height="9.80" fill="#22a4d4"/>
<rect x="451.61" y="87.55" width="2.82" height="9.80" fill="#71c170"/>
<rect x="453.93" y="87.55" width="2.82" height="9.80" fill="#52bd87"/>
<rect x="456.25" y="87.55" width="2.82" height="9.80" fill="#39b89d"/>
<rect x="458.56" y="87.55" width="2.82" height="9.80" fill="#29afbe"/>
<rect x="460.88" y="87.55" width="2.82" height="9.80" fill="#1fa9d1"/>
<rect x="463.20" y="87.55" width="2.82" height="9.80" fill="#80c364"/>
<rect x="465.52" y="87.55" width="2.82" height="9.80" fill="#2aafbc"/>
<rect x="467.84" y="87.55" width="2.82" height="9.80" fill="#20a9d0"/>
<rect x="470.15" y="87.55" width="2.82" height="9.80" fill="#34b5a7"/>
<rect x="472.47" y="87.55" width="2.82" height="9.80" fill="#64bf7a"/>
<rect x="474.79" y="87.55" width="2.82" height="9.80" fill="#21aace"/>
<rect x="477.11" y="87.55" width="2.82" height="9.80" fill="#35b6a6"/>
<rect x="479.42" y="87.55" width="2.82" height="9.80" fill="#2bb0b9"/>
<rect x="481.74" y="87.55" width="2.82" height="9.80" fill="#22aacd"/>
<rect x="484.06" y="87.55" width="2.82" height="9.80" fill="#88c45e"/>
<rect x="486.38" y="87.55" width="2.82" height="9.80" fill="#26adc5"/>
<rect x="488.69" y="87.55" width="2.82" height="9.80" fill="#3ab99c"/>
<rect x="491.01" y="87.55" width="2.82" height="9.80" fill="#30b3af"/>
<rect x="493.33" y="87.55" width="2.82" height="9.80" fill="#27adc3"/>
<rect x="495.65" y="87.55" width="2.82" height="9.80" fill="#4380d5"/>
<rect x="497.96" y="87.55" width="2.82" height="9.80" fill="#31b3ae"/>
<rect x="500.28" y="87.55" width="2.82" height="9.80" fill="#59be82"/>
<rect x="502.60" y="87.55" width="2.82" height="9.80" fill="#1fa7d4"/>
<rect x="504.92" y="87.55" width="2.82" height="9.80" fill="#7bc368"/>
<rect x="507.24" y="87.55" width="2.82" height="9.80" fill="#5cbe80"/>
<rect x="509.55" y="87.55" width="2.82" height="9.80" fill="#1ea8d3"/>
<rect x="511.87" y="87.55" width="2.82" height="9.80" fill="#33b4ab"/>
<rect x="514.19" y="87.55" width="2.82" height="9.80" fill="#4abc8d"/>
<rect x="516.51" y="87.55" width="2.82" height="9.80" fill="#8ac55d"/>
<rect x="518.82" y="87.55" width="2.82" height="9.80" fill="#2db1b6"/>
<rect x="521.14" y="87.55" width="2.82" height="9.80" fill="#23abca"/>
<rect x="523.46" y="87.55" width="2.82" height="9.80" fill="#24a2d4"/>
<rect x="525.78" y="87.55" width="2.82" height="9.80" fill="#6ec172"/>
<rect x="528.09" y="87.55" width="2.82" height="9.80" fill="#3b89d6"/>
<rect x="530.41" y="87.55" width="2.82" height="9.80" fill="#23a3d4"/>
<rect x="532.73" y="87.55" width="2.82" height="9.80" fill="#70c171"/>
<rect x="535.05" y="87.55" width="2.82" height="9.80" fill="#25acc7"/>
<rect x="537.36" y="87.55" width="2.82" height="9.80" fill="#39b89e"/>
<rect x="539.68" y="87.55" width="2.82" height="9.80" fill="#2d98d5"/>
<rect x="542.00" y="87.55" width="2.82" height="9.80" fill="#25acc5"/>
<rect x="544.32" y="87.55" width="2.82" height="9.80" fill="#33b5aa"/>
<rect x="546.64" y="87.55" width="2.82" height="9.80" fill="#60bf7c"/>
<rect x="548.95" y="87.55" width="2.82" height="9.80" fill="#20a9d0"/>
<rect x="551.27" y="87.55" width="2.82" height="9.80" fill="#82c463"/>
<rect x="553.59" y="87.55" width="2.82" height="9.80" fill="#2aafbb"/>
<rect x="555.91" y="87.55" width="2.82" height="9.80" fill="#21aacf"/>
<rect x="558.22" y="87.55" width="2.82" height="9.80" fill="#84c461"/>
<rect x="560.54" y="87.55" width="2.82" height="9.80" fill="#2bb0ba"/>
<rect x="562.86" y="87.55" width="2.82" height="9.80" fill="#585cc0"/>
<rect x="565.18" y="87.55" width="2.82" height="9.80" fill="#87c45f"/>
<rect x="567.49" y="87.55" width="2.82" height="9.80" fill="#2cb0b8"/>
<rect x="569.81" y="87.55" width="2.82" height="9.80" fill="#22aacc"/>
<rect x="572.13" y="87.55" width="2.82" height="9.80" fill="#75c26d"/>
<rect x="574.45" y="87.55" width="2.82" height="9.80" fill="#26adc4"/>
<rect x="576.76" y="87.55" width="2.82" height="9.80" fill="#20a6d4"/>
<rect x="579.08" y="87.55" width="2.32" height="9.80" fill="#31b3af"/>
<rect x="384.40" y="96.85" width="2.82" height="9.80" fill="#35b6a6"/>
<rect x="386.72" y="96.85" width="2.82" height="9.80" fill="#3293d5"/>
<rect x="389.04" y="96.85" width="2.82" height="9.80" fill="#3e87d6"/>
<rect x="391.35" y="96.85" width="2.82" height="9.80" fill="#36b6a4"/>
<rect x="393.67" y="96.85" width="2.82" height="9.80" fill="#2cb1b8"/>
<rect x="395.99" y="96.85" width="2.82" height="9.80" fill="#20a5d4"/>
<rect x="398.31" y="96.85" width="2.82" height="9.80" fill="#2c99d5"/>
<rect x="400.62" y="96.85" width="2.82" height="9.80" fill="#26adc3"/>
<rect x="402.94" y="96.85" width="2.82" height="9.80" fill="#20a6d4"/>
<rect x="405.26" y="96.85" width="2.82" height="9.80" fill="#31b3ae"/>
<rect x="407.58" y="96.85" width="2.82" height="9.80" fill="#27aec1"/>
<rect x="409.89" y="96.85" width="2.82" height="9.80" fill="#1fa7d4"/>
<rect x="412.21" y="96.85" width="2.82" height="9.80" fill="#2a9bd5"/>
<rect x="414.53" y="96.85" width="2.82" height="9.80" fill="#28aec0"/>
<rect x="416.85" y="96.85" width="2.82" height="9.80" fill="#1ea8d3"/>
<rect x="419.16" y="96.85" width="2.82" height="9.80" fill="#33b4ab"/>
<rect x="421.48" y="96.85" width="2.82" height="9.80" fill="#29aebe"/>
<rect x="423.80" y="96.85" width="2.82" height="9.80" fill="#37b7a3"/>
<rect x="426.12" y="96.85" width="2.82" height="9.80" fill="#585cc0"/>
<rect x="428.44" y="96.85" width="2.82" height="9.80" fill="#23abca"/>
<rect x="430.75" y="96.85" width="2.82" height="9.80" fill="#8cc55b"/>
<rect x="433.07" y="96.85" width="2.82" height="9.80" fill="#6dc172"/>
<rect x="435.39" y="96.85" width="2.82" height="9.80" fill="#24acc8"/>
<rect x="437.71" y="96.85" width="2.82" height="9.80" fill="#38b8a0"/>
<rect x="440.02" y="96.85" width="2.82" height="9.80" fill="#2eb2b3"/>
<rect x="442.34" y="96.85" width="2.82" height="9.80" fill="#25acc7"/>
<rect x="444.66" y="96.85" width="2.82" height="9.80" fill="#22a4d4"/>
<rect x="446.98" y="96.85" width="2.82" height="9.80" fill="#2fb2b2"/>
<rect x="449.29" y="96.85" width="2.82" height="9.80" fill="#25acc5"/>
<rect x="451.61" y="96.85" width="2.82" height="9.80" fill="#7fc365"/>
<rect x="453.93" y="96.85" width="2.82" height="9.80" fill="#60bf7c"/>
<rect x="456.25" y="96.85" width="2.82" height="9.80" fill="#20a9d1"/>
<rect x="458.56" y="96.85" width="2.82" height="9.80" fill="#34b5a8"/>
<rect x="460.88" y="96.85" width="2.82" height="9.80" fill="#2aafbc"/>
<rect x="463.20" y="96.85" width="2.82" height="9.80" fill="#21aacf"/>
<rect x="465.52" y="96.85" width="2.82" height="9.80" fill="#35b6a6"/>
<rect x="467.84" y="96.85" width="2.82" height="9.80" fill="#2bb0ba"/>
<rect x="470.15" y="96.85" width="2.82" height="9.80" fill="#21aacd"/>
<rect x="472.47" y="96.85" width="2.82" height="9.80" fill="#36b6a5"/>
<rect x="474.79" y="96.85" width="2.82" height="9.80" fill="#2cb0b8"/>
<rect x="477.11" y="96.85" width="2.82" height="9.80" fill="#22aacc"/>
<rect x="479.42" y="96.85" width="2.82" height="9.80" fill="#30b3b0"/>
<rect x="481.74" y="96.85" width="2.82" height="9.80" fill="#26adc4"/>
<rect x="484.06" y="96.85" width="2.82" height="9.80" fill="#20a6d4"/>
<rect x="486.38" y="96.85" width="2.82" height="9.80" fill="#31b3af"/>
<rect x="488.69" y="96.85" width="2.82" height="9.80" fill="#58be83"/>
<rect x="491.01" y="96.85" width="2.82" height="9.80" fill="#3bb99a"/>
<rect x="493.33" y="96.85" width="2.82" height="9.80" fill="#2b9bd5"/>
<rect x="495.65" y="96.85" width="2.82" height="9.80" fill="#28aec1"/>
<rect x="497.96" y="96.85" width="2.82" height="9.80" fill="#3cba98"/>
<rect x="500.28" y="96.85" width="2.82" height="9.80" fill="#32b4ac"/>
<rect x="502.60" y="96.85" width="2.82" height="9.80" fill="#28aebf"/>
<rect x="504.92" y="96.85" width="2.82" height="9.80" fill="#3eba96"/>
<rect x="507.24" y="96.85" width="2.82" height="9.80" fill="#585cc0"/>
<rect x="509.55" y="96.85" width="2.82" height="9.80" fill="#23abcb"/>
<rect x="511.87" y="96.85" width="2.82" height="9.80" fill="#8bc55c"/>
<rect x="514.19" y="96.85" width="2.82" height="9.80" fill="#2db1b6"/>
<rect x="516.51" y="96.85" width="2.82" height="9.80" fill="#23abc9"/>
<rect x="518.82" y="96.85" width="2.82" height="9.80" fill="#23a3d4"/>
<rect x="521.14" y="96.85" width="2.82" height="9.80" fill="#2eb2b4"/>
<rect x="523.46" y="96.85" width="2.82" height="9.80" fill="#50bd89"/>
<rect x="525.78" y="96.85" width="2.82" height="9.80" fill="#22a4d4"/>
<rect x="528.09" y="96.85" width="2.82" height="9.80" fill="#585cc0"/>
<rect x="530.41" y="96.85" width="2.82" height="9.80" fill="#25acc6"/>
<rect x="532.73" y="96.85" width="2.82" height="9.80" fill="#21a5d4"/>
<rect x="535.05" y="96.85" width="2.82" height="9.80" fill="#74c26e"/>
<rect x="537.36" y="96.85" width="2.82" height="9.80" fill="#40bb95"/>
<rect x="539.68" y="96.85" width="2.82" height="9.80" fill="#34b5a9"/>
<rect x="542.00" y="96.85" width="2.82" height="9.80" fill="#2aafbc"/>
<rect x="544.32" y="96.85" width="2.82" height="9.80" fill="#43bb93"/>
<rect x="546.64" y="96.85" width="2.82" height="9.80" fill="#34b5a7"/>
<rect x="548.95" y="96.85" width="2.82" height="9.80" fill="#2bb0bb"/>
<rect x="551.27" y="96.85" width="2.82" height="9.80" fill="#45bb91"/>
<rect x="553.59" y="96.85" width="2.82" height="9.80" fill="#35b6a6"/>
<rect x="555.91" y="96.85" width="2.82" height="9.80" fill="#3293d5"/>
<rect x="558.22" y="96.85" width="2.82" height="9.80" fill="#22aacd"/>
<rect x="560.54" y="96.85" width="2.82" height="9.80" fill="#36b6a4"/>
<rect x="562.86" y="96.85" width="2.82" height="9.80" fill="#69c076"/>
<rect x="565.18" y="96.85" width="2.82" height="9.80" fill="#20a5d4"/>
<rect x="567.49" y="96.85" width="2.82" height="9.80" fill="#30b3b0"/>
<rect x="569.81" y="96.85" width="2.82" height="9.80" fill="#26adc3"/>
<rect x="572.13" y="96.85" width="2.82" height="9.80" fill="#20a6d4"/>
<rect x="574.45" y="96.85" width="2.82" height="9.80" fill="#31b3ae"/>
<rect x="576.76" y="96.85" width="2.82" height="9.80" fill="#27aec1"/>
<rect x="579.08" y="96.85" width="2.32" height="9.80" fill="#585cc0"/>
<rect x="384.40" y="106.15" width="2.82" height="9.80" fill="#22aacc"/>
<rect x="386.72" y="106.15" width="2.82" height="9.80" fill="#25a1d4"/>
<rect x="389.04" y="106.15" width="2.82" height="9.80" fill="#26adc4"/>
<rect x="391.35" y="106.15" width="2.82" height="9.80" fill="#20a6d4"/>
<rect x="393.67" y="106.15" width="2.82" height="9.80" fill="#31b3af"/>
<rect x="395.99" y="106.15" width="2.82" height="9.80" fill="#27adc2"/>
<rect x="398.31" y="106.15" width="2.82" height="9.80" fill="#4381d5"/>
<rect x="400.62" y="106.15" width="2.82" height="9.80" fill="#31b4ad"/>
<rect x="402.94" y="106.15" width="2.82" height="9.80" fill="#28aec1"/>
<rect x="405.26" y="106.15" width="2.82" height="9.80" fill="#3cba98"/>
<rect x="407.58" y="106.15" width="2.82" height="9.80" fill="#32b4ac"/>
<rect x="409.89" y="106.15" width="2.82" height="9.80" fill="#28aebf"/>
<rect x="412.21" y="106.15" width="2.82" height="9.80" fill="#1fa8d3"/>
<rect x="414.53" y="106.15" width="2.82" height="9.80" fill="#7ec366"/>
<rect x="416.85" y="106.15" width="2.82" height="9.80" fill="#23abcb"/>
<rect x="419.16" y="106.15" width="2.82" height="9.80" fill="#37b7a2"/>
<rect x="421.48" y="106.15" width="2.82" height="9.80" fill="#2db1b6"/>
<rect x="423.80" y="106.15" width="2.82" height="9.80" fill="#3b89d6"/>
<rect x="426.12" y="106.15" width="2.82" height="9.80" fill="#23a3d4"/>
<rect x="428.44" y="106.15" width="2.82" height="9.80" fill="#2eb2b4"/>
<rect x="430.75" y="106.15" width="2.82" height="9.80" fill="#50bd89"/>
<rect x="433.07" y="106.15" width="2.82" height="9.80" fill="#22a4d4"/>
<rect x="435.39" y="106.15" width="2.82" height="9.80" fill="#2fb2b3"/>
<rect x="437.71" y="106.15" width="2.82" height="9.80" fill="#52bd87"/>
<rect x="440.02" y="106.15" width="2.82" height="9.80" fill="#21a5d4"/>
<rect x="442.34" y="106.15" width="2.82" height="9.80" fill="#30b3b1"/>
<rect x="444.66" y="106.15" width="2.82" height="9.80" fill="#398cd5"/>
<rect x="446.98" y="106.15" width="2.82" height="9.80" fill="#34b5a9"/>
<rect x="449.29" y="106.15" width="2.82" height="9.80" fill="#2aafbc"/>
<rect x="451.61" y="106.15" width="2.82" height="9.80" fill="#43bb93"/>
<rect x="453.93" y="106.15" width="2.82" height="9.80" fill="#83c462"/>
<rect x="456.25" y="106.15" width="2.82" height="9.80" fill="#3392d5"/>
<rect x="458.56" y="106.15" width="2.82" height="9.80" fill="#21aace"/>
<rect x="460.88" y="106.15" width="2.82" height="9.80" fill="#35b6a6"/>
<rect x="463.20" y="106.15" width="2.82" height="9.80" fill="#2bb0b9"/>
<rect x="465.52" y="106.15" width="2.82" height="9.80" fill="#22aacd"/>
<rect x="467.84" y="106.15" width="2.82" height="9.80" fill="#36b6a4"/>
<rect x="470.15" y="106.15" width="2.82" height="9.80" fill="#2cb0b8"/>
<rect x="472.47" y="106.15" width="2.82" height="9.80" fill="#22abcb"/>
<rect x="474.79" y="106.15" width="2.82" height="9.80" fill="#2c99d5"/>
<rect x="477.11" y="106.15" width="2.82" height="9.80" fill="#26adc3"/>
<rect x="479.42" y="106.15" width="2.82" height="9.80" fill="#3bb99b"/>
<rect x="481.74" y="106.15" width="2.82" height="9.80" fill="#31b3ae"/>
<rect x="484.06" y="106.15" width="2.82" height="9.80" fill="#585cc0"/>
<rect x="486.38" y="106.15" width="2.82" height="9.80" fill="#1fa7d4"/>
<rect x="488.69" y="106.15" width="2.82" height="9.80" fill="#32b4ad"/>
<rect x="491.01" y="106.15" width="2.82" height="9.80" fill="#28aec0"/>
<rect x="493.33" y="106.15" width="2.82" height="9.80" fill="#1ea8d4"/>
<rect x="495.65" y="106.15" width="2.82" height="9.80" fill="#299cd5"/>
<rect x="497.96" y="106.15" width="2.82" height="9.80" fill="#29aebe"/>
<rect x="500.28" y="106.15" width="2.82" height="9.80" fill="#1fa9d2"/>
<rect x="502.60" y="106.15" width="2.82" height="9.80" fill="#2db1b6"/>
<rect x="504.92" y="106.15" width="2.82" height="9.80" fill="#23abca"/>
<rect x="507.24" y="106.15" width="2.82" height="9.80" fill="#8cc55b"/>
<rect x="509.55" y="106.15" width="2.82" height="9.80" fill="#2eb1b5"/>
<rect x="511.87" y="106.15" width="2.82" height="9.80" fill="#24acc8"/>
<rect x="514.19" y="106.15" width="2.82" height="9.80" fill="#38b8a0"/>
<rect x="516.51" y="106.15" width="2.82" height="9.80" fill="#70c171"/>
<rect x="518.82" y="106.15" width="2.82" height="9.80" fill="#25acc7"/>
<rect x="521.14" y="106.15" width="2.82" height="9.80" fill="#22a4d4"/>
<rect x="523.46" y="106.15" width="2.82" height="9.80" fill="#2fb2b2"/>
<rect x="525.78" y="106.15" width="2.82" height="9.80" fill="#25acc5"/>
<rect x="528.09" y="106.15" width="2.82" height="9.80" fill="#3ab99d"/>
<rect x="530.41" y="106.15" width="2.82" height="9.80" fill="#60bf7d"/>
<rect x="532.73" y="106.15" width="2.82" height="9.80" fill="#7fc365"/>
<rect x="535.05" y="106.15" width="2.82" height="9.80" fill="#b1c645"/>
<rect x="537.36" y="106.15" width="2.82" height="9.80" fill="#63bf7b"/>
<rect x="539.68" y="106.15" width="2.82" height="9.80" fill="#20a9cf"/>
<rect x="542.00" y="106.15" width="2.82" height="9.80" fill="#35b6a7"/>
<rect x="544.32" y="106.15" width="2.82" height="9.80" fill="#2bb0ba"/>
<rect x="546.64" y="106.15" width="2.82" height="9.80" fill="#21aace"/>
<rect x="548.95" y="106.15" width="2.82" height="9.80" fill="#86c460"/>
<rect x="551.27" y="106.15" width="2.82" height="9.80" fill="#2cb0b8"/>
<rect x="553.59" y="106.15" width="2.82" height="9.80" fill="#22aacc"/>
<rect x="555.91" y="106.15" width="2.82" height="9.80" fill="#36b7a3"/>
<rect x="558.22" y="106.15" width="2.82" height="9.80" fill="#6ac075"/>
<rect x="560.54" y="106.15" width="2.82" height="9.80" fill="#3ab99b"/>
<rect x="562.86" y="106.15" width="2.82" height="9.80" fill="#77c26b"/>
<rect x="565.18" y="106.15" width="2.82" height="9.80" fill="#27adc2"/>
<rect x="567.49" y="106.15" width="2.82" height="9.80" fill="#585cc0"/>
<rect x="569.81" y="106.15" width="2.82" height="9.80" fill="#31b4ad"/>
<rect x="572.13" y="106.15" width="2.82" height="9.80" fill="#28aec1"/>
<rect x="574.45" y="106.15" width="2.82" height="9.80" fill="#1ea8d4"/>
<rect x="576.76" y="106.15" width="2.82" height="9.80" fill="#32b4ac"/>
<rect x="579.08" y="106.15" width="2.32" height="9.80" fill="#28aebf"/>
<rect x="384.40" y="115.45" width="2.82" height="9.80" fill="#26adc3"/>
<rect x="386.72" y="115.45" width="2.82" height="9.80" fill="#20a6d4"/>
<rect x="389.04" y="115.45" width="2.82" height="9.80" fill="#2b9ad5"/>
<rect x="391.35" y="115.45" width="2.82" height="9.80" fill="#27aec2"/>
<rect x="393.67" y="115.45" width="2.82" height="9.80" fill="#1fa7d4"/>
<rect x="395.99" y="115.45" width="2.82" height="9.80" fill="#32b4ad"/>
<rect x="398.31" y="115.45" width="2.82" height="9.80" fill="#28aec0"/>
<rect x="400.62" y="115.45" width="2.82" height="9.80" fill="#1ea8d4"/>
<rect x="402.94" y="115.45" width="2.82" height="9.80" fill="#299cd5"/>
<rect x="405.26" y="115.45" width="2.82" height="9.80" fill="#29aebf"/>
<rect x="407.58" y="115.45" width="2.82" height="9.80" fill="#1fa9d2"/>
<rect x="409.89" y="115.45" width="2.82" height="9.80" fill="#33b5aa"/>
<rect x="412.21" y="115.45" width="2.82" height="9.80" fill="#23abca"/>
<rect x="414.53" y="115.45" width="2.82" height="9.80" fill="#37b7a1"/>
<rect x="416.85" y="115.45" width="2.82" height="9.80" fill="#2eb1b5"/>
<rect x="419.16" y="115.45" width="2.82" height="9.80" fill="#24abc8"/>
<rect x="421.48" y="115.45" width="2.82" height="9.80" fill="#23a3d4"/>
<rect x="423.80" y="115.45" width="2.82" height="9.80" fill="#2eb2b3"/>
<rect x="426.12" y="115.45" width="2.82" height="9.80" fill="#25acc7"/>
<rect x="428.44" y="115.45" width="2.82" height="9.80" fill="#22a4d4"/>
<rect x="430.75" y="115.45" width="2.82" height="9.80" fill="#2fb2b2"/>
<rect x="433.07" y="115.45" width="2.82" height="9.80" fill="#53bd86"/>
<rect x="435.39" y="115.45" width="2.82" height="9.80" fill="#21a5d4"/>
<rect x="437.71" y="115.45" width="2.82" height="9.80" fill="#75c26d"/>
<rect x="440.02" y="115.45" width="2.82" height="9.80" fill="#41bb94"/>
<rect x="442.34" y="115.45" width="2.82" height="9.80" fill="#34b5a8"/>
<rect x="444.66" y="115.45" width="2.82" height="9.80" fill="#2aafbc"/>
<rect x="446.98" y="115.45" width="2.82" height="9.80" fill="#585cc0"/>
<rect x="449.29" y="115.45" width="2.82" height="9.80" fill="#35b6a7"/>
<rect x="451.61" y="115.45" width="2.82" height="9.80" fill="#2bb0ba"/>
<rect x="453.93" y="115.45" width="2.82" height="9.80" fill="#46bb90"/>
<rect x="456.25" y="115.45" width="2.82" height="9.80" fill="#35b6a5"/>
<rect x="458.56" y="115.45" width="2.82" height="9.80" fill="#2cb0b9"/>
<rect x="460.88" y="115.45" width="2.82" height="9.80" fill="#49bc8e"/>
<rect x="463.20" y="115.45" width="2.82" height="9.80" fill="#36b7a4"/>
<rect x="465.52" y="115.45" width="2.82" height="9.80" fill="#2cb1b7"/>
<rect x="467.84" y="115.45" width="2.82" height="9.80" fill="#20a6d4"/>
<rect x="470.15" y="115.45" width="2.82" height="9.80" fill="#31b3af"/>
<rect x="472.47" y="115.45" width="2.82" height="9.80" fill="#27adc2"/>
<rect x="474.79" y="115.45" width="2.82" height="9.80" fill="#585cc0"/>
<rect x="477.11" y="115.45" width="2.82" height="9.80" fill="#31b4ad"/>
<rect x="479.42" y="115.45" width="2.82" height="9.80" fill="#28aec1"/>
<rect x="481.74" y="115.45" width="2.82" height="9.80" fill="#585cc0"/>
<rect x="484.06" y="115.45" width="2.82" height="9.80" fill="#32b4ac"/>
<rect x="486.38" y="115.45" width="2.82" height="9.80" fill="#5dbe7f"/>
<rect x="488.69" y="115.45" width="2.82" height="9.80" fill="#3eba97"/>
<rect x="491.01" y="115.45" width="2.82" height="9.80" fill="#33b5aa"/>
<rect x="493.33" y="115.45" width="2.82" height="9.80" fill="#29afbe"/>
<rect x="495.65" y="115.45" width="2.82" height="9.80" fill="#4084d6"/>
<rect x="497.96" y="115.45" width="2.82" height="9.80" fill="#2db1b6"/>
<rect x="500.28" y="115.45" width="2.82" height="9.80" fill="#23abc9"/>
<rect x="502.60" y="115.45" width="2.82" height="9.80" fill="#23a3d4"/>
<rect x="504.92" y="115.45" width="2.82" height="9.80" fill="#6ec172"/>
<rect x="507.24" y="115.45" width="2.82" height="9.80" fill="#24acc8"/>
<rect x="509.55" y="115.45" width="2.82" height="9.80" fill="#38b89f"/>
<rect x="511.87" y="115.45" width="2.82" height="9.80" fill="#71c170"/>
<rect x="514.19" y="115.45" width="2.82" height="9.80" fill="#25acc6"/>
<rect x="516.51" y="115.45" width="2.82" height="9.80" fill="#447fd4"/>
<rect x="518.82" y="115.45" width="2.82" height="9.80" fill="#2fb2b1"/>
<rect x="521.14" y="115.45" width="2.82" height="9.80" fill="#26adc5"/>
<rect x="523.46" y="115.45" width="2.82" height="9.80" fill="#20a5d4"/>
<rect x="525.78" y="115.45" width="2.82" height="9.80" fill="#3491d5"/>
<rect x="528.09" y="115.45" width="2.82" height="9.80" fill="#42bb93"/>
<rect x="530.41" y="115.45" width="2.82" height="9.80" fill="#83c463"/>
<rect x="532.73" y="115.45" width="2.82" height="9.80" fill="#64bf7a"/>
<rect x="535.05" y="115.45" width="2.82" height="9.80" fill="#83c462"/>
<rect x="537.36" y="115.45" width="2.82" height="9.80" fill="#85c461"/>
<rect x="539.68" y="115.45" width="2.82" height="9.80" fill="#66c078"/>
<rect x="542.00" y="115.45" width="2.82" height="9.80" fill="#22aacd"/>
<rect x="544.32" y="115.45" width="2.82" height="9.80" fill="#36b6a4"/>
<rect x="546.64" y="115.45" width="2.82" height="9.80" fill="#69c076"/>
<rect x="548.95" y="115.45" width="2.82" height="9.80" fill="#22abcb"/>
<rect x="551.27" y="115.45" width="2.82" height="9.80" fill="#37b7a3"/>
<rect x="553.59" y="115.45" width="2.82" height="9.80" fill="#388dd5"/>
<rect x="555.91" y="115.45" width="2.82" height="9.80" fill="#20a6d4"/>
<rect x="558.22" y="115.45" width="2.82" height="9.80" fill="#31b3ae"/>
<rect x="560.54" y="115.45" width="2.82" height="9.80" fill="#378ed5"/>
<rect x="562.86" y="115.45" width="2.82" height="9.80" fill="#1fa7d4"/>
<rect x="565.18" y="115.45" width="2.82" height="9.80" fill="#32b4ad"/>
<rect x="567.49" y="115.45" width="2.82" height="9.80" fill="#5cbe80"/>
<rect x="569.81" y="115.45" width="2.82" height="9.80" fill="#1ea8d4"/>
<rect x="572.13" y="115.45" width="2.82" height="9.80" fill="#32b4ab"/>
<rect x="574.45" y="115.45" width="2.82" height="9.80" fill="#29aebf"/>
<rect x="576.76" y="115.45" width="2.82" height="9.80" fill="#1fa9d2"/>
<rect x="579.08" y="115.45" width="2.32" height="9.80" fill="#33b5aa"/>
<rect x="384.40" y="124.75" width="2.82" height="9.80" fill="#31b4ad"/>
<rect x="386.72" y="124.75" width="2.82" height="9.80" fill="#28aec1"/>
<rect x="389.04" y="124.75" width="2.82" height="9.80" fill="#1ea8d4"/>
<rect x="391.35" y="124.75" width="2.82" height="9.80" fill="#7bc368"/>
<rect x="393.67" y="124.75" width="2.82" height="9.80" fill="#5dbe7f"/>
<rect x="395.99" y="124.75" width="2.82" height="9.80" fill="#3eba97"/>
<rect x="398.31" y="124.75" width="2.82" height="9.80" fill="#33b4aa"/>
<rect x="400.62" y="124.75" width="2.82" height="9.80" fill="#29afbe"/>
<rect x="402.94" y="124.75" width="2.82" height="9.80" fill="#40bb95"/>
<rect x="405.26" y="124.75" width="2.82" height="9.80" fill="#2db1b6"/>
<rect x="407.58" y="124.75" width="2.82" height="9.80" fill="#23abc9"/>
<rect x="409.89" y="124.75" width="2.82" height="9.80" fill="#38b7a1"/>
<rect x="412.21" y="124.75" width="2.82" height="9.80" fill="#6ec172"/>
<rect x="414.53" y="124.75" width="2.82" height="9.80" fill="#24acc8"/>
<rect x="416.85" y="124.75" width="2.82" height="9.80" fill="#22a3d4"/>
<rect x="419.16" y="124.75" width="2.82" height="9.80" fill="#2e97d5"/>
<rect x="421.48" y="124.75" width="2.82" height="9.80" fill="#25acc6"/>
<rect x="423.80" y="124.75" width="2.82" height="9.80" fill="#21a4d4"/>
<rect x="426.12" y="124.75" width="2.82" height="9.80" fill="#2fb2b1"/>
<rect x="428.44" y="124.75" width="2.82" height="9.80" fill="#26adc5"/>
<rect x="430.75" y="124.75" width="2.82" height="9.80" fill="#20a5d4"/>
<rect x="433.07" y="124.75" width="2.82" height="9.80" fill="#61bf7c"/>
<rect x="435.39" y="124.75" width="2.82" height="9.80" fill="#42bb93"/>
<rect x="437.71" y="124.75" width="2.82" height="9.80" fill="#34b5a7"/>
<rect x="440.02" y="124.75" width="2.82" height="9.80" fill="#585cc0"/>
<rect x="442.34" y="124.75" width="2.82" height="9.80" fill="#45bb91"/>
<rect x="444.66" y="124.75" width="2.82" height="9.80" fill="#85c461"/>
<rect x="446.98" y="124.75" width="2.82" height="9.80" fill="#66c078"/>
<rect x="449.29" y="124.75" width="2.82" height="9.80" fill="#22aacd"/>
<rect x="451.61" y="124.75" width="2.82" height="9.80" fill="#36b6a4"/>
<rect x="453.93" y="124.75" width="2.82" height="9.80" fill="#69c076"/>
<rect x="456.25" y="124.75" width="2.82" height="9.80" fill="#4abc8e"/>
<rect x="458.56" y="124.75" width="2.82" height="9.80" fill="#8ac55d"/>
<rect x="460.88" y="124.75" width="2.82" height="9.80" fill="#a3c74c"/>
<rect x="463.20" y="124.75" width="2.82" height="9.80" fill="#3bb99b"/>
<rect x="465.52" y="124.75" width="2.82" height="9.80" fill="#31b3ae"/>
<rect x="467.84" y="124.75" width="2.82" height="9.80" fill="#27adc2"/>
<rect x="470.15" y="124.75" width="2.82" height="9.80" fill="#3bba99"/>
<rect x="472.47" y="124.75" width="2.82" height="9.80" fill="#7ac369"/>
<rect x="474.79" y="124.75" width="2.82" height="9.80" fill="#28aec0"/>
<rect x="477.11" y="124.75" width="2.82" height="9.80" fill="#1ea8d4"/>
<rect x="479.42" y="124.75" width="2.82" height="9.80" fill="#32b4ab"/>
<rect x="481.74" y="124.75" width="2.82" height="9.80" fill="#5ebf7e"/>
<rect x="484.06" y="124.75" width="2.82" height="9.80" fill="#3fba96"/>
<rect x="486.38" y="124.75" width="2.82" height="9.80" fill="#33b5aa"/>
<rect x="488.69" y="124.75" width="2.82" height="9.80" fill="#60bf7c"/>
<rect x="491.01" y="124.75" width="2.82" height="9.80" fill="#37b7a1"/>
<rect x="493.33" y="124.75" width="2.82" height="9.80" fill="#2eb1b5"/>
<rect x="495.65" y="124.75" width="2.82" height="9.80" fill="#4ebc8a"/>
<rect x="497.96" y="124.75" width="2.82" height="9.80" fill="#23a3d4"/>
<rect x="500.28" y="124.75" width="2.82" height="9.80" fill="#2eb2b3"/>
<rect x="502.60" y="124.75" width="2.82" height="9.80" fill="#3a8ad6"/>
<rect x="504.92" y="124.75" width="2.82" height="9.80" fill="#39b89e"/>
<rect x="507.24" y="124.75" width="2.82" height="9.80" fill="#2fb2b2"/>
<rect x="509.55" y="124.75" width="2.82" height="9.80" fill="#53bd86"/>
<rect x="511.87" y="124.75" width="2.82" height="9.80" fill="#3ab99d"/>
<rect x="514.19" y="124.75" width="2.82" height="9.80" fill="#30b3b0"/>
<rect x="516.51" y="124.75" width="2.82" height="9.80" fill="#388cd5"/>
<rect x="518.82" y="124.75" width="2.82" height="9.80" fill="#34b5a8"/>
<rect x="521.14" y="124.75" width="2.82" height="9.80" fill="#2aafbc"/>
<rect x="523.46" y="124.75" width="2.82" height="9.80" fill="#44bb92"/>
<rect x="525.78" y="124.75" width="2.82" height="9.80" fill="#35b6a7"/>
<rect x="528.09" y="124.75" width="2.82" height="9.80" fill="#3392d5"/>
<rect x="530.41" y="124.75" width="2.82" height="9.80" fill="#21aace"/>
<rect x="532.73" y="124.75" width="2.82" height="9.80" fill="#35b6a5"/>
<rect x="535.05" y="124.75" width="2.82" height="9.80" fill="#3293d5"/>
<rect x="537.36" y="124.75" width="2.82" height="9.80" fill="#22aacc"/>
<rect x="539.68" y="124.75" width="2.82" height="9.80" fill="#89c45e"/>
<rect x="542.00" y="124.75" width="2.82" height="9.80" fill="#6ac075"/>
<rect x="544.32" y="124.75" width="2.82" height="9.80" fill="#23abcb"/>
<rect x="546.64" y="124.75" width="2.82" height="9.80" fill="#37b7a2"/>
<rect x="548.95" y="124.75" width="2.82" height="9.80" fill="#27adc2"/>
<rect x="551.27" y="124.75" width="2.82" height="9.80" fill="#1fa7d4"/>
<rect x="553.59" y="124.75" width="2.82" height="9.80" fill="#2b9ad5"/>
<rect x="555.91" y="124.75" width="2.82" height="9.80" fill="#5abe81"/>
<rect x="558.22" y="124.75" width="2.82" height="9.80" fill="#3cba98"/>
<rect x="560.54" y="124.75" width="2.82" height="9.80" fill="#32b4ac"/>
<rect x="562.86" y="124.75" width="2.82" height="9.80" fill="#28aebf"/>
<rect x="565.18" y="124.75" width="2.82" height="9.80" fill="#3eba97"/>
<rect x="567.49" y="124.75" width="2.82" height="9.80" fill="#33b4aa"/>
<rect x="569.81" y="124.75" width="2.82" height="9.80" fill="#29afbe"/>
<rect x="572.13" y="124.75" width="2.82" height="9.80" fill="#1fa9d1"/>
<rect x="574.45" y="124.75" width="2.82" height="9.80" fill="#34b5a9"/>
<rect x="576.76" y="124.75" width="2.82" height="9.80" fill="#23abc9"/>
<rect x="579.08" y="124.75" width="2.32" height="9.80" fill="#23a2d4"/>
<rect x="384.40" y="134.05" width="2.82" height="9.80" fill="#1ea8d4"/>
<rect x="386.72" y="134.05" width="2.82" height="9.80" fill="#32b4ab"/>
<rect x="389.04" y="134.05" width="2.82" height="9.80" fill="#29aebf"/>
<rect x="391.35" y="134.05" width="2.82" height="9.80" fill="#3fba96"/>
<rect x="393.67" y="134.05" width="2.82" height="9.80" fill="#33b5aa"/>
<rect x="395.99" y="134.05" width="2.82" height="9.80" fill="#29afbd"/>
<rect x="398.31" y="134.05" width="2.82" height="9.80" fill="#8cc55b"/>
<rect x="400.62" y="134.05" width="2.82" height="9.80" fill="#6dc173"/>
<rect x="402.94" y="134.05" width="2.82" height="9.80" fill="#4ebc8a"/>
<rect x="405.26" y="134.05" width="2.82" height="9.80" fill="#23a3d4"/>
<rect x="407.58" y="134.05" width="2.82" height="9.80" fill="#2eb2b3"/>
<rect x="409.89" y="134.05" width="2.82" height="9.80" fill="#25acc7"/>
<rect x="412.21" y="134.05" width="2.82" height="9.80" fill="#22a4d4"/>
<rect x="414.53" y="134.05" width="2.82" height="9.80" fill="#2fb2b2"/>
<rect x="416.85" y="134.05" width="2.82" height="9.80" fill="#53bd87"/>
<rect x="419.16" y="134.05" width="2.82" height="9.80" fill="#3ab99d"/>
<rect x="421.48" y="134.05" width="2.82" height="9.80" fill="#74c26d"/>
<rect x="423.80" y="134.05" width="2.82" height="9.80" fill="#26adc4"/>
<rect x="426.12" y="134.05" width="2.82" height="9.80" fill="#20a6d4"/>
<rect x="428.44" y="134.05" width="2.82" height="9.80" fill="#2aafbc"/>
<rect x="430.75" y="134.05" width="2.82" height="9.80" fill="#20a9cf"/>
<rect x="433.07" y="134.05" width="2.82" height="9.80" fill="#84c462"/>
<rect x="435.39" y="134.05" width="2.82" height="9.80" fill="#65c079"/>
<rect x="437.71" y="134.05" width="2.82" height="9.80" fill="#21aace"/>
<rect x="440.02" y="134.05" width="2.82" height="9.80" fill="#585cc0"/>
<rect x="442.34" y="134.05" width="2.82" height="9.80" fill="#67c077"/>
<rect x="444.66" y="134.05" width="2.82" height="9.80" fill="#48bc8f"/>
<rect x="446.98" y="134.05" width="2.82" height="9.80" fill="#89c45e"/>
<rect x="449.29" y="134.05" width="2.82" height="9.80" fill="#6ac075"/>
<rect x="451.61" y="134.05" width="2.82" height="9.80" fill="#4bbc8d"/>
<rect x="453.93" y="134.05" width="2.82" height="9.80" fill="#8bc55c"/>
<rect x="456.25" y="134.05" width="2.82" height="9.80" fill="#58be83"/>
<rect x="458.56" y="134.05" width="2.82" height="9.80" fill="#3bb99a"/>
<rect x="460.88" y="134.05" width="2.82" height="9.80" fill="#79c26a"/>
<rect x="463.20" y="134.05" width="2.82" height="9.80" fill="#28aec1"/>
<rect x="465.52" y="134.05" width="2.82" height="9.80" fill="#3cba98"/>
<rect x="467.84" y="134.05" width="2.82" height="9.80" fill="#d4c532"/>
<rect x="470.15" y="134.05" width="2.82" height="9.80" fill="#d4c532"/>
<rect x="472.47" y="134.05" width="2.82" height="9.80" fill="#3eba97"/>
<rect x="474.79" y="134.05" width="2.82" height="9.80" fill="#33b4aa"/>
<rect x="477.11" y="134.05" width="2.82" height="9.80" fill="#29afbe"/>
<rect x="479.42" y="134.05" width="2.82" height="9.80" fill="#40bb95"/>
<rect x="481.74" y="134.05" width="2.82" height="9.80" fill="#34b5a9"/>
<rect x="484.06" y="134.05" width="2.82" height="9.80" fill="#23abc9"/>
<rect x="486.38" y="134.05" width="2.82" height="9.80" fill="#38b7a1"/>
<rect x="488.69" y="134.05" width="2.82" height="9.80" fill="#2eb2b4"/>
<rect x="491.01" y="134.05" width="2.82" height="9.80" fill="#24acc8"/>
<rect x="493.33" y="134.05" width="2.82" height="9.80" fill="#38b89f"/>
<rect x="495.65" y="134.05" width="2.82" height="9.80" fill="#2fb2b3"/>
<rect x="497.96" y="134.05" width="2.82" height="9.80" fill="#52bd87"/>
<rect x="500.28" y="134.05" width="2.82" height="9.80" fill="#21a4d4"/>
<rect x="502.60" y="134.05" width="2.82" height="9.80" fill="#2d98d5"/>
<rect x="504.92" y="134.05" width="2.82" height="9.80" fill="#26adc5"/>
<rect x="507.24" y="134.05" width="2.82" height="9.80" fill="#3ab99c"/>
<rect x="509.55" y="134.05" width="2.82" height="9.80" fill="#30b3b0"/>
<rect x="511.87" y="134.05" width="2.82" height="9.80" fill="#57be84"/>
<rect x="514.19" y="134.05" width="2.82" height="9.80" fill="#279ed5"/>
<rect x="516.51" y="134.05" width="2.82" height="9.80" fill="#585cc0"/>
<rect x="518.82" y="134.05" width="2.82" height="9.80" fill="#21aacf"/>
<rect x="521.14" y="134.05" width="2.82" height="9.80" fill="#85c461"/>
<rect x="523.46" y="134.05" width="2.82" height="9.80" fill="#2bb0b9"/>
<rect x="525.78" y="134.05" width="2.82" height="9.80" fill="#22aacd"/>
<rect x="528.09" y="134.05" width="2.82" height="9.80" fill="#87c45f"/>
<rect x="530.41" y="134.05" width="2.82" height="9.80" fill="#2cb0b8"/>
<rect x="532.73" y="134.05" width="2.82" height="9.80" fill="#4abc8e"/>
<rect x="535.05" y="134.05" width="2.82" height="9.80" fill="#37b7a3"/>
<rect x="537.36" y="134.05" width="2.82" height="9.80" fill="#2db1b6"/>
<rect x="539.68" y="134.05" width="2.82" height="9.80" fill="#4cbc8c"/>
<rect x="542.00" y="134.05" width="2.82" height="9.80" fill="#78c26b"/>
<rect x="544.32" y="134.05" width="2.82" height="9.80" fill="#97c653"/>
<rect x="546.64" y="134.05" width="2.82" height="9.80" fill="#78c26b"/>
<rect x="548.95" y="134.05" width="2.82" height="9.80" fill="#7ac369"/>
<rect x="551.27" y="134.05" width="2.82" height="9.80" fill="#28aec0"/>
<rect x="553.59" y="134.05" width="2.82" height="9.80" fill="#3cba98"/>
<rect x="555.91" y="134.05" width="2.82" height="9.80" fill="#32b4ab"/>
<rect x="558.22" y="134.05" width="2.82" height="9.80" fill="#29aebf"/>
<rect x="560.54" y="134.05" width="2.82" height="9.80" fill="#3fba96"/>
<rect x="562.86" y="134.05" width="2.82" height="9.80" fill="#33b5aa"/>
<rect x="565.18" y="134.05" width="2.82" height="9.80" fill="#60bf7d"/>
<rect x="567.49" y="134.05" width="2.82" height="9.80" fill="#20a9d1"/>
<rect x="569.81" y="134.05" width="2.82" height="9.80" fill="#2db1b5"/>
<rect x="572.13" y="134.05" width="2.82" height="9.80" fill="#4ebc8a"/>
<rect x="574.45" y="134.05" width="2.82" height="9.80" fill="#23a3d4"/>
<rect x="576.76" y="134.05" width="2.82" height="9.80" fill="#2eb2b3"/>
<rect x="579.08" y="134.05" width="2.32" height="9.80" fill="#25acc7"/>
<rect x="384.40" y="143.35" width="2.82" height="4.65" fill="#5fbf7e"/>
<rect x="386.72" y="143.35" width="2.82" height="4.65" fill="#40bb95"/>
<rect x="389.04" y="143.35" width="2.82" height="4.65" fill="#80c364"/>
<rect x="391.35" y="143.35" width="2.82" height="4.65" fill="#61bf7c"/>
<rect x="393.67" y="143.35" width="2.82" height="4.65" fill="#23a2d4"/>
<rect x="395.99" y="143.35" width="2.82" height="4.65" fill="#6ec172"/>
<rect x="398.31" y="143.35" width="2.82" height="4.65" fill="#24acc8"/>
<rect x="400.62" y="143.35" width="2.82" height="4.65" fill="#22a3d4"/>
<rect x="402.94" y="143.35" width="2.82" height="4.65" fill="#71c170"/>
<rect x="405.26" y="143.35" width="2.82" height="4.65" fill="#25acc6"/>
<rect x="407.58" y="143.35" width="2.82" height="4.65" fill="#21a4d4"/>
<rect x="409.89" y="143.35" width="2.82" height="4.65" fill="#2fb2b1"/>
<rect x="412.21" y="143.35" width="2.82" height="4.65" fill="#54bd86"/>
<rect x="414.53" y="143.35" width="2.82" height="4.65" fill="#21a5d4"/>
<rect x="416.85" y="143.35" width="2.82" height="4.65" fill="#30b3b0"/>
<rect x="419.16" y="143.35" width="2.82" height="4.65" fill="#26adc3"/>
<rect x="421.48" y="143.35" width="2.82" height="4.65" fill="#34b5a8"/>
<rect x="423.80" y="143.35" width="2.82" height="4.65" fill="#63bf7a"/>
<rect x="426.12" y="143.35" width="2.82" height="4.65" fill="#21aacf"/>
<rect x="428.44" y="143.35" width="2.82" height="4.65" fill="#35b6a6"/>
<rect x="430.75" y="143.35" width="2.82" height="4.65" fill="#2bb0ba"/>
<rect x="433.07" y="143.35" width="2.82" height="4.65" fill="#47bc90"/>
<rect x="435.39" y="143.35" width="2.82" height="4.65" fill="#87c45f"/>
<rect x="437.71" y="143.35" width="2.82" height="4.65" fill="#68c076"/>
<rect x="440.02" y="143.35" width="2.82" height="4.65" fill="#585cc0"/>
<rect x="442.34" y="143.35" width="2.82" height="4.65" fill="#8ac55d"/>
<rect x="444.66" y="143.35" width="2.82" height="4.65" fill="#6bc075"/>
<rect x="446.98" y="143.35" width="2.82" height="4.65" fill="#4cbc8c"/>
<rect x="449.29" y="143.35" width="2.82" height="4.65" fill="#78c26b"/>
<rect x="451.61" y="143.35" width="2.82" height="4.65" fill="#59be82"/>
<rect x="453.93" y="143.35" width="2.82" height="4.65" fill="#1fa7d4"/>
<rect x="456.25" y="143.35" width="2.82" height="4.65" fill="#7ac269"/>
<rect x="458.56" y="143.35" width="2.82" height="4.65" fill="#28aec0"/>
<rect x="460.88" y="143.35" width="2.82" height="4.65" fill="#3cba98"/>
<rect x="463.20" y="143.35" width="2.82" height="4.65" fill="#7dc367"/>
<rect x="465.52" y="143.35" width="2.82" height="4.65" fill="#9bc750"/>
<rect x="467.84" y="143.35" width="2.82" height="4.65" fill="#7dc367"/>
<rect x="470.15" y="143.35" width="2.82" height="4.65" fill="#7fc365"/>
<rect x="472.47" y="143.35" width="2.82" height="4.65" fill="#3490d5"/>
<rect x="474.79" y="143.35" width="2.82" height="4.65" fill="#20a9d1"/>
<rect x="477.11" y="143.35" width="2.82" height="4.65" fill="#81c363"/>
<rect x="479.42" y="143.35" width="2.82" height="4.65" fill="#4ebc8a"/>
<rect x="481.74" y="143.35" width="2.82" height="4.65" fill="#457dd3"/>
<rect x="484.06" y="143.35" width="2.82" height="4.65" fill="#585cc0"/>
<rect x="486.38" y="143.35" width="2.82" height="4.65" fill="#24acc7"/>
<rect x="488.69" y="143.35" width="2.82" height="4.65" fill="#22a4d4"/>
<rect x="491.01" y="143.35" width="2.82" height="4.65" fill="#2fb2b2"/>
<rect x="493.33" y="143.35" width="2.82" height="4.65" fill="#25acc6"/>
<rect x="495.65" y="143.35" width="2.82" height="4.65" fill="#447fd4"/>
<rect x="497.96" y="143.35" width="2.82" height="4.65" fill="#483ca5"/>
<rect x="500.28" y="143.35" width="2.82" height="4.65" fill="#26adc4"/>
<rect x="502.60" y="143.35" width="2.82" height="4.65" fill="#20a6d4"/>
<rect x="504.92" y="143.35" width="2.82" height="4.65" fill="#31b3af"/>
<rect x="507.24" y="143.35" width="2.82" height="4.65" fill="#20a9cf"/>
<rect x="509.55" y="143.35" width="2.82" height="4.65" fill="#83c462"/>
<rect x="511.87" y="143.35" width="2.82" height="4.65" fill="#2bb0ba"/>
<rect x="514.19" y="143.35" width="2.82" height="4.65" fill="#21aace"/>
<rect x="516.51" y="143.35" width="2.82" height="4.65" fill="#35b6a5"/>
<rect x="518.82" y="143.35" width="2.82" height="4.65" fill="#2cb0b9"/>
<rect x="521.14" y="143.35" width="2.82" height="4.65" fill="#48bc8f"/>
<rect x="523.46" y="143.35" width="2.82" height="4.65" fill="#36b6a4"/>
<rect x="525.78" y="143.35" width="2.82" height="4.65" fill="#6ac076"/>
<rect x="528.09" y="143.35" width="2.82" height="4.65" fill="#4bbc8d"/>
<rect x="530.41" y="143.35" width="2.82" height="4.65" fill="#37b7a2"/>
<rect x="532.73" y="143.35" width="2.82" height="4.65" fill="#2db1b6"/>
<rect x="535.05" y="143.35" width="2.82" height="4.65" fill="#1fa7d4"/>
<rect x="537.36" y="143.35" width="2.82" height="4.65" fill="#585cc0"/>
<rect x="539.68" y="143.35" width="2.82" height="4.65" fill="#27aec1"/>
<rect x="542.00" y="143.35" width="2.82" height="4.65" fill="#1ea8d4"/>
<rect x="544.32" y="143.35" width="2.82" height="4.65" fill="#32b4ac"/>
<rect x="546.64" y="143.35" width="2.82" height="4.65" fill="#9ac751"/>
<rect x="548.95" y="143.35" width="2.82" height="4.65" fill="#7bc368"/>
<rect x="551.27" y="143.35" width="2.82" height="4.65" fill="#7ec366"/>
<rect x="553.59" y="143.35" width="2.82" height="4.65" fill="#29afbe"/>
<rect x="555.91" y="143.35" width="2.82" height="4.65" fill="#1fa9d1"/>
<rect x="558.22" y="143.35" width="2.82" height="4.65" fill="#34b5a9"/>
<rect x="560.54" y="143.35" width="2.82" height="4.65" fill="#2aafbc"/>
<rect x="562.86" y="143.35" width="2.82" height="4.65" fill="#20a9d0"/>
<rect x="565.18" y="143.35" width="2.82" height="4.65" fill="#2eb1b4"/>
<rect x="567.49" y="143.35" width="2.82" height="4.65" fill="#24acc8"/>
<rect x="569.81" y="143.35" width="2.82" height="4.65" fill="#22a3d4"/>
<rect x="572.13" y="143.35" width="2.82" height="4.65" fill="#2fb2b3"/>
<rect x="574.45" y="143.35" width="2.82" height="4.65" fill="#25acc6"/>
<rect x="576.76" y="143.35" width="2.82" height="4.65" fill="#21a4d4"/>
<rect x="579.08" y="143.35" width="2.32" height="4.65" fill="#2fb2b1"/>
</g>
<text x="380.20" y="151.80" font-family="Liberation Sans, sans-serif" font-size="11.2" fill="#1a1a1a" stroke="#1a1a1a" stroke-width="0.12" text-anchor="end">0</text>
<line x1="384.40" y1="117.00" x2="386.40" y2="117.00" stroke="#333" stroke-width="0.6"/>
<text x="380.20" y="120.80" font-family="Liberation Sans, sans-serif" font-size="11.2" fill="#1a1a1a" stroke="#1a1a1a" stroke-width="0.12" text-anchor="end">1</text>
<line x1="384.40" y1="86.00" x2="386.40" y2="86.00" stroke="#333" stroke-width="0.6"/>
<text x="380.20" y="89.80" font-family="Liberation Sans, sans-serif" font-size="11.2" fill="#1a1a1a" stroke="#1a1a1a" stroke-width="0.12" text-anchor="end">2</text>
<line x1="384.40" y1="55.00" x2="386.40" y2="55.00" stroke="#333" stroke-width="0.6"/>
<text x="380.20" y="58.80" font-family="Liberation Sans, sans-serif" font-size="11.2" fill="#1a1a1a" stroke="#1a1a1a" stroke-width="0.12" text-anchor="end">3</text>
<text x="380.20" y="27.80" font-family="Liberation Sans, sans-serif" font-size="11.2" fill="#1a1a1a" stroke="#1a1a1a" stroke-width="0.12" text-anchor="end">4</text>
<line x1="414.10" y1="148.00" x2="414.10" y2="146.00" stroke="#222" stroke-width="0.6"/>
<text x="414.10" y="163.00" font-family="Liberation Sans, sans-serif" font-size="11.2" fill="#1a1a1a" stroke="#1a1a1a" stroke-width="0.12" text-anchor="middle">10</text>
<line x1="448.40" y1="148.00" x2="448.40" y2="146.00" stroke="#222" stroke-width="0.6"/>
<text x="448.40" y="163.00" font-family="Liberation Sans, sans-serif" font-size="11.2" fill="#1a1a1a" stroke="#1a1a1a" stroke-width="0.12" text-anchor="middle">20</text>
<line x1="482.70" y1="148.00" x2="482.70" y2="146.00" stroke="#222" stroke-width="0.6"/>
<text x="482.70" y="163.00" font-family="Liberation Sans, sans-serif" font-size="11.2" fill="#1a1a1a" stroke="#1a1a1a" stroke-width="0.12" text-anchor="middle">30</text>
<line x1="517.00" y1="148.00" x2="517.00" y2="146.00" stroke="#222" stroke-width="0.6"/>
<text x="517.00" y="163.00" font-family="Liberation Sans, sans-serif" font-size="11.2" fill="#1a1a1a" stroke="#1a1a1a" stroke-width="0.12" text-anchor="middle">40</text>
<line x1="551.30" y1="148.00" x2="551.30" y2="146.00" stroke="#222" stroke-width="0.6"/>
<text x="551.30" y="163.00" font-family="Liberation Sans, sans-serif" font-size="11.2" fill="#1a1a1a" stroke="#1a1a1a" stroke-width="0.12" text-anchor="middle">50</text>
<text x="479.40" y="179.50" font-family="Liberation Sans, sans-serif" font-size="13.3" fill="#1a1a1a" stroke="#1a1a1a" stroke-width="0.12" text-anchor="middle">t (s)</text>
<text transform="translate(368.80,86.00) rotate(-90)" font-family="Liberation Sans, sans-serif" font-size="13.8" fill="#1a1a1a" stroke="#1a1a1a" stroke-width="0.12" text-anchor="middle">Tempo (Hz)</text>
<text x="386.40" y="145.00" font-family="Liberation Sans, sans-serif" font-size="13.6" font-weight="bold" fill="#000" stroke="#000" stroke-width="0.12">Fireflies</text>
<defs><linearGradient id="cbFireflies" x1="0" x2="1" y1="0" y2="0"><stop offset="0.000" stop-color="#3e26a0"/><stop offset="0.111" stop-color="#483ca5"/><stop offset="0.222" stop-color="#585cc0"/><stop offset="0.333" stop-color="#4282d6"/><stop offset="0.444" stop-color="#1ea8d4"/><stop offset="0.556" stop-color="#3cba98"/><stop offset="0.667" stop-color="#9bc750"/><stop offset="0.778" stop-color="#d4c532"/><stop offset="0.889" stop-color="#f7ba36"/><stop offset="1.000" stop-color="#f8eb1e"/></linearGradient></defs><rect x="427.50" y="17.70" width="124.00" height="4.80" fill="url(#cbFireflies)" stroke="#555" stroke-width="0.3"/>
<text x="424.90" y="15.50" font-family="Liberation Sans, sans-serif" font-size="11.2" fill="#1a1a1a" stroke="#1a1a1a" stroke-width="0.12" text-anchor="middle">-50</text>
<text x="551.40" y="15.50" font-family="Liberation Sans, sans-serif" font-size="11.2" fill="#1a1a1a" stroke="#1a1a1a" stroke-width="0.12" text-anchor="middle">10</text>
<rect x="39.30" y="217.20" width="146.50" height="123.20" fill="#d6e4c0"/>
<rect x="185.80" y="217.20" width="222.20" height="123.20" fill="#f4c9b8"/>
<rect x="408.00" y="217.20" width="217.30" height="123.20" fill="#f8e5bd"/>
<line x1="39.30" y1="217.20" x2="39.30" y2="340.40" stroke="#8a8a8a" stroke-width="0.8"/>
<line x1="39.30" y1="340.40" x2="625.30" y2="340.40" stroke="#8a8a8a" stroke-width="0.8"/>
<line x1="625.00" y1="340.40" x2="625.00" y2="334.90" stroke="#555" stroke-width="0.6"/>
<line x1="39.30" y1="340.40" x2="39.30" y2="334.90" stroke="#555" stroke-width="0.6"/>
<line x1="61.35" y1="340.40" x2="61.35" y2="337.40" stroke="#555" stroke-width="0.6"/>
<line x1="74.25" y1="340.40" x2="74.25" y2="337.40" stroke="#555" stroke-width="0.6"/>
<line x1="83.40" y1="340.40" x2="83.40" y2="337.40" stroke="#555" stroke-width="0.6"/>
<line x1="90.50" y1="340.40" x2="90.50" y2="337.40" stroke="#555" stroke-width="0.6"/>
<line x1="96.30" y1="340.40" x2="96.30" y2="337.40" stroke="#555" stroke-width="0.6"/>
<line x1="101.20" y1="340.40" x2="101.20" y2="337.40" stroke="#555" stroke-width="0.6"/>
<line x1="105.45" y1="340.40" x2="105.45" y2="337.40" stroke="#555" stroke-width="0.6"/>
<line x1="109.20" y1="340.40" x2="109.20" y2="337.40" stroke="#555" stroke-width="0.6"/>
<line x1="112.55" y1="340.40" x2="112.55" y2="334.90" stroke="#555" stroke-width="0.6"/>
<line x1="134.60" y1="340.40" x2="134.60" y2="337.40" stroke="#555" stroke-width="0.6"/>
<line x1="147.50" y1="340.40" x2="147.50" y2="337.40" stroke="#555" stroke-width="0.6"/>
<line x1="156.65" y1="340.40" x2="156.65" y2="337.40" stroke="#555" stroke-width="0.6"/>
<line x1="163.75" y1="340.40" x2="163.75" y2="337.40" stroke="#555" stroke-width="0.6"/>
<line x1="169.55" y1="340.40" x2="169.55" y2="337.40" stroke="#555" stroke-width="0.6"/>
<line x1="174.45" y1="340.40" x2="174.45" y2="337.40" stroke="#555" stroke-width="0.6"/>
<line x1="178.70" y1="340.40" x2="178.70" y2="337.40" stroke="#555" stroke-width="0.6"/>
<line x1="182.45" y1="340.40" x2="182.45" y2="337.40" stroke="#555" stroke-width="0.6"/>
<line x1="185.80" y1="340.40" x2="185.80" y2="334.90" stroke="#555" stroke-width="0.6"/>
<line x1="207.85" y1="340.40" x2="207.85" y2="337.40" stroke="#555" stroke-width="0.6"/>
<line x1="220.75" y1="340.40" x2="220.75" y2="337.40" stroke="#555" stroke-width="0.6"/>
<line x1="229.90" y1="340.40" x2="229.90" y2="337.40" stroke="#555" stroke-width="0.6"/>
<line x1="237.00" y1="340.40" x2="237.00" y2="337.40" stroke="#555" stroke-width="0.6"/>
<line x1="242.80" y1="340.40" x2="242.80" y2="337.40" stroke="#555" stroke-width="0.6"/>
<line x1="247.70" y1="340.40" x2="247.70" y2="337.40" stroke="#555" stroke-width="0.6"/>
<line x1="251.95" y1="340.40" x2="251.95" y2="337.40" stroke="#555" stroke-width="0.6"/>
<line x1="255.70" y1="340.40" x2="255.70" y2="337.40" stroke="#555" stroke-width="0.6"/>
<line x1="259.05" y1="340.40" x2="259.05" y2="334.90" stroke="#555" stroke-width="0.6"/>
<line x1="281.10" y1="340.40" x2="281.10" y2="337.40" stroke="#555" stroke-width="0.6"/>
<line x1="294.00" y1="340.40" x2="294.00" y2="337.40" stroke="#555" stroke-width="0.6"/>
<line x1="303.15" y1="340.40" x2="303.15" y2="337.40" stroke="#555" stroke-width="0.6"/>
<line x1="310.25" y1="340.40" x2="310.25" y2="337.40" stroke="#555" stroke-width="0.6"/>
<line x1="316.05" y1="340.40" x2="316.05" y2="337.40" stroke="#555" stroke-width="0.6"/>
<line x1="320.95" y1="340.40" x2="320.95" y2="337.40" stroke="#555" stroke-width="0.6"/>
<line x1="325.20" y1="340.40" x2="325.20" y2="337.40" stroke="#555" stroke-width="0.6"/>
<line x1="328.95" y1="340.40" x2="328.95" y2="337.40" stroke="#555" stroke-width="0.6"/>
<line x1="332.30" y1="340.40" x2="332.30" y2="334.90" stroke="#555" stroke-width="0.6"/>
<line x1="354.35" y1="340.40" x2="354.35" y2="337.40" stroke="#555" stroke-width="0.6"/>
<line x1="367.25" y1="340.40" x2="367.25" y2="337.40" stroke="#555" stroke-width="0.6"/>
<line x1="376.40" y1="340.40" x2="376.40" y2="337.40" stroke="#555" stroke-width="0.6"/>
<line x1="383.50" y1="340.40" x2="383.50" y2="337.40" stroke="#555" stroke-width="0.6"/>
<line x1="389.30" y1="340.40" x2="389.30" y2="337.40" stroke="#555" stroke-width="0.6"/>
<line x1="394.20" y1="340.40" x2="394.20" y2="337.40" stroke="#555" stroke-width="0.6"/>
<line x1="398.45" y1="340.40" x2="398.45" y2="337.40" stroke="#555" stroke-width="0.6"/>
<line x1="402.20" y1="340.40" x2="402.20" y2="337.40" stroke="#555" stroke-width="0.6"/>
<line x1="405.55" y1="340.40" x2="405.55" y2="334.90" stroke="#555" stroke-width="0.6"/>
<line x1="427.60" y1="340.40" x2="427.60" y2="337.40" stroke="#555" stroke-width="0.6"/>
<line x1="440.50" y1="340.40" x2="440.50" y2="337.40" stroke="#555" stroke-width="0.6"/>
<line x1="449.65" y1="340.40" x2="449.65" y2="337.40" stroke="#555" stroke-width="0.6"/>
<line x1="456.75" y1="340.40" x2="456.75" y2="337.40" stroke="#555" stroke-width="0.6"/>
<line x1="462.55" y1="340.40" x2="462.55" y2="337.40" stroke="#555" stroke-width="0.6"/>
<line x1="467.45" y1="340.40" x2="467.45" y2="337.40" stroke="#555" stroke-width="0.6"/>
<line x1="471.70" y1="340.40" x2="471.70" y2="337.40" stroke="#555" stroke-width="0.6"/>
<line x1="475.45" y1="340.40" x2="475.45" y2="337.40" stroke="#555" stroke-width="0.6"/>
<line x1="478.80" y1="340.40" x2="478.80" y2="334.90" stroke="#555" stroke-width="0.6"/>
<line x1="500.85" y1="340.40" x2="500.85" y2="337.40" stroke="#555" stroke-width="0.6"/>
<line x1="513.75" y1="340.40" x2="513.75" y2="337.40" stroke="#555" stroke-width="0.6"/>
<line x1="522.90" y1="340.40" x2="522.90" y2="337.40" stroke="#555" stroke-width="0.6"/>
<line x1="530.00" y1="340.40" x2="530.00" y2="337.40" stroke="#555" stroke-width="0.6"/>
<line x1="535.80" y1="340.40" x2="535.80" y2="337.40" stroke="#555" stroke-width="0.6"/>
<line x1="540.70" y1="340.40" x2="540.70" y2="337.40" stroke="#555" stroke-width="0.6"/>
<line x1="544.95" y1="340.40" x2="544.95" y2="337.40" stroke="#555" stroke-width="0.6"/>
<line x1="548.70" y1="340.40" x2="548.70" y2="337.40" stroke="#555" stroke-width="0.6"/>
<line x1="552.05" y1="340.40" x2="552.05" y2="334.90" stroke="#555" stroke-width="0.6"/>
<line x1="574.10" y1="340.40" x2="574.10" y2="337.40" stroke="#555" stroke-width="0.6"/>
<line x1="587.00" y1="340.40" x2="587.00" y2="337.40" stroke="#555" stroke-width="0.6"/>
<line x1="596.15" y1="340.40" x2="596.15" y2="337.40" stroke="#555" stroke-width="0.6"/>
<line x1="603.25" y1="340.40" x2="603.25" y2="337.40" stroke="#555" stroke-width="0.6"/>
<line x1="609.05" y1="340.40" x2="609.05" y2="337.40" stroke="#555" stroke-width="0.6"/>
<line x1="613.95" y1="340.40" x2="613.95" y2="337.40" stroke="#555" stroke-width="0.6"/>
<line x1="618.20" y1="340.40" x2="618.20" y2="337.40" stroke="#555" stroke-width="0.6"/>
<line x1="621.95" y1="340.40" x2="621.95" y2="337.40" stroke="#555" stroke-width="0.6"/>
<line x1="39.30" y1="340.40" x2="44.80" y2="340.40" stroke="#555" stroke-width="0.6"/>
<text x="31.60" y="344.40" font-family="Liberation Sans, sans-serif" font-size="11.2" fill="#1a1a1a" stroke="#1a1a1a" stroke-width="0.12" text-anchor="end">0</text>
<line x1="39.30" y1="309.60" x2="44.80" y2="309.60" stroke="#555" stroke-width="0.6"/>
<text x="31.60" y="313.60" font-family="Liberation Sans, sans-serif" font-size="11.2" fill="#1a1a1a" stroke="#1a1a1a" stroke-width="0.12" text-anchor="end">1</text>
<line x1="39.30" y1="278.80" x2="44.80" y2="278.80" stroke="#555" stroke-width="0.6"/>
<text x="31.60" y="282.80" font-family="Liberation Sans, sans-serif" font-size="11.2" fill="#1a1a1a" stroke="#1a1a1a" stroke-width="0.12" text-anchor="end">2</text>
<line x1="39.30" y1="248.00" x2="44.80" y2="248.00" stroke="#555" stroke-width="0.6"/>
<text x="31.60" y="252.00" font-family="Liberation Sans, sans-serif" font-size="11.2" fill="#1a1a1a" stroke="#1a1a1a" stroke-width="0.12" text-anchor="end">3</text>
<line x1="39.30" y1="217.20" x2="44.80" y2="217.20" stroke="#555" stroke-width="0.6"/>
<text x="31.60" y="221.20" font-family="Liberation Sans, sans-serif" font-size="11.2" fill="#1a1a1a" stroke="#1a1a1a" stroke-width="0.12" text-anchor="end">4</text>
<text x="44.10" y="357.90" font-family="Liberation Sans, sans-serif" font-size="11.2" fill="#1a1a1a" stroke="#1a1a1a" stroke-width="0.12" text-anchor="end">10</text>
<text x="44.90" y="352.60" font-family="Liberation Sans, sans-serif" font-size="7.8" fill="#1a1a1a" stroke="#1a1a1a" stroke-width="0.12">1</text>
<text x="190.60" y="357.90" font-family="Liberation Sans, sans-serif" font-size="11.2" fill="#1a1a1a" stroke="#1a1a1a" stroke-width="0.12" text-anchor="end">10</text>
<text x="191.40" y="352.60" font-family="Liberation Sans, sans-serif" font-size="7.8" fill="#1a1a1a" stroke="#1a1a1a" stroke-width="0.12">3</text>
<text x="337.10" y="357.90" font-family="Liberation Sans, sans-serif" font-size="11.2" fill="#1a1a1a" stroke="#1a1a1a" stroke-width="0.12" text-anchor="end">10</text>
<text x="337.90" y="352.60" font-family="Liberation Sans, sans-serif" font-size="7.8" fill="#1a1a1a" stroke="#1a1a1a" stroke-width="0.12">5</text>
<text x="483.60" y="357.90" font-family="Liberation Sans, sans-serif" font-size="11.2" fill="#1a1a1a" stroke="#1a1a1a" stroke-width="0.12" text-anchor="end">10</text>
<text x="484.40" y="352.60" font-family="Liberation Sans, sans-serif" font-size="7.8" fill="#1a1a1a" stroke="#1a1a1a" stroke-width="0.12">7</text>
<text x="630.10" y="357.90" font-family="Liberation Sans, sans-serif" font-size="11.2" fill="#1a1a1a" stroke="#1a1a1a" stroke-width="0.12" text-anchor="end">10</text>
<text x="630.90" y="352.60" font-family="Liberation Sans, sans-serif" font-size="7.8" fill="#1a1a1a" stroke="#1a1a1a" stroke-width="0.12">9</text>
<text x="298.60" y="372.20" font-family="Liberation Sans, sans-serif" font-size="13.4" fill="#1a1a1a" stroke="#1a1a1a" stroke-width="0.12">Body weight (mg)</text>
<text transform="translate(20.00,278.60) rotate(-90)" font-family="Liberation Sans, sans-serif" font-size="13.8" fill="#1a1a1a" stroke="#1a1a1a" stroke-width="0.12" text-anchor="middle">Tempo (Hz)</text>
<circle cx="61.50" cy="272.50" r="2.6" fill="#3a2616"/>
<circle cx="63.50" cy="278.80" r="2.6" fill="#3a2616"/>
<circle cx="58.30" cy="294.30" r="2.6" fill="#3a2616"/>
<circle cx="61.30" cy="309.20" r="2.6" fill="#3a2616"/>
<circle cx="63.30" cy="310.80" r="2.6" fill="#3a2616"/>
<circle cx="148.70" cy="258.80" r="2.6" fill="#3a2616"/>
<circle cx="146.50" cy="293.40" r="2.6" fill="#3a2616"/>
<circle cx="215.30" cy="248.00" r="2.6" fill="#3a2616"/>
<circle cx="271.90" cy="238.00" r="2.6" fill="#3a2616"/>
<circle cx="341.60" cy="237.80" r="2.6" fill="#3a2616"/>
<circle cx="408.30" cy="225.10" r="2.6" fill="#3a2616"/>
<circle cx="405.40" cy="246.00" r="2.6" fill="#3a2616"/>
<circle cx="237.00" cy="311.30" r="2.6" fill="#3a2616"/>
<circle cx="293.70" cy="311.10" r="2.6" fill="#3a2616"/>
<circle cx="204.30" cy="321.50" r="2.6" fill="#3a2616"/>
<circle cx="207.90" cy="323.30" r="2.6" fill="#3a2616"/>
<circle cx="383.20" cy="322.20" r="2.6" fill="#3a2616"/>
<circle cx="380.30" cy="328.60" r="2.6" fill="#3a2616"/>
<circle cx="471.30" cy="284.90" r="2.6" fill="#3a2616"/>
<circle cx="462.50" cy="294.10" r="2.6" fill="#3a2616"/>
<circle cx="471.30" cy="300.50" r="2.6" fill="#3a2616"/>
<circle cx="471.30" cy="312.40" r="2.6" fill="#3a2616"/>
<circle cx="536.50" cy="278.70" r="2.6" fill="#3a2616"/>
<circle cx="586.60" cy="271.50" r="2.6" fill="#3a2616"/>
<text x="89.30" y="247.80" font-family="Liberation Sans, sans-serif" font-size="11.10" font-weight="bold" fill="#111" stroke="#111" stroke-width="0.12">Insects</text>
<text x="132.80" y="275.40" font-family="Liberation Sans, sans-serif" font-size="11.10"  fill="#1e1e1e" stroke="#1e1e1e" stroke-width="0.12">crickets</text>
<text x="46.00" y="329.20" font-family="Liberation Sans, sans-serif" font-size="11.10"  fill="#1e1e1e" stroke="#1e1e1e" stroke-width="0.12">fireflies</text>
<text x="190.30" y="278.30" font-family="Liberation Sans, sans-serif" font-size="11.10" font-weight="bold" fill="#111" stroke="#111" stroke-width="0.12">Crustaceans</text>
<text x="193.50" y="291.00" font-family="Liberation Sans, sans-serif" font-size="11.10"  fill="#1e1e1e" stroke="#1e1e1e" stroke-width="0.12">fiddler crabs</text>
<text x="264.90" y="256.00" font-family="Liberation Sans, sans-serif" font-size="11.10" font-weight="bold" fill="#2f5ea6" stroke="#2f5ea6" stroke-width="0.12">Fish</text>
<text x="359.40" y="235.00" font-family="Liberation Sans, sans-serif" font-size="11.10" font-weight="bold" fill="#111" stroke="#111" stroke-width="0.12">Birds</text>
<text x="322.90" y="292.40" font-family="Liberation Sans, sans-serif" font-size="11.10" font-weight="bold" fill="#111" stroke="#111" stroke-width="0.12">Amphibians</text>
<text x="342.20" y="305.20" font-family="Liberation Sans, sans-serif" font-size="11.10"  fill="#1e1e1e" stroke="#1e1e1e" stroke-width="0.12">frogs</text>
<text x="502.40" y="234.30" font-family="Liberation Sans, sans-serif" font-size="11.10" font-weight="bold" fill="#111" stroke="#111" stroke-width="0.12">Mammals</text>
<text x="436.70" y="288.30" font-family="Liberation Sans, sans-serif" font-size="11.10"  fill="#1e1e1e" stroke="#1e1e1e" stroke-width="0.12">apes</text>
<text x="522.00" y="292.90" font-family="Liberation Sans, sans-serif" font-size="11.10"  fill="#1e1e1e" stroke="#1e1e1e" stroke-width="0.12">humans</text>
<text x="572.00" y="263.40" font-family="Liberation Sans, sans-serif" font-size="11.10"  fill="#1e1e1e" stroke="#1e1e1e" stroke-width="0.12">sea lions</text>
<g transform="translate(67.00,304.80) scale(1.080)" stroke-linecap="round"><path d="M4.40,1.90 L4.40,0.70 M1.80,3.11 L0.88,2.34 M7.00,3.11 L7.92,2.34 M1.00,5.30 L-0.20,5.30 M7.80,5.30 L9.00,5.30 M1.61,7.25 L0.63,7.94 M7.19,7.25 L8.17,7.94 " stroke="#4a403a" stroke-width="0.75" fill="none"/><circle cx="4.4" cy="5.3" r="2.6" fill="#fbf3ec" stroke="#7a6e68" stroke-width="0.5"/><path d="M3.1,7.9 L5.7,7.9 L5.6,11.3 Q4.4,12.3 3.2,11.3 Z" fill="#4e443e"/><circle cx="3.5" cy="5.6" r="0.55" fill="#3a302b"/><circle cx="5.4" cy="5.6" r="0.55" fill="#3a302b"/></g>
<g transform="translate(151.00,279.00) scale(1.000)" stroke="#4a403a" stroke-width="0.75" stroke-linejoin="round" stroke-linecap="round"><path d="M2.2,6.7 L2.2,10.4 Q3.3,11.3 4.4,10.4 L4.4,6.9" fill="#fbf1ea"/><path d="M0.4,3.4 L1.9,3.4 L1.9,6.8 L0.4,6.8 Z" fill="#a89890"/><path d="M1.9,3.4 L7.8,1.2 L7.8,7.4 L1.9,6.7 Z" fill="#fbf1ea"/><ellipse cx="8.6" cy="4.3" rx="2.0" ry="3.7" fill="#fbf1ea"/><ellipse cx="9.0" cy="4.3" rx="0.8" ry="2.0" fill="#7a6c65" stroke="none"/><path d="M12.2,2.9 L13.0,2.7 M12.3,5.6 L13.1,5.8" stroke-width="0.6" fill="none"/></g>
<g transform="translate(288.70,244.60) scale(1.080)" stroke-linecap="round"><path d="M4.40,1.90 L4.40,0.70 M1.80,3.11 L0.88,2.34 M7.00,3.11 L7.92,2.34 M1.00,5.30 L-0.20,5.30 M7.80,5.30 L9.00,5.30 M1.61,7.25 L0.63,7.94 M7.19,7.25 L8.17,7.94 " stroke="#4a403a" stroke-width="0.75" fill="none"/><circle cx="4.4" cy="5.3" r="2.6" fill="#fbf3ec" stroke="#7a6e68" stroke-width="0.5"/><path d="M3.1,7.9 L5.7,7.9 L5.6,11.3 Q4.4,12.3 3.2,11.3 Z" fill="#4e443e"/><circle cx="3.5" cy="5.6" r="0.55" fill="#3a302b"/><circle cx="5.4" cy="5.6" r="0.55" fill="#3a302b"/></g>
<g transform="translate(301.10,246.40) scale(1.000)" stroke="#4a403a" stroke-width="0.75" stroke-linejoin="round" stroke-linecap="round"><path d="M2.2,6.7 L2.2,10.4 Q3.3,11.3 4.4,10.4 L4.4,6.9" fill="#fbf1ea"/><path d="M0.4,3.4 L1.9,3.4 L1.9,6.8 L0.4,6.8 Z" fill="#a89890"/><path d="M1.9,3.4 L7.8,1.2 L7.8,7.4 L1.9,6.7 Z" fill="#fbf1ea"/><ellipse cx="8.6" cy="4.3" rx="2.0" ry="3.7" fill="#fbf1ea"/><ellipse cx="9.0" cy="4.3" rx="0.8" ry="2.0" fill="#7a6c65" stroke="none"/><path d="M12.2,2.9 L13.0,2.7 M12.3,5.6 L13.1,5.8" stroke-width="0.6" fill="none"/></g>
<g transform="translate(258.00,278.50) scale(1.000)" fill="none" stroke="#5a4a44" stroke-width="0.95" stroke-linecap="round" stroke-linejoin="round"><circle cx="4.8" cy="2.0" r="1.3" fill="#8a7a74"/><circle cx="10.0" cy="1.7" r="1.1" fill="#8a7a74"/><path d="M5.5,3.2 L7.2,8.3 L3.6,12.8 M7.2,8.3 L10.2,12.5 M6.6,4.6 L9.8,2.0 Q11.4,4.5 11.2,7.4 M6.0,4.8 L0.5,7.0"/></g>
<g transform="translate(367.50,238.30) scale(1.000)" fill="none" stroke="#5a4a44" stroke-width="0.95" stroke-linecap="round" stroke-linejoin="round"><circle cx="4.8" cy="2.0" r="1.3" fill="#8a7a74"/><circle cx="10.0" cy="1.7" r="1.1" fill="#8a7a74"/><path d="M5.5,3.2 L7.2,8.3 L3.6,12.8 M7.2,8.3 L10.2,12.5 M6.6,4.6 L9.8,2.0 Q11.4,4.5 11.2,7.4 M6.0,4.8 L0.5,7.0"/></g>
<g transform="translate(371.00,296.30) scale(1.000)" stroke="#4a403a" stroke-width="0.75" stroke-linejoin="round" stroke-linecap="round"><path d="M2.2,6.7 L2.2,10.4 Q3.3,11.3 4.4,10.4 L4.4,6.9" fill="#fbf1ea"/><path d="M0.4,3.4 L1.9,3.4 L1.9,6.8 L0.4,6.8 Z" fill="#a89890"/><path d="M1.9,3.4 L7.8,1.2 L7.8,7.4 L1.9,6.7 Z" fill="#fbf1ea"/><ellipse cx="8.6" cy="4.3" rx="2.0" ry="3.7" fill="#fbf1ea"/><ellipse cx="9.0" cy="4.3" rx="0.8" ry="2.0" fill="#7a6c65" stroke="none"/><path d="M12.2,2.9 L13.0,2.7 M12.3,5.6 L13.1,5.8" stroke-width="0.6" fill="none"/></g>
<g transform="translate(443.00,268.60) scale(1.000)" stroke="#4a403a" stroke-width="0.75" stroke-linejoin="round" stroke-linecap="round"><path d="M2.2,6.7 L2.2,10.4 Q3.3,11.3 4.4,10.4 L4.4,6.9" fill="#fbf1ea"/><path d="M0.4,3.4 L1.9,3.4 L1.9,6.8 L0.4,6.8 Z" fill="#a89890"/><path d="M1.9,3.4 L7.8,1.2 L7.8,7.4 L1.9,6.7 Z" fill="#fbf1ea"/><ellipse cx="8.6" cy="4.3" rx="2.0" ry="3.7" fill="#fbf1ea"/><ellipse cx="9.0" cy="4.3" rx="0.8" ry="2.0" fill="#7a6c65" stroke="none"/><path d="M12.2,2.9 L13.0,2.7 M12.3,5.6 L13.1,5.8" stroke-width="0.6" fill="none"/></g>
<g transform="translate(533.60,294.40) scale(1.000)" stroke="#4a403a" stroke-width="0.75" stroke-linejoin="round" stroke-linecap="round"><path d="M2.2,6.7 L2.2,10.4 Q3.3,11.3 4.4,10.4 L4.4,6.9" fill="#fbf1ea"/><path d="M0.4,3.4 L1.9,3.4 L1.9,6.8 L0.4,6.8 Z" fill="#a89890"/><path d="M1.9,3.4 L7.8,1.2 L7.8,7.4 L1.9,6.7 Z" fill="#fbf1ea"/><ellipse cx="8.6" cy="4.3" rx="2.0" ry="3.7" fill="#fbf1ea"/><ellipse cx="9.0" cy="4.3" rx="0.8" ry="2.0" fill="#7a6c65" stroke="none"/><path d="M12.2,2.9 L13.0,2.7 M12.3,5.6 L13.1,5.8" stroke-width="0.6" fill="none"/></g>
<g transform="translate(586.80,242.00) scale(1.000)" stroke="#4a403a" stroke-width="0.75" stroke-linejoin="round" stroke-linecap="round"><path d="M2.2,6.7 L2.2,10.4 Q3.3,11.3 4.4,10.4 L4.4,6.9" fill="#fbf1ea"/><path d="M0.4,3.4 L1.9,3.4 L1.9,6.8 L0.4,6.8 Z" fill="#a89890"/><path d="M1.9,3.4 L7.8,1.2 L7.8,7.4 L1.9,6.7 Z" fill="#fbf1ea"/><ellipse cx="8.6" cy="4.3" rx="2.0" ry="3.7" fill="#fbf1ea"/><ellipse cx="9.0" cy="4.3" rx="0.8" ry="2.0" fill="#7a6c65" stroke="none"/><path d="M12.2,2.9 L13.0,2.7 M12.3,5.6 L13.1,5.8" stroke-width="0.6" fill="none"/></g>
</svg>
</body></html>
